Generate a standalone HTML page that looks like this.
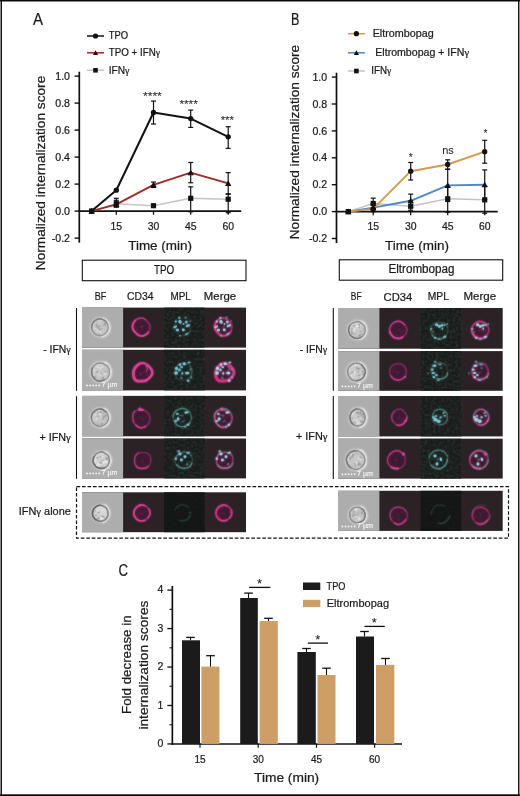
<!DOCTYPE html>
<html><head><meta charset="utf-8"><title>Figure</title>
<style>
html,body{margin:0;padding:0;background:#fff;}
body{width:520px;height:796px;overflow:hidden;font-family:"Liberation Sans",sans-serif;}
svg{display:block;will-change:transform;}
text{font-family:"Liberation Sans",sans-serif;stroke:#1a1a1a;stroke-width:0.22px;}
</style></head><body>
<svg width="520" height="796" viewBox="0 0 520 796">
<defs>
<filter id="b4" x="-20%" y="-20%" width="140%" height="140%"><feGaussianBlur stdDeviation="0.45"/></filter>
<filter id="b5" x="-20%" y="-20%" width="140%" height="140%"><feGaussianBlur stdDeviation="0.55"/></filter>
<filter id="b6" x="-20%" y="-20%" width="140%" height="140%"><feGaussianBlur stdDeviation="0.6"/></filter>
<filter id="b7" x="-20%" y="-20%" width="140%" height="140%"><feGaussianBlur stdDeviation="0.8"/></filter>
<filter id="b8" x="-20%" y="-20%" width="140%" height="140%"><feGaussianBlur stdDeviation="0.8"/></filter>
<radialGradient id="bfg"><stop offset="0" stop-color="#dcdcdc"/><stop offset="0.7" stop-color="#cdcdcd"/><stop offset="1" stop-color="#b9b9b9"/></radialGradient>
<filter id="nz" x="0" y="0" width="100%" height="100%"><feTurbulence type="fractalNoise" baseFrequency="0.36" numOctaves="2" seed="3" result="t"/><feColorMatrix type="matrix" values="0 0 0 0 0.19  0 0 0 0 0.24  0 0 0 0 0.20  0 2.4 0 0 -0.9"/></filter>
<filter id="nzg" x="0" y="0" width="100%" height="100%"><feTurbulence type="fractalNoise" baseFrequency="0.8" numOctaves="1" seed="5"/><feColorMatrix type="matrix" values="0 0 0 0 0.5  0 0 0 0 0.5  0 0 0 0 0.5  0 1.2 0 0 -0.5"/></filter>
</defs>
<rect x="0" y="0" width="520" height="796" fill="#fff"/>

<text x="33.1" y="24.6" font-size="17" text-anchor="start" fill="#1a1a1a" textLength="10" lengthAdjust="spacingAndGlyphs" >A</text>
<line x1="79.3" y1="71.69999999999999" x2="79.3" y2="242.7" stroke="#111" stroke-width="1.7" />
<line x1="78.5" y1="211.1" x2="241.2" y2="211.1" stroke="#111" stroke-width="1.75" />
<line x1="74.6" y1="76.1" x2="79.3" y2="76.1" stroke="#111" stroke-width="1.4" />
<text x="70.0" y="79.69999999999999" font-size="10.6" text-anchor="end" fill="#1a1a1a" >1.0</text>
<line x1="74.6" y1="103.1" x2="79.3" y2="103.1" stroke="#111" stroke-width="1.4" />
<text x="70.0" y="106.69999999999999" font-size="10.6" text-anchor="end" fill="#1a1a1a" >0.8</text>
<line x1="74.6" y1="130.1" x2="79.3" y2="130.1" stroke="#111" stroke-width="1.4" />
<text x="70.0" y="133.7" font-size="10.6" text-anchor="end" fill="#1a1a1a" >0.6</text>
<line x1="74.6" y1="157.1" x2="79.3" y2="157.1" stroke="#111" stroke-width="1.4" />
<text x="70.0" y="160.7" font-size="10.6" text-anchor="end" fill="#1a1a1a" >0.4</text>
<line x1="74.6" y1="184.1" x2="79.3" y2="184.1" stroke="#111" stroke-width="1.4" />
<text x="70.0" y="187.7" font-size="10.6" text-anchor="end" fill="#1a1a1a" >0.2</text>
<line x1="74.6" y1="211.1" x2="79.3" y2="211.1" stroke="#111" stroke-width="1.4" />
<text x="70.0" y="214.7" font-size="10.6" text-anchor="end" fill="#1a1a1a" >0.0</text>
<line x1="74.6" y1="238.1" x2="79.3" y2="238.1" stroke="#111" stroke-width="1.4" />
<text x="70.0" y="241.7" font-size="10.6" text-anchor="end" fill="#1a1a1a" >-0.2</text>
<line x1="116.3" y1="211.1" x2="116.3" y2="214.7" stroke="#111" stroke-width="1.3" />
<text x="116.3" y="229.9" font-size="10.6" text-anchor="middle" fill="#1a1a1a" textLength="11.6" lengthAdjust="spacingAndGlyphs" >15</text>
<line x1="153.5" y1="211.1" x2="153.5" y2="214.7" stroke="#111" stroke-width="1.3" />
<text x="153.5" y="229.9" font-size="10.6" text-anchor="middle" fill="#1a1a1a" textLength="11.6" lengthAdjust="spacingAndGlyphs" >30</text>
<line x1="190.7" y1="211.1" x2="190.7" y2="214.7" stroke="#111" stroke-width="1.3" />
<text x="190.7" y="229.9" font-size="10.6" text-anchor="middle" fill="#1a1a1a" textLength="11.6" lengthAdjust="spacingAndGlyphs" >45</text>
<line x1="228.2" y1="211.1" x2="228.2" y2="214.7" stroke="#111" stroke-width="1.3" />
<text x="228.2" y="229.9" font-size="10.6" text-anchor="middle" fill="#1a1a1a" textLength="11.6" lengthAdjust="spacingAndGlyphs" >60</text>
<text x="160.1" y="249.5" font-size="12.8" text-anchor="middle" fill="#1a1a1a" textLength="63.8" lengthAdjust="spacingAndGlyphs" >Time (min)</text>
<text x="44.9" y="270.2" font-size="13" text-anchor="start" fill="#1a1a1a" textLength="194.5" lengthAdjust="spacingAndGlyphs" transform="rotate(-90 44.9 270.2)" >Normalized internalization score</text>
<polyline points="91.6,211.1 116.3,203.7 153.5,205.7 190.7,198.3 228.2,199.2" fill="none" stroke="#c9c1c4" stroke-width="1.4" stroke-linejoin="round"/>
<polyline points="91.6,211.1 116.3,204.3 153.5,184.8 190.7,172.6 228.2,183.4" fill="none" stroke="#9c2c25" stroke-width="1.9" stroke-linejoin="round"/>
<polyline points="91.6,211.1 116.3,190.2 153.5,112.5 190.7,118.6 228.2,136.8" fill="none" stroke="#111111" stroke-width="2.0" stroke-linejoin="round"/>
<line x1="116.3" y1="198.275" x2="116.3" y2="207.04999999999998" stroke="#111" stroke-width="1.2" />
<line x1="113.8" y1="198.275" x2="118.8" y2="198.275" stroke="#111" stroke-width="1.2" />
<line x1="113.8" y1="207.04999999999998" x2="118.8" y2="207.04999999999998" stroke="#111" stroke-width="1.2" />
<line x1="190.7" y1="186.79999999999998" x2="190.7" y2="211.775" stroke="#111" stroke-width="1.2" />
<line x1="188.2" y1="186.79999999999998" x2="193.2" y2="186.79999999999998" stroke="#111" stroke-width="1.2" />
<line x1="188.2" y1="211.775" x2="193.2" y2="211.775" stroke="#111" stroke-width="1.2" />
<line x1="228.2" y1="193.82" x2="228.2" y2="212.72" stroke="#111" stroke-width="1.2" />
<line x1="225.7" y1="193.82" x2="230.7" y2="193.82" stroke="#111" stroke-width="1.2" />
<line x1="225.7" y1="212.72" x2="230.7" y2="212.72" stroke="#111" stroke-width="1.2" />
<line x1="116.3" y1="200.29999999999998" x2="116.3" y2="207.04999999999998" stroke="#111" stroke-width="1.2" />
<line x1="113.8" y1="200.29999999999998" x2="118.8" y2="200.29999999999998" stroke="#111" stroke-width="1.2" />
<line x1="113.8" y1="207.04999999999998" x2="118.8" y2="207.04999999999998" stroke="#111" stroke-width="1.2" />
<line x1="153.5" y1="182.075" x2="153.5" y2="187.475" stroke="#111" stroke-width="1.2" />
<line x1="151.0" y1="182.075" x2="156.0" y2="182.075" stroke="#111" stroke-width="1.2" />
<line x1="151.0" y1="187.475" x2="156.0" y2="187.475" stroke="#111" stroke-width="1.2" />
<line x1="190.7" y1="162.5" x2="190.7" y2="182.75" stroke="#111" stroke-width="1.2" />
<line x1="188.2" y1="162.5" x2="193.2" y2="162.5" stroke="#111" stroke-width="1.2" />
<line x1="188.2" y1="182.75" x2="193.2" y2="182.75" stroke="#111" stroke-width="1.2" />
<line x1="228.2" y1="172.625" x2="228.2" y2="194.225" stroke="#111" stroke-width="1.2" />
<line x1="225.7" y1="172.625" x2="230.7" y2="172.625" stroke="#111" stroke-width="1.2" />
<line x1="225.7" y1="194.225" x2="230.7" y2="194.225" stroke="#111" stroke-width="1.2" />
<line x1="153.5" y1="101.075" x2="153.5" y2="124.02499999999999" stroke="#111" stroke-width="1.2" />
<line x1="151.0" y1="101.075" x2="156.0" y2="101.075" stroke="#111" stroke-width="1.2" />
<line x1="151.0" y1="124.02499999999999" x2="156.0" y2="124.02499999999999" stroke="#111" stroke-width="1.2" />
<line x1="190.7" y1="110.11999999999999" x2="190.7" y2="127.39999999999998" stroke="#111" stroke-width="1.2" />
<line x1="188.2" y1="110.11999999999999" x2="193.2" y2="110.11999999999999" stroke="#111" stroke-width="1.2" />
<line x1="188.2" y1="127.39999999999998" x2="193.2" y2="127.39999999999998" stroke="#111" stroke-width="1.2" />
<line x1="228.2" y1="126.725" x2="228.2" y2="148.325" stroke="#111" stroke-width="1.2" />
<line x1="225.7" y1="126.725" x2="230.7" y2="126.725" stroke="#111" stroke-width="1.2" />
<line x1="225.7" y1="148.325" x2="230.7" y2="148.325" stroke="#111" stroke-width="1.2" />
<rect x="89.0" y="208.5" width="5.2" height="5.2" fill="#111"/>
<rect x="113.7" y="201.1" width="5.2" height="5.2" fill="#111"/>
<rect x="150.9" y="203.1" width="5.2" height="5.2" fill="#111"/>
<rect x="188.1" y="195.70000000000002" width="5.2" height="5.2" fill="#111"/>
<rect x="225.6" y="196.6" width="5.2" height="5.2" fill="#111"/>
<path d="M88.39999999999999,213.66 L94.8,213.66 L91.6,208.06 Z" fill="#111"/>
<path d="M113.1,206.86 L119.5,206.86 L116.3,201.26000000000002 Z" fill="#111"/>
<path d="M150.3,187.36 L156.7,187.36 L153.5,181.76000000000002 Z" fill="#111"/>
<path d="M187.5,175.16 L193.89999999999998,175.16 L190.7,169.56 Z" fill="#111"/>
<path d="M225.0,185.96 L231.39999999999998,185.96 L228.2,180.36 Z" fill="#111"/>
<circle cx="91.6" cy="211.1" r="2.65" fill="#111"/>
<circle cx="116.3" cy="190.2" r="2.65" fill="#111"/>
<circle cx="153.5" cy="112.5" r="2.65" fill="#111"/>
<circle cx="190.7" cy="118.6" r="2.65" fill="#111"/>
<circle cx="228.2" cy="136.8" r="2.65" fill="#111"/>
<line x1="87" y1="36" x2="104" y2="36" stroke="#111" stroke-width="1.5" />
<circle cx="95.5" cy="36" r="2.6" fill="#111"/>
<text x="108.7" y="39.4" font-size="10" text-anchor="start" fill="#1a1a1a" textLength="19.3" lengthAdjust="spacingAndGlyphs" >TPO</text>
<line x1="87" y1="52.8" x2="104" y2="52.8" stroke="#9c2c25" stroke-width="1.5" />
<path d="M92.9,54.879999999999995 L98.1,54.879999999999995 L95.5,50.33 Z" fill="#111"/>
<text x="108.7" y="56.199999999999996" font-size="10" text-anchor="start" fill="#1a1a1a" textLength="51.3" lengthAdjust="spacingAndGlyphs" >TPO + IFN<tspan font-family="Liberation Serif, serif" font-size="9.8">γ</tspan></text>
<line x1="87" y1="70.3" x2="104" y2="70.3" stroke="#c9c1c4" stroke-width="1.5" />
<rect x="93.2" y="68.0" width="4.6" height="4.6" fill="#111"/>
<text x="108.7" y="73.7" font-size="10" text-anchor="start" fill="#1a1a1a" textLength="20.7" lengthAdjust="spacingAndGlyphs" >IFN<tspan font-family="Liberation Serif, serif" font-size="9.8">γ</tspan></text>
<text x="152.4" y="99.6" font-size="10" text-anchor="middle" fill="#2a2a2a" textLength="18.9" lengthAdjust="spacingAndGlyphs" style="stroke-width:0.08px">****</text>
<text x="188.6" y="107.9" font-size="10" text-anchor="middle" fill="#2a2a2a" textLength="18.4" lengthAdjust="spacingAndGlyphs" style="stroke-width:0.08px">****</text>
<text x="227.3" y="123.7" font-size="10" text-anchor="middle" fill="#2a2a2a" textLength="13.3" lengthAdjust="spacingAndGlyphs" style="stroke-width:0.08px">***</text>
<text x="291" y="24.6" font-size="16.6" text-anchor="start" fill="#1a1a1a" textLength="8.4" lengthAdjust="spacingAndGlyphs" >B</text>
<line x1="336.5" y1="72.69999999999999" x2="336.5" y2="243.1" stroke="#111" stroke-width="1.7" />
<line x1="335.7" y1="211.6" x2="497.7" y2="211.6" stroke="#111" stroke-width="1.75" />
<line x1="331.8" y1="77.1" x2="336.5" y2="77.1" stroke="#111" stroke-width="1.4" />
<text x="327.2" y="80.69999999999999" font-size="10.6" text-anchor="end" fill="#1a1a1a" >1.0</text>
<line x1="331.8" y1="103.99999999999999" x2="336.5" y2="103.99999999999999" stroke="#111" stroke-width="1.4" />
<text x="327.2" y="107.59999999999998" font-size="10.6" text-anchor="end" fill="#1a1a1a" >0.8</text>
<line x1="331.8" y1="130.89999999999998" x2="336.5" y2="130.89999999999998" stroke="#111" stroke-width="1.4" />
<text x="327.2" y="134.49999999999997" font-size="10.6" text-anchor="end" fill="#1a1a1a" >0.6</text>
<line x1="331.8" y1="157.79999999999998" x2="336.5" y2="157.79999999999998" stroke="#111" stroke-width="1.4" />
<text x="327.2" y="161.39999999999998" font-size="10.6" text-anchor="end" fill="#1a1a1a" >0.4</text>
<line x1="331.8" y1="184.7" x2="336.5" y2="184.7" stroke="#111" stroke-width="1.4" />
<text x="327.2" y="188.29999999999998" font-size="10.6" text-anchor="end" fill="#1a1a1a" >0.2</text>
<line x1="331.8" y1="211.6" x2="336.5" y2="211.6" stroke="#111" stroke-width="1.4" />
<text x="327.2" y="215.2" font-size="10.6" text-anchor="end" fill="#1a1a1a" >0.0</text>
<line x1="331.8" y1="238.5" x2="336.5" y2="238.5" stroke="#111" stroke-width="1.4" />
<text x="327.2" y="242.1" font-size="10.6" text-anchor="end" fill="#1a1a1a" >-0.2</text>
<line x1="373.2" y1="211.6" x2="373.2" y2="215.2" stroke="#111" stroke-width="1.3" />
<text x="373.2" y="230.4" font-size="10.6" text-anchor="middle" fill="#1a1a1a" textLength="11.6" lengthAdjust="spacingAndGlyphs" >15</text>
<line x1="410.7" y1="211.6" x2="410.7" y2="215.2" stroke="#111" stroke-width="1.3" />
<text x="410.7" y="230.4" font-size="10.6" text-anchor="middle" fill="#1a1a1a" textLength="11.6" lengthAdjust="spacingAndGlyphs" >30</text>
<line x1="447.7" y1="211.6" x2="447.7" y2="215.2" stroke="#111" stroke-width="1.3" />
<text x="447.7" y="230.4" font-size="10.6" text-anchor="middle" fill="#1a1a1a" textLength="11.6" lengthAdjust="spacingAndGlyphs" >45</text>
<line x1="484.7" y1="211.6" x2="484.7" y2="215.2" stroke="#111" stroke-width="1.3" />
<text x="484.7" y="230.4" font-size="10.6" text-anchor="middle" fill="#1a1a1a" textLength="11.6" lengthAdjust="spacingAndGlyphs" >60</text>
<text x="417.0" y="250.0" font-size="12.8" text-anchor="middle" fill="#1a1a1a" textLength="63.8" lengthAdjust="spacingAndGlyphs" >Time (min)</text>
<text x="298.9" y="239.3" font-size="13" text-anchor="start" fill="#1a1a1a" textLength="194.5" lengthAdjust="spacingAndGlyphs" transform="rotate(-90 298.9 239.3)" >Normalized internalization score</text>
<polyline points="348.3,211.6 373.2,203.5 410.7,206.2 447.7,198.8 484.7,199.8" fill="none" stroke="#c9c1c4" stroke-width="1.4" stroke-linejoin="round"/>
<polyline points="348.3,211.6 373.2,207.6 410.7,200.8 447.7,185.4 484.7,184.7" fill="none" stroke="#4f86c6" stroke-width="1.9" stroke-linejoin="round"/>
<polyline points="348.3,211.6 373.2,208.9 410.7,171.2 447.7,164.5 484.7,151.7" fill="none" stroke="#d19a4f" stroke-width="1.9" stroke-linejoin="round"/>
<line x1="373.2" y1="198.15" x2="373.2" y2="208.91" stroke="#111" stroke-width="1.2" />
<line x1="370.7" y1="198.15" x2="375.7" y2="198.15" stroke="#111" stroke-width="1.2" />
<line x1="370.7" y1="208.91" x2="375.7" y2="208.91" stroke="#111" stroke-width="1.2" />
<line x1="410.7" y1="200.84" x2="410.7" y2="210.255" stroke="#111" stroke-width="1.2" />
<line x1="408.2" y1="200.84" x2="413.2" y2="200.84" stroke="#111" stroke-width="1.2" />
<line x1="408.2" y1="210.255" x2="413.2" y2="210.255" stroke="#111" stroke-width="1.2" />
<line x1="447.7" y1="186.7175" x2="447.7" y2="212.2725" stroke="#111" stroke-width="1.2" />
<line x1="445.2" y1="186.7175" x2="450.2" y2="186.7175" stroke="#111" stroke-width="1.2" />
<line x1="445.2" y1="212.2725" x2="450.2" y2="212.2725" stroke="#111" stroke-width="1.2" />
<line x1="484.7" y1="186.314" x2="484.7" y2="213.214" stroke="#111" stroke-width="1.2" />
<line x1="482.2" y1="186.314" x2="487.2" y2="186.314" stroke="#111" stroke-width="1.2" />
<line x1="482.2" y1="213.214" x2="487.2" y2="213.214" stroke="#111" stroke-width="1.2" />
<line x1="373.2" y1="203.53" x2="373.2" y2="211.6" stroke="#111" stroke-width="1.2" />
<line x1="370.7" y1="203.53" x2="375.7" y2="203.53" stroke="#111" stroke-width="1.2" />
<line x1="370.7" y1="211.6" x2="375.7" y2="211.6" stroke="#111" stroke-width="1.2" />
<line x1="410.7" y1="194.115" x2="410.7" y2="207.565" stroke="#111" stroke-width="1.2" />
<line x1="408.2" y1="194.115" x2="413.2" y2="194.115" stroke="#111" stroke-width="1.2" />
<line x1="408.2" y1="207.565" x2="413.2" y2="207.565" stroke="#111" stroke-width="1.2" />
<line x1="447.7" y1="169.2325" x2="447.7" y2="201.5125" stroke="#111" stroke-width="1.2" />
<line x1="445.2" y1="169.2325" x2="450.2" y2="169.2325" stroke="#111" stroke-width="1.2" />
<line x1="445.2" y1="201.5125" x2="450.2" y2="201.5125" stroke="#111" stroke-width="1.2" />
<line x1="484.7" y1="169.905" x2="484.7" y2="199.495" stroke="#111" stroke-width="1.2" />
<line x1="482.2" y1="169.905" x2="487.2" y2="169.905" stroke="#111" stroke-width="1.2" />
<line x1="482.2" y1="199.495" x2="487.2" y2="199.495" stroke="#111" stroke-width="1.2" />
<line x1="373.2" y1="204.875" x2="373.2" y2="211.6" stroke="#111" stroke-width="1.2" />
<line x1="370.7" y1="204.875" x2="375.7" y2="204.875" stroke="#111" stroke-width="1.2" />
<line x1="370.7" y1="211.6" x2="375.7" y2="211.6" stroke="#111" stroke-width="1.2" />
<line x1="410.7" y1="162.5075" x2="410.7" y2="179.9925" stroke="#111" stroke-width="1.2" />
<line x1="408.2" y1="162.5075" x2="413.2" y2="162.5075" stroke="#111" stroke-width="1.2" />
<line x1="408.2" y1="179.9925" x2="413.2" y2="179.9925" stroke="#111" stroke-width="1.2" />
<line x1="447.7" y1="159.8175" x2="447.7" y2="169.23250000000002" stroke="#111" stroke-width="1.2" />
<line x1="445.2" y1="159.8175" x2="450.2" y2="159.8175" stroke="#111" stroke-width="1.2" />
<line x1="445.2" y1="169.23250000000002" x2="450.2" y2="169.23250000000002" stroke="#111" stroke-width="1.2" />
<line x1="484.7" y1="140.315" x2="484.7" y2="163.18" stroke="#111" stroke-width="1.2" />
<line x1="482.2" y1="140.315" x2="487.2" y2="140.315" stroke="#111" stroke-width="1.2" />
<line x1="482.2" y1="163.18" x2="487.2" y2="163.18" stroke="#111" stroke-width="1.2" />
<rect x="345.7" y="209.0" width="5.2" height="5.2" fill="#111"/>
<rect x="370.59999999999997" y="200.9" width="5.2" height="5.2" fill="#111"/>
<rect x="408.09999999999997" y="203.6" width="5.2" height="5.2" fill="#111"/>
<rect x="445.09999999999997" y="196.20000000000002" width="5.2" height="5.2" fill="#111"/>
<rect x="482.09999999999997" y="197.20000000000002" width="5.2" height="5.2" fill="#111"/>
<path d="M345.1,214.16 L351.5,214.16 L348.3,208.56 Z" fill="#111"/>
<path d="M370.0,210.16 L376.4,210.16 L373.2,204.56 Z" fill="#111"/>
<path d="M407.5,203.36 L413.9,203.36 L410.7,197.76000000000002 Z" fill="#111"/>
<path d="M444.5,187.96 L450.9,187.96 L447.7,182.36 Z" fill="#111"/>
<path d="M481.5,187.26 L487.9,187.26 L484.7,181.66 Z" fill="#111"/>
<circle cx="348.3" cy="211.6" r="2.65" fill="#111"/>
<circle cx="373.2" cy="208.9" r="2.65" fill="#111"/>
<circle cx="410.7" cy="171.2" r="2.65" fill="#111"/>
<circle cx="447.7" cy="164.5" r="2.65" fill="#111"/>
<circle cx="484.7" cy="151.7" r="2.65" fill="#111"/>
<line x1="347.9" y1="33.7" x2="364.9" y2="33.7" stroke="#d19a4f" stroke-width="1.5" />
<circle cx="356.4" cy="33.7" r="2.6" fill="#111"/>
<text x="372.7" y="37.1" font-size="10" text-anchor="start" fill="#1a1a1a" textLength="61" lengthAdjust="spacingAndGlyphs" >Eltrombopag</text>
<line x1="347.9" y1="52.8" x2="364.9" y2="52.8" stroke="#4f86c6" stroke-width="1.5" />
<path d="M353.79999999999995,54.879999999999995 L359.0,54.879999999999995 L356.4,50.33 Z" fill="#111"/>
<text x="375.3" y="56.199999999999996" font-size="10" text-anchor="start" fill="#1a1a1a" textLength="93.7" lengthAdjust="spacingAndGlyphs" >Eltrombopag + IFN<tspan font-family="Liberation Serif, serif" font-size="9.8">γ</tspan></text>
<line x1="347.9" y1="71" x2="364.9" y2="71" stroke="#c9c1c4" stroke-width="1.5" />
<rect x="354.09999999999997" y="68.7" width="4.6" height="4.6" fill="#111"/>
<text x="371.2" y="74.4" font-size="10" text-anchor="start" fill="#1a1a1a" textLength="20" lengthAdjust="spacingAndGlyphs" >IFN<tspan font-family="Liberation Serif, serif" font-size="9.8">γ</tspan></text>
<text x="410.7" y="161" font-size="10" text-anchor="middle" fill="#2a2a2a" style="stroke-width:0.08px">*</text>
<text x="448" y="154" font-size="11" text-anchor="middle" fill="#2a2a2a" style="stroke-width:0.08px">ns</text>
<text x="485.5" y="137" font-size="10" text-anchor="middle" fill="#2a2a2a" style="stroke-width:0.08px">*</text>
<rect x="82.3" y="260.2" width="163.7" height="20.5" fill="none" stroke="#111" stroke-width="1.1" />
<text x="164.15" y="273.7" font-size="12" text-anchor="middle" fill="#1a1a1a" textLength="20.3" lengthAdjust="spacingAndGlyphs" >TPO</text>
<text x="100.4" y="300.3" font-size="10.5" text-anchor="middle" fill="#1a1a1a" textLength="11.5" lengthAdjust="spacingAndGlyphs" >BF</text>
<text x="140.2" y="300.4" font-size="11" text-anchor="middle" fill="#1a1a1a" textLength="26.5" lengthAdjust="spacingAndGlyphs" >CD34</text>
<text x="180.6" y="300.3" font-size="10.5" text-anchor="middle" fill="#1a1a1a" textLength="20.4" lengthAdjust="spacingAndGlyphs" >MPL</text>
<text x="220" y="300.3" font-size="10.8" text-anchor="middle" fill="#1a1a1a" textLength="32.3" lengthAdjust="spacingAndGlyphs" >Merge</text>
<rect x="82.0" y="307.6" width="164.0" height="40.0" fill="#2a2224" />
<rect x="82.0" y="307.6" width="41.099999999999994" height="40.0" fill="#adadad" />
<rect x="164.0" y="307.6" width="40.599999999999994" height="40.0" fill="#181c1a" />
<rect x="82.0" y="349.8" width="164.0" height="40.599999999999966" fill="#2a2224" />
<rect x="82.0" y="349.8" width="41.099999999999994" height="40.599999999999966" fill="#adadad" />
<rect x="164.0" y="349.8" width="40.599999999999994" height="40.599999999999966" fill="#181c1a" />
<rect x="82.0" y="395.9" width="164.0" height="40.400000000000034" fill="#2a2224" />
<rect x="82.0" y="395.9" width="41.099999999999994" height="40.400000000000034" fill="#adadad" />
<rect x="164.0" y="395.9" width="40.599999999999994" height="40.400000000000034" fill="#181c1a" />
<rect x="82.0" y="438.5" width="164.0" height="39.89999999999998" fill="#2a2224" />
<rect x="82.0" y="438.5" width="41.099999999999994" height="39.89999999999998" fill="#adadad" />
<rect x="164.0" y="438.5" width="40.599999999999994" height="39.89999999999998" fill="#181c1a" />
<rect x="82.0" y="492.3" width="164.0" height="39.900000000000034" fill="#2a2224" />
<rect x="82.0" y="492.3" width="41.099999999999994" height="39.900000000000034" fill="#adadad" />
<rect x="164.0" y="492.3" width="40.599999999999994" height="39.900000000000034" fill="#131615" />
<line x1="76.5" y1="308" x2="76.5" y2="390.8" stroke="#111" stroke-width="1.1" />
<line x1="76.5" y1="396.2" x2="76.5" y2="478.8" stroke="#111" stroke-width="1.1" />
<text x="70.8" y="353.3" font-size="10.5" text-anchor="end" fill="#1a1a1a" textLength="27.5" lengthAdjust="spacingAndGlyphs" >- IFN<tspan font-family="Liberation Serif, serif" font-size="10.3">γ</tspan></text>
<text x="70.8" y="440.5" font-size="10.5" text-anchor="end" fill="#1a1a1a" textLength="31.3" lengthAdjust="spacingAndGlyphs" >+ IFN<tspan font-family="Liberation Serif, serif" font-size="10.3">γ</tspan></text>
<text x="70.8" y="515" font-size="10.5" text-anchor="end" fill="#1a1a1a" textLength="52" lengthAdjust="spacingAndGlyphs" >IFN<tspan font-family="Liberation Serif, serif" font-size="10.3">γ</tspan> alone</text>
<rect x="339.3" y="259.8" width="163.39999999999998" height="20.399999999999977" fill="none" stroke="#111" stroke-width="1.1" />
<text x="421.5" y="273.2" font-size="12" text-anchor="middle" fill="#1a1a1a" textLength="66.2" lengthAdjust="spacingAndGlyphs" >Eltrombopag</text>
<text x="356.2" y="299.8" font-size="10.5" text-anchor="middle" fill="#1a1a1a" textLength="10.8" lengthAdjust="spacingAndGlyphs" >BF</text>
<text x="397.9" y="300.6" font-size="11.5" text-anchor="middle" fill="#1a1a1a" textLength="28.8" lengthAdjust="spacingAndGlyphs" >CD34</text>
<text x="438.3" y="299.8" font-size="10.5" text-anchor="middle" fill="#1a1a1a" textLength="21.2" lengthAdjust="spacingAndGlyphs" >MPL</text>
<text x="479.8" y="299.8" font-size="10.8" text-anchor="middle" fill="#1a1a1a" textLength="32.7" lengthAdjust="spacingAndGlyphs" >Merge</text>
<rect x="338.0" y="308.0" width="164.7" height="40.69999999999999" fill="#2a2224" />
<rect x="338.0" y="308.0" width="41.39999999999998" height="40.69999999999999" fill="#adadad" />
<rect x="420.6" y="308.0" width="40.69999999999999" height="40.69999999999999" fill="#181c1a" />
<rect x="338.0" y="351.1" width="164.7" height="39.69999999999999" fill="#2a2224" />
<rect x="338.0" y="351.1" width="41.39999999999998" height="39.69999999999999" fill="#adadad" />
<rect x="420.6" y="351.1" width="40.69999999999999" height="39.69999999999999" fill="#181c1a" />
<rect x="338.0" y="396.0" width="164.7" height="40.39999999999998" fill="#2a2224" />
<rect x="338.0" y="396.0" width="41.39999999999998" height="40.39999999999998" fill="#adadad" />
<rect x="420.6" y="396.0" width="40.69999999999999" height="40.39999999999998" fill="#181c1a" />
<rect x="338.0" y="438.7" width="164.7" height="39.900000000000034" fill="#2a2224" />
<rect x="338.0" y="438.7" width="41.39999999999998" height="39.900000000000034" fill="#adadad" />
<rect x="420.6" y="438.7" width="40.69999999999999" height="39.900000000000034" fill="#181c1a" />
<rect x="338.0" y="490.8" width="164.7" height="40.099999999999966" fill="#2a2224" />
<rect x="338.0" y="490.8" width="41.39999999999998" height="40.099999999999966" fill="#adadad" />
<rect x="420.6" y="490.8" width="40.69999999999999" height="40.099999999999966" fill="#131615" />
<line x1="333.3" y1="308" x2="333.3" y2="390.8" stroke="#111" stroke-width="1.1" />
<line x1="333.3" y1="396" x2="333.3" y2="479" stroke="#111" stroke-width="1.1" />
<text x="327.3" y="352.9" font-size="10.5" text-anchor="end" fill="#1a1a1a" textLength="27.5" lengthAdjust="spacingAndGlyphs" >- IFN<tspan font-family="Liberation Serif, serif" font-size="10.3">γ</tspan></text>
<text x="327.5" y="440.3" font-size="10.5" text-anchor="end" fill="#1a1a1a" textLength="31.5" lengthAdjust="spacingAndGlyphs" >+ IFN<tspan font-family="Liberation Serif, serif" font-size="10.3">γ</tspan></text>
<rect x="164.0" y="307.6" width="40.6" height="40.0" fill="#000" filter="url(#nz)" opacity="0.17"/>
<rect x="82.0" y="307.6" width="41.1" height="40.0" fill="#000" filter="url(#nzg)" opacity="0.10"/>
<rect x="164.0" y="349.8" width="40.6" height="40.6" fill="#000" filter="url(#nz)" opacity="0.17"/>
<rect x="82.0" y="349.8" width="41.1" height="40.6" fill="#000" filter="url(#nzg)" opacity="0.10"/>
<rect x="164.0" y="395.9" width="40.6" height="40.4" fill="#000" filter="url(#nz)" opacity="0.17"/>
<rect x="82.0" y="395.9" width="41.1" height="40.4" fill="#000" filter="url(#nzg)" opacity="0.10"/>
<rect x="164.0" y="438.5" width="40.6" height="39.9" fill="#000" filter="url(#nz)" opacity="0.17"/>
<rect x="82.0" y="438.5" width="41.1" height="39.9" fill="#000" filter="url(#nzg)" opacity="0.10"/>
<rect x="164.0" y="492.3" width="40.6" height="39.9" fill="#000" filter="url(#nz)" opacity="0.04"/>
<rect x="82.0" y="492.3" width="41.1" height="39.9" fill="#000" filter="url(#nzg)" opacity="0.10"/>
<rect x="420.6" y="308.0" width="40.7" height="40.7" fill="#000" filter="url(#nz)" opacity="0.17"/>
<rect x="338.0" y="308.0" width="41.4" height="40.7" fill="#000" filter="url(#nzg)" opacity="0.10"/>
<rect x="420.6" y="351.1" width="40.7" height="39.7" fill="#000" filter="url(#nz)" opacity="0.17"/>
<rect x="338.0" y="351.1" width="41.4" height="39.7" fill="#000" filter="url(#nzg)" opacity="0.10"/>
<rect x="420.6" y="396.0" width="40.7" height="40.4" fill="#000" filter="url(#nz)" opacity="0.17"/>
<rect x="338.0" y="396.0" width="41.4" height="40.4" fill="#000" filter="url(#nzg)" opacity="0.10"/>
<rect x="420.6" y="438.7" width="40.7" height="39.9" fill="#000" filter="url(#nz)" opacity="0.17"/>
<rect x="338.0" y="438.7" width="41.4" height="39.9" fill="#000" filter="url(#nzg)" opacity="0.10"/>
<rect x="420.6" y="490.8" width="40.7" height="40.1" fill="#000" filter="url(#nz)" opacity="0.04"/>
<rect x="338.0" y="490.8" width="41.4" height="40.1" fill="#000" filter="url(#nzg)" opacity="0.10"/>
<defs><g id="k1">
<circle cx="99.9" cy="327.3" r="9.8" fill="none" stroke="#d4d4d4" stroke-width="1.4" opacity="0.75"/>
<path d="M103.2,318.2 L104.6,318.9 L105.9,319.8 L107.1,320.8 L108.1,322.1 L108.9,323.5 L109.4,325.0 L109.7,326.5 L109.7,328.2 L109.5,329.8 L109.0,331.3 L108.1,332.7 L107.1,333.9 L106.0,335.0 L104.6,335.9 L103.1,336.5 L101.6,337.0" fill="none" stroke="#efefef" stroke-width="1.6" opacity="0.95"/>
<circle cx="99.9" cy="327.3" r="8.0" fill="#c9c9c9" opacity="0.9"/>
<ellipse cx="96.9" cy="330.9" rx="0.9" ry="0.6" fill="#9a9a9a" opacity="0.71" transform="rotate(168 96.9 330.9)"/>
<ellipse cx="99.1" cy="324.1" rx="0.7" ry="0.8" fill="#f8f8f8" opacity="0.71" transform="rotate(85 99.1 324.1)"/>
<ellipse cx="96.6" cy="321.5" rx="0.7" ry="0.8" fill="#858585" opacity="0.71" transform="rotate(154 96.6 321.5)"/>
<ellipse cx="99.8" cy="333.7" rx="1.1" ry="1.0" fill="#888" opacity="0.71" transform="rotate(180 99.8 333.7)"/>
<ellipse cx="99.0" cy="330.4" rx="1.0" ry="0.9" fill="#858585" opacity="0.71" transform="rotate(22 99.0 330.4)"/>
<ellipse cx="97.3" cy="330.9" rx="1.6" ry="0.8" fill="#eee" opacity="0.71" transform="rotate(11 97.3 330.9)"/>
<ellipse cx="99.5" cy="329.2" rx="1.2" ry="0.8" fill="#888" opacity="0.71" transform="rotate(39 99.5 329.2)"/>
<ellipse cx="98.5" cy="330.9" rx="0.8" ry="1.1" fill="#e4e4e4" opacity="0.71" transform="rotate(3 98.5 330.9)"/>
<ellipse cx="93.9" cy="329.4" rx="1.5" ry="0.9" fill="#888" opacity="0.71" transform="rotate(31 93.9 329.4)"/>
<ellipse cx="94.8" cy="328.8" rx="1.3" ry="1.3" fill="#e4e4e4" opacity="0.71" transform="rotate(59 94.8 328.8)"/>
<ellipse cx="105.5" cy="324.2" rx="1.2" ry="1.1" fill="#888" opacity="0.71" transform="rotate(102 105.5 324.2)"/>
<ellipse cx="96.2" cy="324.4" rx="0.9" ry="0.7" fill="#929292" opacity="0.71" transform="rotate(23 96.2 324.4)"/>
<ellipse cx="96.7" cy="326.4" rx="1.3" ry="1.2" fill="#9a9a9a" opacity="0.71" transform="rotate(29 96.7 326.4)"/>
<ellipse cx="99.8" cy="325.8" rx="0.8" ry="1.0" fill="#9a9a9a" opacity="0.71" transform="rotate(65 99.8 325.8)"/>
<ellipse cx="100.2" cy="332.5" rx="1.2" ry="1.2" fill="#f8f8f8" opacity="0.71" transform="rotate(26 100.2 332.5)"/>
<ellipse cx="97.7" cy="324.6" rx="0.7" ry="0.9" fill="#9a9a9a" opacity="0.71" transform="rotate(119 97.7 324.6)"/>
<ellipse cx="98.6" cy="327.6" rx="1.3" ry="0.9" fill="#888" opacity="0.71" transform="rotate(65 98.6 327.6)"/>
<ellipse cx="104.2" cy="325.1" rx="1.4" ry="0.7" fill="#929292" opacity="0.71" transform="rotate(161 104.2 325.1)"/>
<ellipse cx="101.7" cy="328.8" rx="0.8" ry="0.9" fill="#9a9a9a" opacity="0.71" transform="rotate(32 101.7 328.8)"/>
<ellipse cx="104.6" cy="323.0" rx="1.2" ry="0.9" fill="#9a9a9a" opacity="0.71" transform="rotate(92 104.6 323.0)"/>
<path d="M94.2,330.6 L93.7,329.6 L93.4,328.6 L93.3,327.5 L93.3,326.5 L93.6,325.4 L93.9,324.4 L94.4,323.4 L95.1,322.6 L96.0,321.9 L96.9,321.3 L97.9,320.8 L98.9,320.5 L100.1,320.4 L101.1,320.7 L102.2,321.1" fill="none" stroke="#f4f4f4" stroke-width="1.0" opacity="0.57"/>
<path d="M108.1,327.3 L108.1,328.6 L107.8,329.9 L107.3,331.1 L106.6,332.2 L105.7,333.1 L104.8,334.0 L103.7,334.7 L102.5,335.2 L101.2,335.5 L99.9,335.7 L98.6,335.5 L97.4,335.1 L96.1,334.7 L95.0,334.1 L94.1,333.1 L93.4,332.0 L92.7,331.0 L92.1,329.8 L91.8,328.6 L91.7,327.3 L91.8,326.0 L92.2,324.8 L92.5,323.5 L93.1,322.4 L94.0,321.4 L95.1,320.7 L96.1,319.9 L97.3,319.3 L98.6,318.9 L99.9,318.8 L101.2,319.1 L102.4,319.5 L103.7,319.9 L104.9,320.4 L105.9,321.3 L106.7,322.3 L107.4,323.5 L107.9,324.7 L108.1,326.0 L108.1,327.3 Z" fill="none" stroke="#7b7b7b" stroke-width="1.14" opacity="0.95"/>
<path d="M91.8,328.7 L91.7,327.4 L91.8,326.1 L92.2,324.8 L92.6,323.5 L93.2,322.2 L94.2,321.3 L95.3,320.5 L96.4,319.7 L97.6,319.2 L99.0,318.8 L100.4,318.8 L101.7,319.2 L103.0,319.7 L104.3,320.1 L105.4,320.9 L106.4,321.9" fill="none" stroke="#5b5b5b" stroke-width="1.19" opacity="0.85"/>
</g></defs>
<use href="#k1" filter="url(#b8)" opacity="0.9"/><use href="#k1" opacity="0.55"/>
<defs><g id="k2">
<circle cx="141.4" cy="326.8" r="8.7" fill="#48183a" opacity="0.71"/>
<circle cx="141.7" cy="326.8" r="1.0" fill="#a82a74" opacity="0.27"/>
<circle cx="135.9" cy="327.4" r="0.8" fill="#a82a74" opacity="0.27"/>
<circle cx="142.2" cy="326.3" r="1.1" fill="#a82a74" opacity="0.27"/>
<circle cx="140.5" cy="327.4" r="0.8" fill="#a82a74" opacity="0.27"/>
<circle cx="141.3" cy="326.7" r="0.8" fill="#a82a74" opacity="0.27"/>
<circle cx="141.8" cy="326.8" r="0.7" fill="#a82a74" opacity="0.27"/>
<circle cx="141.6" cy="328.4" r="1.0" fill="#a82a74" opacity="0.27"/>
<circle cx="137.0" cy="329.3" r="1.0" fill="#a82a74" opacity="0.27"/>
<path d="M149.9,326.8 L149.9,328.1 L149.6,329.5 L149.2,330.8 L148.6,332.0 L147.7,333.1 L146.7,334.1 L145.5,334.8 L144.2,335.4 L142.8,335.8 L141.4,336.0 L140.0,335.8 L138.7,335.2 L137.5,334.4 L136.5,333.5 L135.6,332.6 L134.7,331.7 L133.9,330.6 L133.2,329.5 L132.7,328.2 L132.5,326.8 L132.6,325.4 L133.0,324.1 L133.5,322.8 L134.3,321.6 L135.2,320.6 L136.2,319.7 L137.4,319.0 L138.7,318.5 L140.0,318.2 L141.4,318.1 L142.8,318.2 L144.0,318.8 L145.1,319.5 L146.1,320.3 L147.0,321.2 L147.9,322.1 L148.7,323.1 L149.3,324.2 L149.8,325.5 L149.9,326.8 Z" fill="none" stroke="#cf3690" stroke-width="2.40" opacity="0.16"/>
<path d="M149.9,326.8 L149.9,328.1 L149.6,329.5 L149.2,330.8 L148.6,332.0 L147.7,333.1 L146.7,334.1 L145.5,334.8 L144.2,335.4 L142.8,335.8 L141.4,336.0 L140.0,335.8 L138.7,335.2 L137.5,334.4 L136.5,333.5 L135.6,332.6 L134.7,331.7 L133.9,330.6 L133.2,329.5 L132.7,328.2 L132.5,326.8 L132.6,325.4 L133.0,324.1 L133.5,322.8 L134.3,321.6 L135.2,320.6 L136.2,319.7 L137.4,319.0 L138.7,318.5 L140.0,318.2 L141.4,318.1 L142.8,318.2 L144.0,318.8 L145.1,319.5 L146.1,320.3 L147.0,321.2 L147.9,322.1 L148.7,323.1 L149.3,324.2 L149.8,325.5 L149.9,326.8 Z" fill="none" stroke="#cf3690" stroke-width="1.35" opacity="0.54"/>
<path d="M148.2,332.5 L147.2,333.6 L146.1,334.5 L144.8,335.2 L143.5,335.7 L142.0,335.9 L140.5,335.9 L139.1,335.4 L137.9,334.7 L136.8,333.8 L135.9,332.8 L134.9,331.9 L134.1,330.9 L133.3,329.7 L132.8,328.4 L132.5,327.0 L132.6,325.6 L132.9,324.2 L133.5,322.9 L134.3,321.7 L135.2,320.6" fill="none" stroke="#f046a6" stroke-width="1.90" opacity="1.00" stroke-linecap="round"/>
<path d="M138.4,335.0 L137.3,334.2 L136.3,333.3 L135.4,332.4 L134.5,331.4 L133.7,330.4 L133.0,329.2 L132.6,327.9 L132.5,326.5 L132.7,325.1 L133.1,323.8" fill="none" stroke="#f046a6" stroke-width="1.30" opacity="0.75" stroke-linecap="round"/>
<path d="M135.2,320.6 L136.3,319.7 L137.5,318.9 L138.9,318.4 L140.3,318.1 L141.7,318.1 L143.1,318.3 L144.4,319.0 L145.5,319.8" fill="none" stroke="#f046a6" stroke-width="1.30" opacity="0.52" stroke-linecap="round"/>
</g></defs>
<use href="#k2" filter="url(#b8)" opacity="0.6"/><use href="#k2" opacity="0.7"/>
<defs><g id="k3">
<path d="M190.8,326.7 L190.7,328.0 L190.6,329.4 L190.2,330.7 L189.5,332.0 L188.6,333.0 L187.6,333.9 L186.4,334.7 L185.1,335.2 L183.7,335.5 L182.3,335.5 L180.9,335.2 L179.7,334.8 L178.5,334.2 L177.4,333.5 L176.3,332.7 L175.2,331.8 L174.4,330.7 L173.8,329.5 L173.5,328.1 L173.5,326.7 L173.7,325.3 L174.0,324.0 L174.6,322.8 L175.4,321.7 L176.4,320.8 L177.5,320.0 L178.6,319.4 L179.7,318.7 L181.0,318.2 L182.3,317.8 L183.7,317.8 L185.1,318.2 L186.3,318.9 L187.3,319.8 L188.2,320.8 L189.1,321.8 L189.8,322.9 L190.3,324.1 L190.7,325.4 L190.8,326.7 Z" fill="none" stroke="#5aa69c" stroke-width="1.3" opacity="0.10"/>
<path d="M190.5,329.7 L190.2,330.8 L189.6,331.8 L188.9,332.8 L188.1,333.6 L187.1,334.2 L186.1,334.8 L185.0,335.2 L183.8,335.5" fill="none" stroke="#6cc4be" stroke-width="1.00" opacity="0.26" stroke-linecap="round"/>
<ellipse cx="179.4" cy="317.8" rx="1.10" ry="1.10" fill="#8adcee" opacity="0.85"/>
<ellipse cx="180.0" cy="321.8" rx="1.65" ry="1.87" fill="#8adcee" opacity="1.0" transform="rotate(-30 180.0 321.8)"/>
<ellipse cx="175.8" cy="321.6" rx="1.10" ry="1.10" fill="#8adcee" opacity="0.9"/>
<ellipse cx="186.3" cy="322.1" rx="1.32" ry="1.32" fill="#8adcee" opacity="0.95"/>
<ellipse cx="183.5" cy="323.9" rx="0.99" ry="0.99" fill="#8adcee" opacity="0.85"/>
<ellipse cx="187.9" cy="325.7" rx="2.31" ry="1.21" fill="#8adcee" opacity="1.0" transform="rotate(-25 187.9 325.7)"/>
<ellipse cx="175.2" cy="326.7" rx="2.09" ry="1.10" fill="#8adcee" opacity="0.9" transform="rotate(-30 175.2 326.7)"/>
<ellipse cx="177.4" cy="330.1" rx="1.54" ry="1.32" fill="#8adcee" opacity="1.0"/>
<ellipse cx="183.3" cy="329.9" rx="1.43" ry="1.43" fill="#8adcee" opacity="1.0"/>
<ellipse cx="186.9" cy="333.9" rx="1.98" ry="0.99" fill="#7fd4e4" opacity="0.7" transform="rotate(-35 186.9 333.9)"/>
<ellipse cx="180.0" cy="335.8" rx="1.32" ry="0.99" fill="#7fd4e4" opacity="0.55"/>
<ellipse cx="185.6" cy="317.5" rx="1.21" ry="0.88" fill="#7fd4e4" opacity="0.5"/>
<ellipse cx="190.2" cy="321.1" rx="0.88" ry="0.88" fill="#7fd4e4" opacity="0.45"/>
</g></defs>
<use href="#k3" filter="url(#b8)" opacity="0.65"/><use href="#k3" opacity="0.7"/>
<defs><g id="k4">
<circle cx="223.4" cy="326.8" r="8.7" fill="#48183a" opacity="0.55"/>
<circle cx="223.7" cy="326.8" r="1.0" fill="#a82a74" opacity="0.35"/>
<circle cx="217.9" cy="327.4" r="0.8" fill="#a82a74" opacity="0.35"/>
<circle cx="224.2" cy="326.3" r="1.1" fill="#a82a74" opacity="0.35"/>
<circle cx="222.5" cy="327.4" r="0.8" fill="#a82a74" opacity="0.35"/>
<circle cx="223.3" cy="326.7" r="0.8" fill="#a82a74" opacity="0.35"/>
<circle cx="223.8" cy="326.8" r="0.7" fill="#a82a74" opacity="0.35"/>
<circle cx="223.6" cy="328.4" r="1.0" fill="#a82a74" opacity="0.35"/>
<circle cx="219.0" cy="329.3" r="1.0" fill="#a82a74" opacity="0.35"/>
<path d="M231.8,326.8 L231.7,328.1 L231.5,329.4 L231.1,330.7 L230.5,332.0 L229.6,333.0 L228.6,333.9 L227.4,334.7 L226.2,335.3 L224.8,335.7 L223.4,335.8 L222.0,335.6 L220.7,335.1 L219.6,334.3 L218.6,333.4 L217.7,332.5 L216.8,331.6 L216.0,330.6 L215.3,329.4 L214.8,328.2 L214.6,326.8 L214.8,325.4 L215.1,324.1 L215.6,322.8 L216.4,321.7 L217.3,320.7 L218.3,319.8 L219.5,319.1 L220.7,318.6 L222.1,318.3 L223.4,318.2 L224.7,318.4 L226.0,318.9 L227.1,319.6 L228.0,320.4 L228.9,321.3 L229.8,322.2 L230.6,323.2 L231.2,324.3 L231.7,325.5 L231.8,326.8 Z" fill="none" stroke="#d6237c" stroke-width="2.69" opacity="0.21"/>
<path d="M231.8,326.8 L231.7,328.1 L231.5,329.4 L231.1,330.7 L230.5,332.0 L229.6,333.0 L228.6,333.9 L227.4,334.7 L226.2,335.3 L224.8,335.7 L223.4,335.8 L222.0,335.6 L220.7,335.1 L219.6,334.3 L218.6,333.4 L217.7,332.5 L216.8,331.6 L216.0,330.6 L215.3,329.4 L214.8,328.2 L214.6,326.8 L214.8,325.4 L215.1,324.1 L215.6,322.8 L216.4,321.7 L217.3,320.7 L218.3,319.8 L219.5,319.1 L220.7,318.6 L222.1,318.3 L223.4,318.2 L224.7,318.4 L226.0,318.9 L227.1,319.6 L228.0,320.4 L228.9,321.3 L229.8,322.2 L230.6,323.2 L231.2,324.3 L231.7,325.5 L231.8,326.8 Z" fill="none" stroke="#d6237c" stroke-width="1.51" opacity="0.70"/>
<path d="M230.1,332.5 L229.2,333.5 L228.0,334.4 L226.8,335.1 L225.4,335.6 L224.0,335.8 L222.5,335.8 L221.2,335.3 L219.9,334.6 L218.9,333.7 L217.9,332.8 L217.0,331.8 L216.2,330.8 L215.4,329.7 L214.9,328.4 L214.6,327.0 L214.7,325.6 L215.1,324.2 L215.6,322.9 L216.4,321.7 L217.3,320.7" fill="none" stroke="#f0308e" stroke-width="1.90" opacity="1.00" stroke-linecap="round"/>
<path d="M220.4,334.9 L219.4,334.1 L218.4,333.2 L217.5,332.3 L216.6,331.4 L215.8,330.3 L215.2,329.2 L214.7,327.9 L214.6,326.5 L214.8,325.1 L215.2,323.8" fill="none" stroke="#f0308e" stroke-width="1.30" opacity="0.75" stroke-linecap="round"/>
<path d="M217.3,320.7 L218.4,319.8 L219.6,319.0 L220.9,318.5 L222.3,318.3 L223.7,318.2 L225.1,318.5 L226.3,319.1 L227.4,319.9" fill="none" stroke="#f0308e" stroke-width="1.30" opacity="0.52" stroke-linecap="round"/>
</g></defs>
<use href="#k4" filter="url(#b8)" opacity="0.6"/><use href="#k4" opacity="0.7"/>
<defs><g id="k5">
<path d="M231.8,326.7 L231.7,328.0 L231.6,329.4 L231.2,330.7 L230.5,332.0 L229.6,333.0 L228.6,333.9 L227.4,334.7 L226.1,335.2 L224.7,335.5 L223.3,335.5 L221.9,335.2 L220.7,334.8 L219.5,334.2 L218.4,333.5 L217.3,332.7 L216.2,331.8 L215.4,330.7 L214.8,329.5 L214.5,328.1 L214.5,326.7 L214.7,325.3 L215.0,324.0 L215.6,322.8 L216.4,321.7 L217.4,320.8 L218.5,320.0 L219.6,319.4 L220.7,318.7 L222.0,318.2 L223.3,317.8 L224.7,317.8 L226.1,318.2 L227.3,318.9 L228.3,319.8 L229.2,320.8 L230.1,321.8 L230.8,322.9 L231.3,324.1 L231.7,325.4 L231.8,326.7 Z" fill="none" stroke="#5aa69c" stroke-width="1.3" opacity="0.06"/>
<path d="M231.5,329.7 L231.2,330.8 L230.6,331.8 L229.9,332.8 L229.1,333.6 L228.1,334.2 L227.1,334.8 L226.0,335.2 L224.8,335.5" fill="none" stroke="#6cc4be" stroke-width="1.00" opacity="0.20" stroke-linecap="round"/>
<ellipse cx="220.4" cy="317.8" rx="1.10" ry="1.10" fill="#b4eaf6" opacity="0.85"/>
<ellipse cx="221.0" cy="321.8" rx="1.65" ry="1.87" fill="#b4eaf6" opacity="1.0" transform="rotate(-30 221.0 321.8)"/>
<ellipse cx="216.8" cy="321.6" rx="1.10" ry="1.10" fill="#b4eaf6" opacity="0.9"/>
<ellipse cx="227.3" cy="322.1" rx="1.32" ry="1.32" fill="#b4eaf6" opacity="0.95"/>
<ellipse cx="224.5" cy="323.9" rx="0.99" ry="0.99" fill="#b4eaf6" opacity="0.85"/>
<ellipse cx="228.9" cy="325.7" rx="2.31" ry="1.21" fill="#b4eaf6" opacity="1.0" transform="rotate(-25 228.9 325.7)"/>
<ellipse cx="216.2" cy="326.7" rx="2.09" ry="1.10" fill="#b4eaf6" opacity="0.9" transform="rotate(-30 216.2 326.7)"/>
<ellipse cx="218.4" cy="330.1" rx="1.54" ry="1.32" fill="#b4eaf6" opacity="1.0"/>
<ellipse cx="224.3" cy="329.9" rx="1.43" ry="1.43" fill="#b4eaf6" opacity="1.0"/>
<ellipse cx="227.9" cy="333.9" rx="1.98" ry="0.99" fill="#7fd4e4" opacity="0.7" transform="rotate(-35 227.9 333.9)"/>
<ellipse cx="221.0" cy="335.8" rx="1.32" ry="0.99" fill="#7fd4e4" opacity="0.55"/>
<ellipse cx="226.6" cy="317.5" rx="1.21" ry="0.88" fill="#7fd4e4" opacity="0.5"/>
<ellipse cx="231.2" cy="321.1" rx="0.88" ry="0.88" fill="#7fd4e4" opacity="0.45"/>
</g></defs>
<use href="#k5" filter="url(#b8)" opacity="0.65"/><use href="#k5" opacity="0.7"/>
<defs><g id="k6">
<circle cx="100.5" cy="372.0" r="10.5" fill="none" stroke="#d4d4d4" stroke-width="1.4" opacity="0.75"/>
<path d="M104.1,362.1 L105.7,362.7 L107.2,363.7 L108.4,364.9 L109.4,366.3 L110.2,367.9 L110.7,369.5 L111.0,371.2 L111.1,372.9 L110.8,374.6 L110.2,376.3 L109.2,377.7 L108.2,379.1 L107.1,380.4 L105.6,381.3 L103.9,381.8 L102.3,382.3" fill="none" stroke="#efefef" stroke-width="1.6" opacity="0.95"/>
<circle cx="100.5" cy="372.0" r="8.7" fill="#c9c9c9" opacity="0.9"/>
<ellipse cx="103.6" cy="377.3" rx="1.1" ry="0.8" fill="#858585" opacity="0.71" transform="rotate(121 103.6 377.3)"/>
<ellipse cx="102.4" cy="367.1" rx="1.4" ry="0.6" fill="#f8f8f8" opacity="0.71" transform="rotate(149 102.4 367.1)"/>
<ellipse cx="98.0" cy="373.2" rx="1.5" ry="1.1" fill="#f8f8f8" opacity="0.71" transform="rotate(111 98.0 373.2)"/>
<ellipse cx="106.8" cy="371.9" rx="1.3" ry="0.6" fill="#9a9a9a" opacity="0.71" transform="rotate(84 106.8 371.9)"/>
<ellipse cx="94.5" cy="370.5" rx="0.7" ry="1.1" fill="#fff" opacity="0.71" transform="rotate(22 94.5 370.5)"/>
<ellipse cx="105.5" cy="377.0" rx="0.8" ry="1.1" fill="#e4e4e4" opacity="0.71" transform="rotate(102 105.5 377.0)"/>
<ellipse cx="97.3" cy="372.3" rx="1.1" ry="1.2" fill="#888" opacity="0.71" transform="rotate(19 97.3 372.3)"/>
<ellipse cx="101.1" cy="368.7" rx="0.8" ry="0.9" fill="#929292" opacity="0.71" transform="rotate(99 101.1 368.7)"/>
<ellipse cx="102.6" cy="378.8" rx="1.0" ry="1.3" fill="#9a9a9a" opacity="0.71" transform="rotate(128 102.6 378.8)"/>
<ellipse cx="95.0" cy="376.8" rx="0.9" ry="1.2" fill="#9a9a9a" opacity="0.71" transform="rotate(40 95.0 376.8)"/>
<ellipse cx="99.0" cy="364.8" rx="0.7" ry="0.6" fill="#e4e4e4" opacity="0.71" transform="rotate(153 99.0 364.8)"/>
<ellipse cx="100.5" cy="368.5" rx="1.2" ry="1.0" fill="#fff" opacity="0.71" transform="rotate(46 100.5 368.5)"/>
<ellipse cx="97.7" cy="366.9" rx="1.0" ry="1.0" fill="#fff" opacity="0.71" transform="rotate(78 97.7 366.9)"/>
<ellipse cx="100.6" cy="375.0" rx="1.4" ry="0.9" fill="#eee" opacity="0.71" transform="rotate(174 100.6 375.0)"/>
<ellipse cx="105.7" cy="373.2" rx="1.1" ry="1.3" fill="#f8f8f8" opacity="0.71" transform="rotate(151 105.7 373.2)"/>
<ellipse cx="104.8" cy="372.4" rx="1.3" ry="1.3" fill="#9a9a9a" opacity="0.71" transform="rotate(62 104.8 372.4)"/>
<ellipse cx="101.5" cy="373.7" rx="1.4" ry="0.9" fill="#9a9a9a" opacity="0.71" transform="rotate(73 101.5 373.7)"/>
<ellipse cx="104.0" cy="373.2" rx="0.7" ry="0.8" fill="#858585" opacity="0.71" transform="rotate(100 104.0 373.2)"/>
<ellipse cx="104.4" cy="373.8" rx="1.6" ry="1.1" fill="#eee" opacity="0.71" transform="rotate(122 104.4 373.8)"/>
<ellipse cx="103.1" cy="372.8" rx="0.7" ry="0.7" fill="#e4e4e4" opacity="0.71" transform="rotate(93 103.1 372.8)"/>
<path d="M94.1,375.7 L93.7,374.6 L93.4,373.4 L93.3,372.3 L93.3,371.1 L93.5,369.9 L93.9,368.8 L94.4,367.7 L95.3,366.8 L96.3,366.2 L97.2,365.4 L98.3,364.8 L99.5,364.7 L100.7,364.7 L101.8,364.8 L103.0,365.2" fill="none" stroke="#f4f4f4" stroke-width="1.0" opacity="0.57"/>
<path d="M109.3,372.0 L109.4,373.4 L109.2,374.8 L108.6,376.1 L107.8,377.3 L106.9,378.4 L105.8,379.3 L104.5,379.9 L103.2,380.4 L101.9,380.9 L100.5,381.2 L99.1,381.0 L97.7,380.7 L96.4,380.1 L95.2,379.3 L94.1,378.4 L93.2,377.3 L92.5,376.1 L92.1,374.7 L91.8,373.4 L91.8,372.0 L91.8,370.6 L92.0,369.2 L92.5,367.9 L93.2,366.7 L94.2,365.7 L95.3,364.9 L96.4,364.0 L97.7,363.3 L99.1,363.1 L100.5,363.1 L101.9,363.3 L103.2,363.6 L104.5,364.2 L105.6,364.9 L106.9,365.6 L108.0,366.6 L108.7,367.8 L109.2,369.2 L109.4,370.6 L109.3,372.0 Z" fill="none" stroke="#787878" stroke-width="1.17" opacity="0.95"/>
<path d="M105.0,379.8 L103.6,380.3 L102.2,380.8 L100.8,381.1 L99.3,381.1 L97.8,380.8 L96.5,380.2 L95.3,379.3 L94.1,378.4 L93.2,377.2 L92.5,375.9 L92.0,374.6 L91.8,373.1 L91.8,371.7 L91.8,370.3 L92.1,368.9 L92.7,367.5" fill="none" stroke="#585858" stroke-width="1.22" opacity="0.85"/>
</g></defs>
<use href="#k6" filter="url(#b8)" opacity="0.9"/><use href="#k6" opacity="0.55"/>
<defs><g id="k7">
<circle cx="142.3" cy="372.6" r="9.9" fill="#48183a" opacity="0.81"/>
<circle cx="146.8" cy="374.9" r="1.1" fill="#a82a74" opacity="0.34"/>
<circle cx="136.9" cy="375.8" r="0.8" fill="#a82a74" opacity="0.34"/>
<circle cx="137.9" cy="368.4" r="0.7" fill="#a82a74" opacity="0.34"/>
<circle cx="143.4" cy="372.9" r="0.6" fill="#a82a74" opacity="0.34"/>
<circle cx="141.5" cy="372.9" r="0.6" fill="#a82a74" opacity="0.34"/>
<circle cx="141.3" cy="375.1" r="1.0" fill="#a82a74" opacity="0.34"/>
<circle cx="146.6" cy="372.9" r="1.1" fill="#a82a74" opacity="0.34"/>
<circle cx="142.2" cy="371.5" r="0.7" fill="#a82a74" opacity="0.34"/>
<path d="M152.3,372.6 L152.0,374.1 L151.4,375.5 L150.4,376.7 L149.4,377.8 L148.4,378.7 L147.4,379.6 L146.2,380.3 L144.9,380.7 L143.6,381.0 L142.3,381.1 L140.9,381.1 L139.5,381.2 L138.0,381.1 L136.5,380.6 L135.2,379.7 L134.3,378.4 L133.8,377.0 L133.6,375.4 L133.5,374.0 L133.5,372.6 L133.7,371.2 L134.0,369.9 L134.6,368.7 L135.3,367.5 L136.2,366.5 L137.2,365.5 L138.2,364.6 L139.5,363.9 L140.8,363.3 L142.3,363.1 L143.8,363.3 L145.2,363.7 L146.5,364.4 L147.6,365.3 L148.7,366.2 L149.7,367.3 L150.6,368.4 L151.5,369.6 L152.1,371.1 L152.3,372.6 Z" fill="none" stroke="#cf3690" stroke-width="3.48" opacity="0.21"/>
<path d="M152.3,372.6 L152.0,374.1 L151.4,375.5 L150.4,376.7 L149.4,377.8 L148.4,378.7 L147.4,379.6 L146.2,380.3 L144.9,380.7 L143.6,381.0 L142.3,381.1 L140.9,381.1 L139.5,381.2 L138.0,381.1 L136.5,380.6 L135.2,379.7 L134.3,378.4 L133.8,377.0 L133.6,375.4 L133.5,374.0 L133.5,372.6 L133.7,371.2 L134.0,369.9 L134.6,368.7 L135.3,367.5 L136.2,366.5 L137.2,365.5 L138.2,364.6 L139.5,363.9 L140.8,363.3 L142.3,363.1 L143.8,363.3 L145.2,363.7 L146.5,364.4 L147.6,365.3 L148.7,366.2 L149.7,367.3 L150.6,368.4 L151.5,369.6 L152.1,371.1 L152.3,372.6 Z" fill="none" stroke="#cf3690" stroke-width="1.96" opacity="0.69"/>
<path d="M146.6,380.1 L145.4,380.6 L144.1,380.9 L142.7,381.1 L141.4,381.1 L140.0,381.2 L138.4,381.1 L136.9,380.8 L135.5,380.0 L134.5,378.8 L133.9,377.4 L133.6,375.9 L133.5,374.4 L133.5,373.0 L133.6,371.6 L133.9,370.2 L134.4,369.0 L135.1,367.8 L136.0,366.7 L136.9,365.8 L138.0,364.8 L139.2,364.0" fill="none" stroke="#f046a6" stroke-width="2.80" opacity="1.00" stroke-linecap="round"/>
<path d="M148.1,365.7 L149.1,366.7 L150.1,367.8 L151.0,368.9 L151.8,370.3 L152.2,371.8 L152.2,373.4 L151.7,374.9 L150.9,376.2 L149.9,377.3 L148.9,378.3 L147.9,379.2" fill="none" stroke="#f046a6" stroke-width="2.40" opacity="0.98" stroke-linecap="round"/>
<path d="M139.2,364.0 L140.3,363.5 L141.5,363.2 L142.7,363.1 L143.9,363.3 L145.1,363.7 L146.2,364.3 L147.2,364.9 L148.1,365.7" fill="none" stroke="#f046a6" stroke-width="2.00" opacity="0.90" stroke-linecap="round"/>
<circle cx="146.6" cy="366.8" r="1.1" fill="#f548ac" opacity="0.8"/>
<circle cx="147.3" cy="369.0" r="1.0" fill="#f548ac" opacity="0.7"/>
<circle cx="146.5" cy="371.1" r="1.0" fill="#f548ac" opacity="0.6"/>
<circle cx="140.3" cy="373.6" r="1.0" fill="#f548ac" opacity="0.3"/>
</g></defs>
<use href="#k7" filter="url(#b8)" opacity="0.6"/><use href="#k7" opacity="0.7"/>
<defs><g id="k8">
<path d="M192.0,372.0 L191.9,373.4 L191.5,374.7 L190.9,375.9 L190.2,377.0 L189.3,378.0 L188.3,378.8 L187.1,379.5 L185.9,379.9 L184.6,380.2 L183.3,380.4 L182.0,380.4 L180.6,380.3 L179.3,379.9 L178.1,379.1 L177.1,378.2 L176.4,377.0 L175.7,375.8 L175.3,374.6 L174.9,373.3 L174.8,372.0 L174.9,370.7 L175.2,369.4 L175.7,368.1 L176.4,367.0 L177.2,365.9 L178.2,365.0 L179.4,364.3 L180.6,363.8 L181.9,363.4 L183.3,363.2 L184.7,363.3 L186.0,363.6 L187.4,364.0 L188.6,364.7 L189.7,365.6 L190.7,366.6 L191.3,367.9 L191.8,369.3 L192.0,370.6 L192.0,372.0 Z" fill="none" stroke="#5aa69c" stroke-width="1.3" opacity="0.18"/>
<path d="M190.3,366.1 L191.1,367.3 L191.6,368.7 L191.9,370.1 L192.0,371.4 L192.0,372.8 L191.7,374.2 L191.2,375.4 L190.5,376.6 L189.6,377.7 L188.6,378.6 L187.5,379.3" fill="none" stroke="#6cc4be" stroke-width="1.00" opacity="0.30" stroke-linecap="round"/>
<path d="M175.3,369.1 L175.9,367.9 L176.6,366.7 L177.4,365.7 L178.5,364.9 L179.7,364.2 L180.9,363.7 L182.2,363.3 L183.6,363.2 L185.0,363.3 L186.3,363.7" fill="none" stroke="#6cc4be" stroke-width="1.00" opacity="0.26" stroke-linecap="round"/>
<ellipse cx="184.3" cy="363.8" rx="1.54" ry="1.54" fill="#8adcee" opacity="1.0"/>
<ellipse cx="188.9" cy="362.5" rx="1.43" ry="1.10" fill="#8adcee" opacity="0.85"/>
<ellipse cx="180.0" cy="364.8" rx="1.21" ry="1.43" fill="#8adcee" opacity="0.9"/>
<ellipse cx="181.7" cy="367.1" rx="1.32" ry="1.21" fill="#8adcee" opacity="0.9"/>
<ellipse cx="176.5" cy="368.4" rx="1.54" ry="1.54" fill="#8adcee" opacity="1.0"/>
<ellipse cx="179.4" cy="370.0" rx="1.32" ry="1.43" fill="#8adcee" opacity="0.9"/>
<ellipse cx="190.5" cy="369.4" rx="0.99" ry="1.10" fill="#7fd4e4" opacity="0.5"/>
<ellipse cx="176.1" cy="373.0" rx="1.87" ry="1.76" fill="#8adcee" opacity="1.0"/>
<ellipse cx="182.3" cy="373.3" rx="0.99" ry="1.54" fill="#8adcee" opacity="0.85"/>
<ellipse cx="187.2" cy="373.1" rx="2.20" ry="1.32" fill="#8adcee" opacity="1.0"/>
<ellipse cx="181.4" cy="377.9" rx="1.10" ry="1.10" fill="#7fd4e4" opacity="0.5"/>
<ellipse cx="191.2" cy="377.5" rx="0.99" ry="1.32" fill="#7fd4e4" opacity="0.5"/>
<ellipse cx="188.2" cy="380.7" rx="1.32" ry="1.32" fill="#8adcee" opacity="0.85"/>
</g></defs>
<use href="#k8" filter="url(#b8)" opacity="0.65"/><use href="#k8" opacity="0.7"/>
<defs><g id="k9">
<circle cx="224.3" cy="372.6" r="9.9" fill="#48183a" opacity="0.58"/>
<circle cx="228.8" cy="374.9" r="1.1" fill="#a82a74" opacity="0.39"/>
<circle cx="218.9" cy="375.8" r="0.8" fill="#a82a74" opacity="0.39"/>
<circle cx="219.9" cy="368.4" r="0.7" fill="#a82a74" opacity="0.39"/>
<circle cx="225.4" cy="372.9" r="0.6" fill="#a82a74" opacity="0.39"/>
<circle cx="223.5" cy="372.9" r="0.6" fill="#a82a74" opacity="0.39"/>
<circle cx="223.3" cy="375.1" r="1.0" fill="#a82a74" opacity="0.39"/>
<circle cx="228.6" cy="372.9" r="1.1" fill="#a82a74" opacity="0.39"/>
<circle cx="224.2" cy="371.5" r="0.7" fill="#a82a74" opacity="0.39"/>
<path d="M234.1,372.6 L233.8,374.1 L233.2,375.5 L232.3,376.7 L231.3,377.7 L230.3,378.6 L229.3,379.5 L228.1,380.1 L226.9,380.6 L225.6,380.9 L224.3,380.9 L223.0,381.0 L221.6,381.0 L220.1,380.9 L218.6,380.4 L217.3,379.6 L216.4,378.3 L215.9,376.9 L215.7,375.4 L215.7,374.0 L215.7,372.6 L215.8,371.3 L216.2,370.0 L216.7,368.7 L217.4,367.6 L218.3,366.6 L219.3,365.7 L220.3,364.8 L221.5,364.0 L222.9,363.5 L224.3,363.3 L225.7,363.4 L227.1,363.9 L228.4,364.6 L229.5,365.4 L230.5,366.4 L231.5,367.4 L232.5,368.4 L233.3,369.7 L233.9,371.1 L234.1,372.6 Z" fill="none" stroke="#d6237c" stroke-width="3.90" opacity="0.23"/>
<path d="M234.1,372.6 L233.8,374.1 L233.2,375.5 L232.3,376.7 L231.3,377.7 L230.3,378.6 L229.3,379.5 L228.1,380.1 L226.9,380.6 L225.6,380.9 L224.3,380.9 L223.0,381.0 L221.6,381.0 L220.1,380.9 L218.6,380.4 L217.3,379.6 L216.4,378.3 L215.9,376.9 L215.7,375.4 L215.7,374.0 L215.7,372.6 L215.8,371.3 L216.2,370.0 L216.7,368.7 L217.4,367.6 L218.3,366.6 L219.3,365.7 L220.3,364.8 L221.5,364.0 L222.9,363.5 L224.3,363.3 L225.7,363.4 L227.1,363.9 L228.4,364.6 L229.5,365.4 L230.5,366.4 L231.5,367.4 L232.5,368.4 L233.3,369.7 L233.9,371.1 L234.1,372.6 Z" fill="none" stroke="#d6237c" stroke-width="2.19" opacity="0.78"/>
<path d="M228.5,379.9 L227.3,380.5 L226.0,380.8 L224.7,380.9 L223.4,381.0 L222.0,381.0 L220.5,381.0 L219.0,380.6 L217.7,379.9 L216.7,378.7 L216.0,377.3 L215.7,375.8 L215.7,374.3 L215.7,373.0 L215.8,371.6 L216.1,370.3 L216.6,369.0 L217.2,367.9 L218.1,366.8 L219.0,365.9 L220.1,365.0 L221.2,364.2" fill="none" stroke="#f0308e" stroke-width="2.80" opacity="1.00" stroke-linecap="round"/>
<path d="M230.0,365.8 L231.0,366.8 L232.0,367.8 L232.9,369.0 L233.6,370.3 L234.0,371.8 L234.0,373.4 L233.5,374.8 L232.7,376.1 L231.8,377.2 L230.8,378.2 L229.8,379.1" fill="none" stroke="#f0308e" stroke-width="2.40" opacity="0.98" stroke-linecap="round"/>
<path d="M221.2,364.2 L222.3,363.7 L223.5,363.4 L224.7,363.3 L225.9,363.5 L227.1,363.9 L228.1,364.4 L229.1,365.1 L230.0,365.8" fill="none" stroke="#f0308e" stroke-width="2.00" opacity="0.90" stroke-linecap="round"/>
<circle cx="228.6" cy="366.8" r="1.1" fill="#f548ac" opacity="0.8"/>
<circle cx="229.3" cy="369.0" r="1.0" fill="#f548ac" opacity="0.7"/>
<circle cx="228.5" cy="371.1" r="1.0" fill="#f548ac" opacity="0.6"/>
<circle cx="222.3" cy="373.6" r="1.0" fill="#f548ac" opacity="0.3"/>
</g></defs>
<use href="#k9" filter="url(#b8)" opacity="0.6"/><use href="#k9" opacity="0.7"/>
<defs><g id="k10">
<path d="M233.0,372.0 L232.9,373.4 L232.5,374.7 L231.9,375.9 L231.2,377.0 L230.3,378.0 L229.3,378.8 L228.1,379.5 L226.9,379.9 L225.6,380.2 L224.3,380.4 L223.0,380.4 L221.6,380.3 L220.3,379.9 L219.1,379.1 L218.1,378.2 L217.4,377.0 L216.7,375.8 L216.3,374.6 L215.9,373.3 L215.8,372.0 L215.9,370.7 L216.2,369.4 L216.7,368.1 L217.4,367.0 L218.2,365.9 L219.2,365.0 L220.4,364.3 L221.6,363.8 L222.9,363.4 L224.3,363.2 L225.7,363.3 L227.0,363.6 L228.4,364.0 L229.6,364.7 L230.7,365.6 L231.7,366.6 L232.3,367.9 L232.8,369.3 L233.0,370.6 L233.0,372.0 Z" fill="none" stroke="#5aa69c" stroke-width="1.3" opacity="0.11"/>
<path d="M231.3,366.1 L232.1,367.3 L232.6,368.7 L232.9,370.1 L233.0,371.4 L233.0,372.8 L232.7,374.2 L232.2,375.4 L231.5,376.6 L230.6,377.7 L229.6,378.6 L228.5,379.3" fill="none" stroke="#6cc4be" stroke-width="1.00" opacity="0.24" stroke-linecap="round"/>
<path d="M216.3,369.1 L216.9,367.9 L217.6,366.7 L218.4,365.7 L219.5,364.9 L220.7,364.2 L221.9,363.7 L223.2,363.3 L224.6,363.2 L226.0,363.3 L227.3,363.7" fill="none" stroke="#6cc4be" stroke-width="1.00" opacity="0.20" stroke-linecap="round"/>
<ellipse cx="225.3" cy="363.8" rx="1.54" ry="1.54" fill="#b4eaf6" opacity="1.0"/>
<ellipse cx="229.9" cy="362.5" rx="1.43" ry="1.10" fill="#b4eaf6" opacity="0.85"/>
<ellipse cx="221.0" cy="364.8" rx="1.21" ry="1.43" fill="#b4eaf6" opacity="0.9"/>
<ellipse cx="222.7" cy="367.1" rx="1.32" ry="1.21" fill="#b4eaf6" opacity="0.9"/>
<ellipse cx="217.5" cy="368.4" rx="1.54" ry="1.54" fill="#b4eaf6" opacity="1.0"/>
<ellipse cx="220.4" cy="370.0" rx="1.32" ry="1.43" fill="#b4eaf6" opacity="0.9"/>
<ellipse cx="231.5" cy="369.4" rx="0.99" ry="1.10" fill="#7fd4e4" opacity="0.5"/>
<ellipse cx="217.1" cy="373.0" rx="1.87" ry="1.76" fill="#b4eaf6" opacity="1.0"/>
<ellipse cx="223.3" cy="373.3" rx="0.99" ry="1.54" fill="#b4eaf6" opacity="0.85"/>
<ellipse cx="228.2" cy="373.1" rx="2.20" ry="1.32" fill="#b4eaf6" opacity="1.0"/>
<ellipse cx="222.4" cy="377.9" rx="1.10" ry="1.10" fill="#7fd4e4" opacity="0.5"/>
<ellipse cx="232.2" cy="377.5" rx="0.99" ry="1.32" fill="#7fd4e4" opacity="0.5"/>
<ellipse cx="229.2" cy="380.7" rx="1.32" ry="1.32" fill="#b4eaf6" opacity="0.85"/>
</g></defs>
<use href="#k10" filter="url(#b8)" opacity="0.65"/><use href="#k10" opacity="0.7"/>
<defs><g id="k11">
<circle cx="100.0" cy="417.7" r="10.0" fill="none" stroke="#d4d4d4" stroke-width="1.4" opacity="0.75"/>
<path d="M103.5,408.2 L104.9,409.0 L106.2,409.9 L107.4,411.1 L108.3,412.4 L109.2,413.8 L109.7,415.3 L110.0,416.9 L110.0,418.6 L109.6,420.2 L109.1,421.7 L108.5,423.2 L107.4,424.5 L106.1,425.5 L104.8,426.4 L103.3,427.1 L101.7,427.5" fill="none" stroke="#efefef" stroke-width="1.6" opacity="0.95"/>
<circle cx="100.0" cy="417.7" r="8.2" fill="#c7c7c7" opacity="0.9"/>
<ellipse cx="99.9" cy="414.6" rx="1.1" ry="1.0" fill="#f8f8f8" opacity="0.70" transform="rotate(32 99.9 414.6)"/>
<ellipse cx="101.0" cy="411.7" rx="1.4" ry="1.0" fill="#888" opacity="0.70" transform="rotate(43 101.0 411.7)"/>
<ellipse cx="95.5" cy="412.6" rx="1.3" ry="0.7" fill="#9a9a9a" opacity="0.70" transform="rotate(177 95.5 412.6)"/>
<ellipse cx="101.2" cy="417.5" rx="0.8" ry="0.8" fill="#f8f8f8" opacity="0.70" transform="rotate(123 101.2 417.5)"/>
<ellipse cx="103.6" cy="411.9" rx="0.9" ry="1.0" fill="#fff" opacity="0.70" transform="rotate(7 103.6 411.9)"/>
<ellipse cx="103.7" cy="417.0" rx="1.2" ry="1.1" fill="#929292" opacity="0.70" transform="rotate(118 103.7 417.0)"/>
<ellipse cx="95.8" cy="414.6" rx="1.5" ry="0.9" fill="#fff" opacity="0.70" transform="rotate(177 95.8 414.6)"/>
<ellipse cx="102.0" cy="423.9" rx="0.9" ry="1.0" fill="#858585" opacity="0.70" transform="rotate(109 102.0 423.9)"/>
<ellipse cx="97.8" cy="416.0" rx="0.8" ry="1.0" fill="#929292" opacity="0.70" transform="rotate(11 97.8 416.0)"/>
<ellipse cx="103.1" cy="418.6" rx="1.5" ry="0.8" fill="#929292" opacity="0.70" transform="rotate(104 103.1 418.6)"/>
<ellipse cx="101.4" cy="411.1" rx="1.2" ry="0.6" fill="#e4e4e4" opacity="0.70" transform="rotate(24 101.4 411.1)"/>
<ellipse cx="97.2" cy="412.2" rx="1.3" ry="0.8" fill="#eee" opacity="0.70" transform="rotate(154 97.2 412.2)"/>
<ellipse cx="101.1" cy="411.1" rx="1.0" ry="0.9" fill="#9a9a9a" opacity="0.70" transform="rotate(99 101.1 411.1)"/>
<ellipse cx="98.3" cy="411.1" rx="1.2" ry="1.0" fill="#eee" opacity="0.70" transform="rotate(158 98.3 411.1)"/>
<ellipse cx="105.4" cy="415.7" rx="1.2" ry="1.2" fill="#888" opacity="0.70" transform="rotate(8 105.4 415.7)"/>
<ellipse cx="97.9" cy="411.8" rx="1.0" ry="0.9" fill="#888" opacity="0.70" transform="rotate(16 97.9 411.8)"/>
<ellipse cx="98.3" cy="424.1" rx="1.2" ry="0.6" fill="#929292" opacity="0.70" transform="rotate(5 98.3 424.1)"/>
<ellipse cx="103.7" cy="412.2" rx="1.4" ry="0.8" fill="#888" opacity="0.70" transform="rotate(82 103.7 412.2)"/>
<ellipse cx="96.9" cy="413.6" rx="0.7" ry="0.7" fill="#9a9a9a" opacity="0.70" transform="rotate(52 96.9 413.6)"/>
<ellipse cx="96.4" cy="419.1" rx="1.5" ry="1.0" fill="#eee" opacity="0.70" transform="rotate(98 96.4 419.1)"/>
<path d="M94.0,421.2 L93.5,420.1 L93.2,419.1 L93.0,417.9 L93.1,416.8 L93.2,415.7 L93.6,414.6 L94.2,413.6 L95.0,412.8 L96.0,412.1 L96.9,411.5 L97.9,411.0 L99.0,410.7 L100.2,410.7 L101.3,410.8 L102.4,411.0" fill="none" stroke="#f4f4f4" stroke-width="1.0" opacity="0.55"/>
<path d="M108.6,417.7 L108.4,419.0 L107.9,420.3 L107.4,421.5 L106.8,422.6 L106.0,423.7 L105.0,424.6 L103.8,425.2 L102.6,425.6 L101.3,426.1 L100.0,426.3 L98.6,426.2 L97.3,425.9 L96.2,425.2 L95.1,424.4 L94.0,423.7 L93.0,422.8 L92.4,421.6 L91.9,420.3 L91.6,419.0 L91.4,417.7 L91.5,416.3 L91.7,415.0 L92.2,413.7 L92.9,412.6 L93.9,411.6 L95.0,410.9 L96.1,410.1 L97.3,409.4 L98.6,409.1 L100.0,409.1 L101.4,409.1 L102.7,409.4 L103.9,410.1 L104.9,411.0 L106.0,411.7 L107.1,412.6 L107.6,413.8 L107.9,415.1 L108.4,416.4 L108.6,417.7 Z" fill="none" stroke="#757575" stroke-width="1.20" opacity="0.95"/>
<path d="M91.6,419.2 L91.4,417.8 L91.5,416.4 L91.7,415.0 L92.2,413.7 L93.0,412.5 L94.1,411.5 L95.2,410.7 L96.4,409.9 L97.7,409.3 L99.1,409.1 L100.5,409.1 L101.9,409.2 L103.2,409.6 L104.3,410.6 L105.4,411.4 L106.6,412.1" fill="none" stroke="#555555" stroke-width="1.25" opacity="0.85"/>
</g></defs>
<use href="#k11" filter="url(#b8)" opacity="0.9"/><use href="#k11" opacity="0.55"/>
<defs><g id="k12">
<circle cx="141.0" cy="418.3" r="9.0" fill="#48183a" opacity="0.63"/>
<circle cx="142.8" cy="420.6" r="0.9" fill="#a82a74" opacity="0.22"/>
<circle cx="145.8" cy="417.3" r="1.0" fill="#a82a74" opacity="0.22"/>
<circle cx="140.6" cy="417.4" r="1.1" fill="#a82a74" opacity="0.22"/>
<circle cx="137.8" cy="419.7" r="0.6" fill="#a82a74" opacity="0.22"/>
<circle cx="139.2" cy="423.1" r="0.7" fill="#a82a74" opacity="0.22"/>
<circle cx="142.7" cy="419.3" r="0.8" fill="#a82a74" opacity="0.22"/>
<circle cx="138.1" cy="418.5" r="0.7" fill="#a82a74" opacity="0.22"/>
<circle cx="143.2" cy="418.3" r="0.8" fill="#a82a74" opacity="0.22"/>
<path d="M150.0,418.3 L149.9,419.7 L149.6,421.1 L149.1,422.4 L148.4,423.6 L147.4,424.7 L146.4,425.7 L145.2,426.5 L143.9,427.2 L142.5,427.6 L141.0,427.8 L139.5,427.6 L138.2,426.9 L137.0,426.1 L136.0,425.1 L135.1,424.2 L134.3,423.2 L133.6,422.1 L133.2,420.8 L132.9,419.6 L132.9,418.3 L132.8,417.0 L132.9,415.7 L133.1,414.3 L133.6,412.9 L134.4,411.7 L135.6,410.8 L136.9,410.3 L138.3,409.9 L139.7,409.8 L141.0,409.7 L142.3,409.8 L143.6,410.1 L144.9,410.6 L146.1,411.3 L147.1,412.2 L148.0,413.2 L148.8,414.3 L149.4,415.6 L149.9,416.9 L150.0,418.3 Z" fill="none" stroke="#cf3690" stroke-width="2.40" opacity="0.13"/>
<path d="M150.0,418.3 L149.9,419.7 L149.6,421.1 L149.1,422.4 L148.4,423.6 L147.4,424.7 L146.4,425.7 L145.2,426.5 L143.9,427.2 L142.5,427.6 L141.0,427.8 L139.5,427.6 L138.2,426.9 L137.0,426.1 L136.0,425.1 L135.1,424.2 L134.3,423.2 L133.6,422.1 L133.2,420.8 L132.9,419.6 L132.9,418.3 L132.8,417.0 L132.9,415.7 L133.1,414.3 L133.6,412.9 L134.4,411.7 L135.6,410.8 L136.9,410.3 L138.3,409.9 L139.7,409.8 L141.0,409.7 L142.3,409.8 L143.6,410.1 L144.9,410.6 L146.1,411.3 L147.1,412.2 L148.0,413.2 L148.8,414.3 L149.4,415.6 L149.9,416.9 L150.0,418.3 Z" fill="none" stroke="#cf3690" stroke-width="1.35" opacity="0.43"/>
<path d="M145.6,426.3 L144.4,427.0 L143.0,427.5 L141.6,427.8 L140.2,427.7 L138.8,427.3 L137.6,426.5 L136.5,425.6 L135.6,424.7" fill="none" stroke="#f046a6" stroke-width="1.60" opacity="0.75" stroke-linecap="round"/>
<path d="M133.8,422.4 L133.3,421.1 L133.0,419.7 L132.9,418.3 L132.8,416.9 L132.9,415.4 L133.2,413.8 L133.9,412.4 L135.0,411.2" fill="none" stroke="#f046a6" stroke-width="1.40" opacity="0.52" stroke-linecap="round"/>
<path d="M139.2,409.8 L139.7,409.8 L140.1,409.8 L140.6,409.8 L141.0,409.7 L141.4,409.8 L141.9,409.8 L142.3,409.8 L142.8,409.9" fill="none" stroke="#f046a6" stroke-width="2.20" opacity="1.00" stroke-linecap="round"/>
<circle cx="139.7" cy="408.9" r="1.2" fill="#f548ac" opacity="0.9"/>
<circle cx="140.0" cy="407.3" r="0.6" fill="#f548ac" opacity="0.6"/>
</g></defs>
<use href="#k12" filter="url(#b8)" opacity="0.6"/><use href="#k12" opacity="0.7"/>
<defs><g id="k13">
<path d="M191.2,417.5 L191.2,418.9 L190.9,420.3 L190.4,421.6 L189.7,422.9 L188.8,424.0 L187.7,424.9 L186.4,425.6 L185.1,426.2 L183.7,426.5 L182.3,426.6 L180.9,426.6 L179.5,426.3 L178.1,425.7 L176.9,424.9 L175.9,423.9 L175.1,422.7 L174.5,421.5 L174.0,420.2 L173.6,418.9 L173.3,417.5 L173.2,416.1 L173.4,414.6 L174.0,413.3 L174.9,412.1 L175.9,411.1 L177.0,410.2 L178.2,409.5 L179.5,408.9 L180.9,408.6 L182.3,408.4 L183.7,408.5 L185.1,408.8 L186.4,409.4 L187.7,410.1 L188.8,411.0 L189.7,412.1 L190.4,413.4 L190.9,414.7 L191.2,416.1 L191.2,417.5 Z" fill="none" stroke="#5aa69c" stroke-width="1.3" opacity="0.34"/>
<path d="M173.3,417.5 L173.2,416.0 L173.5,414.6 L174.1,413.2 L175.0,412.0 L176.0,411.0 L177.2,410.1 L178.5,409.4 L179.8,408.9 L181.2,408.5 L182.7,408.4 L184.1,408.6 L185.5,409.0 L186.9,409.6" fill="none" stroke="#6cc4be" stroke-width="1.30" opacity="0.42" stroke-linecap="round"/>
<path d="M190.2,422.0 L189.4,423.3 L188.3,424.3 L187.2,425.2 L185.8,425.9 L184.4,426.4 L183.0,426.6 L181.5,426.6 L180.0,426.4 L178.6,425.9 L177.3,425.2 L176.2,424.3 L175.3,423.1 L174.6,421.8 L174.1,420.5" fill="none" stroke="#6cc4be" stroke-width="1.30" opacity="0.47" stroke-linecap="round"/>
<path d="M189.3,411.6 L190.0,412.6 L190.5,413.7 L190.9,414.8 L191.1,415.9 L191.2,417.1 L191.2,418.3 L191.1,419.4 L190.8,420.6" fill="none" stroke="#6cc4be" stroke-width="1.00" opacity="0.26" stroke-linecap="round"/>
<ellipse cx="186.6" cy="412.4" rx="2.20" ry="1.21" fill="#8adcee" opacity="1.0" transform="rotate(-8 186.6 412.4)"/>
<ellipse cx="177.4" cy="413.9" rx="1.32" ry="1.21" fill="#8adcee" opacity="0.85"/>
<ellipse cx="178.1" cy="419.0" rx="1.43" ry="1.76" fill="#8adcee" opacity="1.0"/>
<ellipse cx="175.8" cy="421.2" rx="1.43" ry="1.10" fill="#8adcee" opacity="0.8"/>
<ellipse cx="187.9" cy="424.8" rx="1.32" ry="1.21" fill="#8adcee" opacity="0.85"/>
<ellipse cx="185.0" cy="426.8" rx="1.32" ry="0.99" fill="#7fd4e4" opacity="0.6"/>
<ellipse cx="181.5" cy="415.5" rx="2.42" ry="0.77" fill="#7fd4e4" opacity="0.35" transform="rotate(10 181.5 415.5)"/>
<ellipse cx="183.0" cy="421.5" rx="2.20" ry="0.77" fill="#7fd4e4" opacity="0.3" transform="rotate(-20 183.0 421.5)"/>
</g></defs>
<use href="#k13" filter="url(#b8)" opacity="0.65"/><use href="#k13" opacity="0.7"/>
<defs><g id="k14">
<circle cx="223.0" cy="418.3" r="9.0" fill="#48183a" opacity="0.48"/>
<circle cx="224.8" cy="420.6" r="0.9" fill="#a82a74" opacity="0.28"/>
<circle cx="227.8" cy="417.3" r="1.0" fill="#a82a74" opacity="0.28"/>
<circle cx="222.6" cy="417.4" r="1.1" fill="#a82a74" opacity="0.28"/>
<circle cx="219.8" cy="419.7" r="0.6" fill="#a82a74" opacity="0.28"/>
<circle cx="221.2" cy="423.1" r="0.7" fill="#a82a74" opacity="0.28"/>
<circle cx="224.7" cy="419.3" r="0.8" fill="#a82a74" opacity="0.28"/>
<circle cx="220.1" cy="418.5" r="0.7" fill="#a82a74" opacity="0.28"/>
<circle cx="225.2" cy="418.3" r="0.8" fill="#a82a74" opacity="0.28"/>
<path d="M231.9,418.3 L231.8,419.7 L231.5,421.1 L231.0,422.4 L230.3,423.6 L229.3,424.6 L228.3,425.6 L227.1,426.4 L225.9,427.1 L224.5,427.5 L223.0,427.7 L221.6,427.4 L220.2,426.8 L219.1,426.0 L218.1,425.0 L217.2,424.1 L216.4,423.1 L215.7,422.0 L215.3,420.8 L215.0,419.6 L215.0,418.3 L215.0,417.0 L215.0,415.7 L215.2,414.3 L215.7,413.0 L216.5,411.8 L217.7,410.9 L219.0,410.4 L220.3,410.0 L221.7,409.9 L223.0,409.9 L224.3,410.0 L225.6,410.3 L226.8,410.8 L228.0,411.4 L229.0,412.3 L229.9,413.3 L230.7,414.4 L231.3,415.6 L231.8,416.9 L231.9,418.3 Z" fill="none" stroke="#d6237c" stroke-width="2.69" opacity="0.17"/>
<path d="M231.9,418.3 L231.8,419.7 L231.5,421.1 L231.0,422.4 L230.3,423.6 L229.3,424.6 L228.3,425.6 L227.1,426.4 L225.9,427.1 L224.5,427.5 L223.0,427.7 L221.6,427.4 L220.2,426.8 L219.1,426.0 L218.1,425.0 L217.2,424.1 L216.4,423.1 L215.7,422.0 L215.3,420.8 L215.0,419.6 L215.0,418.3 L215.0,417.0 L215.0,415.7 L215.2,414.3 L215.7,413.0 L216.5,411.8 L217.7,410.9 L219.0,410.4 L220.3,410.0 L221.7,409.9 L223.0,409.9 L224.3,410.0 L225.6,410.3 L226.8,410.8 L228.0,411.4 L229.0,412.3 L229.9,413.3 L230.7,414.4 L231.3,415.6 L231.8,416.9 L231.9,418.3 Z" fill="none" stroke="#d6237c" stroke-width="1.51" opacity="0.56"/>
<path d="M227.5,426.2 L226.3,426.9 L225.0,427.4 L223.6,427.6 L222.2,427.6 L220.8,427.2 L219.6,426.4 L218.6,425.5 L217.7,424.6" fill="none" stroke="#f0308e" stroke-width="1.60" opacity="0.75" stroke-linecap="round"/>
<path d="M215.9,422.4 L215.4,421.1 L215.1,419.7 L215.0,418.3 L215.0,416.9 L215.0,415.4 L215.3,413.9 L216.0,412.4 L217.1,411.3" fill="none" stroke="#f0308e" stroke-width="1.40" opacity="0.52" stroke-linecap="round"/>
<path d="M221.2,409.9 L221.7,409.9 L222.1,409.9 L222.6,409.9 L223.0,409.9 L223.4,409.9 L223.9,409.9 L224.3,410.0 L224.8,410.0" fill="none" stroke="#f0308e" stroke-width="2.20" opacity="1.00" stroke-linecap="round"/>
<circle cx="221.7" cy="408.9" r="1.2" fill="#f548ac" opacity="0.9"/>
<circle cx="222.0" cy="407.3" r="0.6" fill="#f548ac" opacity="0.6"/>
</g></defs>
<use href="#k14" filter="url(#b8)" opacity="0.6"/><use href="#k14" opacity="0.7"/>
<defs><g id="k15">
<path d="M232.2,417.5 L232.2,418.9 L231.9,420.3 L231.4,421.6 L230.7,422.9 L229.8,424.0 L228.7,424.9 L227.4,425.6 L226.1,426.2 L224.7,426.5 L223.3,426.6 L221.9,426.6 L220.5,426.3 L219.1,425.7 L217.9,424.9 L216.9,423.9 L216.1,422.7 L215.5,421.5 L215.0,420.2 L214.6,418.9 L214.3,417.5 L214.2,416.1 L214.4,414.6 L215.0,413.3 L215.9,412.1 L216.9,411.1 L218.0,410.2 L219.2,409.5 L220.5,408.9 L221.9,408.6 L223.3,408.4 L224.7,408.5 L226.1,408.8 L227.4,409.4 L228.7,410.1 L229.8,411.0 L230.7,412.1 L231.4,413.4 L231.9,414.7 L232.2,416.1 L232.2,417.5 Z" fill="none" stroke="#5aa69c" stroke-width="1.3" opacity="0.20"/>
<path d="M214.3,417.5 L214.2,416.0 L214.5,414.6 L215.1,413.2 L216.0,412.0 L217.0,411.0 L218.2,410.1 L219.5,409.4 L220.8,408.9 L222.2,408.5 L223.7,408.4 L225.1,408.6 L226.5,409.0 L227.9,409.6" fill="none" stroke="#6cc4be" stroke-width="1.30" opacity="0.34" stroke-linecap="round"/>
<path d="M231.2,422.0 L230.4,423.3 L229.3,424.3 L228.2,425.2 L226.8,425.9 L225.4,426.4 L224.0,426.6 L222.5,426.6 L221.0,426.4 L219.6,425.9 L218.3,425.2 L217.2,424.3 L216.3,423.1 L215.6,421.8 L215.1,420.5" fill="none" stroke="#6cc4be" stroke-width="1.30" opacity="0.37" stroke-linecap="round"/>
<path d="M230.3,411.6 L231.0,412.6 L231.5,413.7 L231.9,414.8 L232.1,415.9 L232.2,417.1 L232.2,418.3 L232.1,419.4 L231.8,420.6" fill="none" stroke="#6cc4be" stroke-width="1.00" opacity="0.20" stroke-linecap="round"/>
<ellipse cx="227.6" cy="412.4" rx="2.20" ry="1.21" fill="#b4eaf6" opacity="1.0" transform="rotate(-8 227.6 412.4)"/>
<ellipse cx="218.4" cy="413.9" rx="1.32" ry="1.21" fill="#b4eaf6" opacity="0.85"/>
<ellipse cx="219.1" cy="419.0" rx="1.43" ry="1.76" fill="#b4eaf6" opacity="1.0"/>
<ellipse cx="216.8" cy="421.2" rx="1.43" ry="1.10" fill="#b4eaf6" opacity="0.8"/>
<ellipse cx="228.9" cy="424.8" rx="1.32" ry="1.21" fill="#b4eaf6" opacity="0.85"/>
<ellipse cx="226.0" cy="426.8" rx="1.32" ry="0.99" fill="#7fd4e4" opacity="0.6"/>
<ellipse cx="222.5" cy="415.5" rx="2.42" ry="0.77" fill="#7fd4e4" opacity="0.35" transform="rotate(10 222.5 415.5)"/>
<ellipse cx="224.0" cy="421.5" rx="2.20" ry="0.77" fill="#7fd4e4" opacity="0.3" transform="rotate(-20 224.0 421.5)"/>
</g></defs>
<use href="#k15" filter="url(#b8)" opacity="0.65"/><use href="#k15" opacity="0.7"/>
<defs><g id="k16">
<circle cx="101.3" cy="460.3" r="9.7" fill="none" stroke="#d4d4d4" stroke-width="1.4" opacity="0.75"/>
<path d="M104.6,451.3 L106.0,452.0 L107.3,452.9 L108.4,453.9 L109.4,455.1 L110.2,456.5 L110.7,458.0 L111.0,459.6 L111.0,461.1 L110.7,462.7 L110.2,464.2 L109.5,465.7 L108.6,466.9 L107.4,468.1 L106.0,468.9 L104.6,469.6 L103.0,469.9" fill="none" stroke="#efefef" stroke-width="1.6" opacity="0.95"/>
<circle cx="101.3" cy="460.3" r="7.9" fill="#d3d3d3" opacity="0.9"/>
<ellipse cx="103.5" cy="460.5" rx="0.8" ry="0.6" fill="#9a9a9a" opacity="0.79" transform="rotate(28 103.5 460.5)"/>
<ellipse cx="95.8" cy="459.1" rx="0.8" ry="1.1" fill="#eee" opacity="0.79" transform="rotate(169 95.8 459.1)"/>
<ellipse cx="104.3" cy="461.5" rx="1.2" ry="0.7" fill="#e4e4e4" opacity="0.79" transform="rotate(151 104.3 461.5)"/>
<ellipse cx="102.1" cy="460.8" rx="1.0" ry="0.7" fill="#9a9a9a" opacity="0.79" transform="rotate(100 102.1 460.8)"/>
<ellipse cx="97.0" cy="465.2" rx="1.4" ry="0.9" fill="#f8f8f8" opacity="0.79" transform="rotate(169 97.0 465.2)"/>
<ellipse cx="95.0" cy="458.4" rx="1.0" ry="0.7" fill="#eee" opacity="0.79" transform="rotate(96 95.0 458.4)"/>
<ellipse cx="107.0" cy="461.4" rx="1.3" ry="0.8" fill="#e4e4e4" opacity="0.79" transform="rotate(110 107.0 461.4)"/>
<ellipse cx="100.9" cy="457.4" rx="1.1" ry="0.8" fill="#f8f8f8" opacity="0.79" transform="rotate(75 100.9 457.4)"/>
<ellipse cx="99.2" cy="464.0" rx="1.6" ry="1.3" fill="#fff" opacity="0.79" transform="rotate(24 99.2 464.0)"/>
<ellipse cx="102.2" cy="456.7" rx="1.2" ry="1.3" fill="#eee" opacity="0.79" transform="rotate(172 102.2 456.7)"/>
<ellipse cx="100.5" cy="463.0" rx="1.5" ry="1.0" fill="#888" opacity="0.79" transform="rotate(178 100.5 463.0)"/>
<ellipse cx="106.6" cy="458.8" rx="1.5" ry="1.1" fill="#858585" opacity="0.79" transform="rotate(50 106.6 458.8)"/>
<ellipse cx="103.6" cy="462.3" rx="1.1" ry="1.2" fill="#fff" opacity="0.79" transform="rotate(143 103.6 462.3)"/>
<ellipse cx="100.5" cy="456.9" rx="1.6" ry="0.7" fill="#929292" opacity="0.79" transform="rotate(41 100.5 456.9)"/>
<ellipse cx="99.9" cy="454.2" rx="0.8" ry="1.0" fill="#e4e4e4" opacity="0.79" transform="rotate(131 99.9 454.2)"/>
<ellipse cx="100.6" cy="464.3" rx="1.3" ry="0.6" fill="#e4e4e4" opacity="0.79" transform="rotate(28 100.6 464.3)"/>
<ellipse cx="95.3" cy="460.8" rx="1.6" ry="1.1" fill="#e4e4e4" opacity="0.79" transform="rotate(65 95.3 460.8)"/>
<ellipse cx="95.4" cy="460.7" rx="1.0" ry="0.6" fill="#e4e4e4" opacity="0.79" transform="rotate(96 95.4 460.7)"/>
<ellipse cx="97.4" cy="458.1" rx="0.8" ry="1.0" fill="#888" opacity="0.79" transform="rotate(157 97.4 458.1)"/>
<ellipse cx="106.3" cy="461.9" rx="1.4" ry="1.3" fill="#f8f8f8" opacity="0.79" transform="rotate(76 106.3 461.9)"/>
<path d="M95.7,463.6 L95.0,462.7 L94.7,461.6 L94.6,460.5 L94.8,459.5 L95.1,458.4 L95.4,457.4 L95.9,456.5 L96.6,455.7 L97.4,455.0 L98.4,454.4 L99.3,454.0 L100.4,453.7 L101.5,453.5 L102.5,453.8 L103.5,454.3" fill="none" stroke="#f4f4f4" stroke-width="1.0" opacity="0.72"/>
<path d="M109.3,460.3 L109.2,461.5 L108.9,462.8 L108.5,464.0 L107.9,465.1 L107.1,466.1 L106.2,467.0 L105.0,467.6 L103.8,467.9 L102.6,468.2 L101.3,468.3 L100.0,468.2 L98.8,468.0 L97.6,467.6 L96.4,467.0 L95.5,466.1 L94.8,465.0 L94.0,464.0 L93.4,462.9 L93.1,461.6 L93.0,460.3 L93.2,459.0 L93.7,457.8 L94.1,456.6 L94.7,455.5 L95.5,454.5 L96.5,453.7 L97.6,453.0 L98.8,452.5 L100.0,452.1 L101.3,451.9 L102.6,452.2 L103.8,452.7 L104.9,453.2 L106.0,453.9 L107.1,454.5 L108.1,455.4 L108.7,456.5 L109.1,457.8 L109.3,459.0 L109.3,460.3 Z" fill="none" stroke="#676767" stroke-width="1.33" opacity="0.95"/>
<path d="M105.4,467.4 L104.1,467.8 L102.9,468.2 L101.6,468.3 L100.3,468.3 L99.0,468.0 L97.7,467.6 L96.5,467.1 L95.5,466.1 L94.8,465.0 L94.0,463.9 L93.3,462.7 L93.1,461.4 L93.0,460.0 L93.4,458.7 L93.8,457.5 L94.2,456.2" fill="none" stroke="#474747" stroke-width="1.39" opacity="0.85"/>
</g></defs>
<use href="#k16" filter="url(#b8)" opacity="0.9"/><use href="#k16" opacity="0.55"/>
<defs><g id="k17">
<circle cx="143.0" cy="460.3" r="8.5" fill="#48183a" opacity="0.61"/>
<circle cx="144.6" cy="464.7" r="0.8" fill="#a82a74" opacity="0.20"/>
<circle cx="145.5" cy="456.5" r="0.9" fill="#a82a74" opacity="0.20"/>
<circle cx="142.8" cy="460.2" r="1.0" fill="#a82a74" opacity="0.20"/>
<circle cx="143.8" cy="458.4" r="0.6" fill="#a82a74" opacity="0.20"/>
<circle cx="139.4" cy="461.8" r="1.0" fill="#a82a74" opacity="0.20"/>
<circle cx="143.1" cy="462.1" r="0.7" fill="#a82a74" opacity="0.20"/>
<circle cx="142.1" cy="460.9" r="1.0" fill="#a82a74" opacity="0.20"/>
<circle cx="143.3" cy="463.4" r="0.6" fill="#a82a74" opacity="0.20"/>
<path d="M150.8,460.3 L150.7,461.5 L150.5,462.7 L150.1,463.9 L149.4,465.0 L148.7,466.0 L147.7,466.8 L146.6,467.5 L145.5,468.0 L144.3,468.3 L143.0,468.4 L141.7,468.4 L140.4,468.3 L139.1,468.0 L137.8,467.5 L136.7,466.6 L135.8,465.5 L135.2,464.3 L134.8,463.0 L134.7,461.6 L134.6,460.3 L134.7,459.0 L134.9,457.7 L135.3,456.4 L136.0,455.2 L136.8,454.1 L137.9,453.3 L139.2,452.8 L140.5,452.6 L141.8,452.5 L143.0,452.5 L144.2,452.5 L145.5,452.7 L146.7,453.0 L147.9,453.5 L148.9,454.4 L149.8,455.4 L150.3,456.6 L150.6,457.8 L150.8,459.1 L150.8,460.3 Z" fill="none" stroke="#cf3690" stroke-width="2.16" opacity="0.12"/>
<path d="M150.8,460.3 L150.7,461.5 L150.5,462.7 L150.1,463.9 L149.4,465.0 L148.7,466.0 L147.7,466.8 L146.6,467.5 L145.5,468.0 L144.3,468.3 L143.0,468.4 L141.7,468.4 L140.4,468.3 L139.1,468.0 L137.8,467.5 L136.7,466.6 L135.8,465.5 L135.2,464.3 L134.8,463.0 L134.7,461.6 L134.6,460.3 L134.7,459.0 L134.9,457.7 L135.3,456.4 L136.0,455.2 L136.8,454.1 L137.9,453.3 L139.2,452.8 L140.5,452.6 L141.8,452.5 L143.0,452.5 L144.2,452.5 L145.5,452.7 L146.7,453.0 L147.9,453.5 L148.9,454.4 L149.8,455.4 L150.3,456.6 L150.6,457.8 L150.8,459.1 L150.8,460.3 Z" fill="none" stroke="#cf3690" stroke-width="1.22" opacity="0.40"/>
<path d="M148.1,466.4 L147.1,467.2 L146.0,467.8 L144.8,468.2 L143.6,468.4 L142.3,468.4 L141.0,468.4 L139.7,468.2 L138.3,467.8 L137.1,467.1 L136.1,466.1" fill="none" stroke="#f046a6" stroke-width="1.50" opacity="0.75" stroke-linecap="round"/>
<path d="M135.4,464.7 L134.9,463.4 L134.7,462.1 L134.6,460.7 L134.6,459.4 L134.8,458.1 L135.2,456.8 L135.7,455.6 L136.5,454.5 L137.5,453.6 L138.8,452.9" fill="none" stroke="#f046a6" stroke-width="1.30" opacity="0.45" stroke-linecap="round"/>
</g></defs>
<use href="#k17" filter="url(#b8)" opacity="0.6"/><use href="#k17" opacity="0.7"/>
<defs><g id="k18">
<path d="M192.3,460.2 L192.2,461.5 L192.0,462.8 L191.6,464.1 L190.9,465.3 L190.0,466.3 L188.9,467.1 L187.7,467.6 L186.4,467.9 L185.2,468.1 L183.9,468.2 L182.6,468.2 L181.4,468.0 L180.2,467.5 L179.1,466.9 L178.0,466.1 L176.9,465.2 L176.1,464.2 L175.5,462.9 L175.3,461.6 L175.2,460.2 L175.4,458.9 L175.8,457.6 L176.3,456.3 L177.1,455.3 L178.1,454.4 L179.1,453.6 L180.2,453.0 L181.4,452.5 L182.6,452.1 L183.9,452.0 L185.2,452.0 L186.5,452.3 L187.7,452.7 L189.0,453.2 L190.1,454.0 L190.9,455.1 L191.6,456.3 L192.0,457.6 L192.2,458.9 L192.3,460.2 Z" fill="none" stroke="#5aa69c" stroke-width="1.3" opacity="0.28"/>
<path d="M191.9,463.1 L191.5,464.4 L190.7,465.6 L189.7,466.6 L188.5,467.3 L187.2,467.7 L185.9,468.0 L184.6,468.2 L183.3,468.2 L182.0,468.1 L180.7,467.8 L179.5,467.2 L178.4,466.4 L177.3,465.6 L176.4,464.6" fill="none" stroke="#6cc4be" stroke-width="1.50" opacity="0.47" stroke-linecap="round"/>
<path d="M175.5,458.7 L175.8,457.4 L176.5,456.1 L177.3,455.1 L178.3,454.2 L179.5,453.4 L180.6,452.8 L181.8,452.3 L183.1,452.0 L184.5,452.0 L185.8,452.1 L187.1,452.5 L188.4,453.0 L189.6,453.7 L190.6,454.7 L191.4,455.9" fill="none" stroke="#6cc4be" stroke-width="1.10" opacity="0.30" stroke-linecap="round"/>
<ellipse cx="178.7" cy="451.4" rx="1.32" ry="1.10" fill="#8adcee" opacity="0.8"/>
<ellipse cx="180.0" cy="454.1" rx="1.65" ry="1.43" fill="#8adcee" opacity="1.0"/>
<ellipse cx="188.2" cy="452.8" rx="1.87" ry="1.10" fill="#8adcee" opacity="0.8" transform="rotate(-15 188.2 452.8)"/>
<ellipse cx="185.0" cy="456.7" rx="1.43" ry="1.43" fill="#8adcee" opacity="1.0"/>
<ellipse cx="175.8" cy="458.7" rx="1.32" ry="1.32" fill="#8adcee" opacity="0.85"/>
<ellipse cx="181.4" cy="460.0" rx="1.43" ry="1.43" fill="#8adcee" opacity="1.0"/>
<ellipse cx="187.2" cy="464.2" rx="1.10" ry="1.10" fill="#7fd4e4" opacity="0.5"/>
</g></defs>
<use href="#k18" filter="url(#b8)" opacity="0.65"/><use href="#k18" opacity="0.7"/>
<defs><g id="k19">
<circle cx="225.0" cy="460.3" r="8.5" fill="#48183a" opacity="0.46"/>
<circle cx="226.6" cy="464.7" r="0.8" fill="#a82a74" opacity="0.26"/>
<circle cx="227.5" cy="456.5" r="0.9" fill="#a82a74" opacity="0.26"/>
<circle cx="224.8" cy="460.2" r="1.0" fill="#a82a74" opacity="0.26"/>
<circle cx="225.8" cy="458.4" r="0.6" fill="#a82a74" opacity="0.26"/>
<circle cx="221.4" cy="461.8" r="1.0" fill="#a82a74" opacity="0.26"/>
<circle cx="225.1" cy="462.1" r="0.7" fill="#a82a74" opacity="0.26"/>
<circle cx="224.1" cy="460.9" r="1.0" fill="#a82a74" opacity="0.26"/>
<circle cx="225.3" cy="463.4" r="0.6" fill="#a82a74" opacity="0.26"/>
<path d="M232.7,460.3 L232.6,461.5 L232.4,462.7 L232.0,463.9 L231.4,464.9 L230.6,465.9 L229.6,466.7 L228.6,467.4 L227.5,467.9 L226.3,468.2 L225.0,468.3 L223.7,468.3 L222.4,468.2 L221.1,467.9 L219.8,467.4 L218.7,466.6 L217.9,465.5 L217.3,464.2 L216.9,462.9 L216.8,461.6 L216.7,460.3 L216.8,459.0 L217.0,457.7 L217.4,456.4 L218.1,455.3 L218.9,454.2 L220.0,453.4 L221.2,452.9 L222.5,452.7 L223.8,452.6 L225.0,452.6 L226.2,452.6 L227.4,452.8 L228.7,453.1 L229.8,453.6 L230.9,454.4 L231.7,455.5 L232.2,456.6 L232.5,457.9 L232.7,459.1 L232.7,460.3 Z" fill="none" stroke="#d6237c" stroke-width="2.42" opacity="0.15"/>
<path d="M232.7,460.3 L232.6,461.5 L232.4,462.7 L232.0,463.9 L231.4,464.9 L230.6,465.9 L229.6,466.7 L228.6,467.4 L227.5,467.9 L226.3,468.2 L225.0,468.3 L223.7,468.3 L222.4,468.2 L221.1,467.9 L219.8,467.4 L218.7,466.6 L217.9,465.5 L217.3,464.2 L216.9,462.9 L216.8,461.6 L216.7,460.3 L216.8,459.0 L217.0,457.7 L217.4,456.4 L218.1,455.3 L218.9,454.2 L220.0,453.4 L221.2,452.9 L222.5,452.7 L223.8,452.6 L225.0,452.6 L226.2,452.6 L227.4,452.8 L228.7,453.1 L229.8,453.6 L230.9,454.4 L231.7,455.5 L232.2,456.6 L232.5,457.9 L232.7,459.1 L232.7,460.3 Z" fill="none" stroke="#d6237c" stroke-width="1.36" opacity="0.51"/>
<path d="M230.1,466.3 L229.1,467.1 L228.0,467.7 L226.8,468.1 L225.6,468.3 L224.3,468.3 L223.0,468.3 L221.7,468.1 L220.4,467.7 L219.2,467.0 L218.2,466.0" fill="none" stroke="#f0308e" stroke-width="1.50" opacity="0.75" stroke-linecap="round"/>
<path d="M217.5,464.7 L217.0,463.4 L216.8,462.0 L216.7,460.7 L216.7,459.4 L216.9,458.1 L217.3,456.9 L217.8,455.6 L218.6,454.5 L219.6,453.6 L220.8,453.0" fill="none" stroke="#f0308e" stroke-width="1.30" opacity="0.45" stroke-linecap="round"/>
</g></defs>
<use href="#k19" filter="url(#b8)" opacity="0.6"/><use href="#k19" opacity="0.7"/>
<defs><g id="k20">
<path d="M233.3,460.2 L233.2,461.5 L233.0,462.8 L232.6,464.1 L231.9,465.3 L231.0,466.3 L229.9,467.1 L228.7,467.6 L227.4,467.9 L226.2,468.1 L224.9,468.2 L223.6,468.2 L222.4,468.0 L221.2,467.5 L220.1,466.9 L219.0,466.1 L217.9,465.2 L217.1,464.2 L216.5,462.9 L216.3,461.6 L216.2,460.2 L216.4,458.9 L216.8,457.6 L217.3,456.3 L218.1,455.3 L219.1,454.4 L220.1,453.6 L221.2,453.0 L222.4,452.5 L223.6,452.1 L224.9,452.0 L226.2,452.0 L227.5,452.3 L228.7,452.7 L230.0,453.2 L231.1,454.0 L231.9,455.1 L232.6,456.3 L233.0,457.6 L233.2,458.9 L233.3,460.2 Z" fill="none" stroke="#5aa69c" stroke-width="1.3" opacity="0.17"/>
<path d="M232.9,463.1 L232.5,464.4 L231.7,465.6 L230.7,466.6 L229.5,467.3 L228.2,467.7 L226.9,468.0 L225.6,468.2 L224.3,468.2 L223.0,468.1 L221.7,467.8 L220.5,467.2 L219.4,466.4 L218.3,465.6 L217.4,464.6" fill="none" stroke="#6cc4be" stroke-width="1.50" opacity="0.37" stroke-linecap="round"/>
<path d="M216.5,458.7 L216.8,457.4 L217.5,456.1 L218.3,455.1 L219.3,454.2 L220.5,453.4 L221.6,452.8 L222.8,452.3 L224.1,452.0 L225.5,452.0 L226.8,452.1 L228.1,452.5 L229.4,453.0 L230.6,453.7 L231.6,454.7 L232.4,455.9" fill="none" stroke="#6cc4be" stroke-width="1.10" opacity="0.24" stroke-linecap="round"/>
<ellipse cx="219.7" cy="451.4" rx="1.32" ry="1.10" fill="#b4eaf6" opacity="0.8"/>
<ellipse cx="221.0" cy="454.1" rx="1.65" ry="1.43" fill="#b4eaf6" opacity="1.0"/>
<ellipse cx="229.2" cy="452.8" rx="1.87" ry="1.10" fill="#b4eaf6" opacity="0.8" transform="rotate(-15 229.2 452.8)"/>
<ellipse cx="226.0" cy="456.7" rx="1.43" ry="1.43" fill="#b4eaf6" opacity="1.0"/>
<ellipse cx="216.8" cy="458.7" rx="1.32" ry="1.32" fill="#b4eaf6" opacity="0.85"/>
<ellipse cx="222.4" cy="460.0" rx="1.43" ry="1.43" fill="#b4eaf6" opacity="1.0"/>
<ellipse cx="228.2" cy="464.2" rx="1.10" ry="1.10" fill="#7fd4e4" opacity="0.5"/>
</g></defs>
<use href="#k20" filter="url(#b8)" opacity="0.65"/><use href="#k20" opacity="0.7"/>
<defs><g id="k21">
<circle cx="100.3" cy="513.3" r="9.3" fill="none" stroke="#d4d4d4" stroke-width="1.4" opacity="0.75"/>
<path d="M103.5,504.5 L104.9,505.1 L106.2,505.9 L107.3,507.1 L108.1,508.3 L108.8,509.7 L109.3,511.1 L109.5,512.6 L109.5,514.1 L109.3,515.6 L108.8,517.0 L108.0,518.3 L107.1,519.5 L106.0,520.6 L104.8,521.4 L103.4,522.1 L101.9,522.5" fill="none" stroke="#efefef" stroke-width="1.6" opacity="0.95"/>
<circle cx="100.3" cy="513.3" r="7.5" fill="#dcdcdc" opacity="0.9"/>
<ellipse cx="97.3" cy="518.9" rx="1.5" ry="0.6" fill="#858585" opacity="0.85" transform="rotate(160 97.3 518.9)"/>
<ellipse cx="101.8" cy="516.3" rx="1.0" ry="0.8" fill="#9a9a9a" opacity="0.85" transform="rotate(19 101.8 516.3)"/>
<ellipse cx="95.1" cy="510.6" rx="1.0" ry="1.2" fill="#9a9a9a" opacity="0.85" transform="rotate(62 95.1 510.6)"/>
<ellipse cx="98.5" cy="514.7" rx="1.3" ry="0.7" fill="#e4e4e4" opacity="0.85" transform="rotate(75 98.5 514.7)"/>
<ellipse cx="102.5" cy="518.2" rx="1.3" ry="1.0" fill="#fff" opacity="0.85" transform="rotate(0 102.5 518.2)"/>
<ellipse cx="97.0" cy="511.1" rx="0.8" ry="1.2" fill="#e4e4e4" opacity="0.85" transform="rotate(106 97.0 511.1)"/>
<ellipse cx="104.9" cy="509.8" rx="1.5" ry="1.1" fill="#e4e4e4" opacity="0.85" transform="rotate(65 104.9 509.8)"/>
<ellipse cx="97.9" cy="511.3" rx="1.3" ry="0.8" fill="#e4e4e4" opacity="0.85" transform="rotate(21 97.9 511.3)"/>
<ellipse cx="102.3" cy="510.4" rx="0.9" ry="1.1" fill="#eee" opacity="0.85" transform="rotate(95 102.3 510.4)"/>
<ellipse cx="95.4" cy="515.5" rx="1.3" ry="0.8" fill="#888" opacity="0.85" transform="rotate(43 95.4 515.5)"/>
<ellipse cx="94.3" cy="511.9" rx="0.8" ry="1.1" fill="#858585" opacity="0.85" transform="rotate(53 94.3 511.9)"/>
<ellipse cx="101.2" cy="518.7" rx="1.4" ry="1.2" fill="#eee" opacity="0.85" transform="rotate(46 101.2 518.7)"/>
<ellipse cx="98.5" cy="512.8" rx="1.5" ry="0.8" fill="#858585" opacity="0.85" transform="rotate(138 98.5 512.8)"/>
<ellipse cx="98.8" cy="517.9" rx="1.0" ry="0.9" fill="#888" opacity="0.85" transform="rotate(20 98.8 517.9)"/>
<ellipse cx="98.7" cy="514.8" rx="1.0" ry="0.8" fill="#9a9a9a" opacity="0.85" transform="rotate(51 98.7 514.8)"/>
<ellipse cx="103.1" cy="516.6" rx="1.3" ry="0.7" fill="#929292" opacity="0.85" transform="rotate(28 103.1 516.6)"/>
<ellipse cx="104.0" cy="517.1" rx="1.2" ry="0.6" fill="#858585" opacity="0.85" transform="rotate(43 104.0 517.1)"/>
<ellipse cx="96.4" cy="516.7" rx="0.9" ry="0.8" fill="#fff" opacity="0.85" transform="rotate(24 96.4 516.7)"/>
<ellipse cx="98.2" cy="514.4" rx="1.0" ry="0.9" fill="#fff" opacity="0.85" transform="rotate(107 98.2 514.4)"/>
<ellipse cx="96.7" cy="515.4" rx="0.8" ry="1.0" fill="#929292" opacity="0.85" transform="rotate(156 96.7 515.4)"/>
<path d="M95.0,516.4 L94.4,515.5 L94.2,514.5 L94.1,513.5 L94.2,512.5 L94.3,511.5 L94.7,510.6 L95.2,509.7 L95.9,508.9 L96.6,508.3 L97.5,507.7 L98.4,507.3 L99.4,507.0 L100.4,506.9 L101.5,507.2 L102.4,507.5" fill="none" stroke="#f4f4f4" stroke-width="1.0" opacity="0.85"/>
<path d="M108.0,513.3 L108.1,514.5 L107.9,515.8 L107.4,516.9 L106.8,518.0 L106.0,519.0 L105.0,519.8 L103.9,520.4 L102.8,520.8 L101.5,521.2 L100.3,521.3 L99.1,521.0 L98.0,520.5 L96.8,520.2 L95.7,519.7 L94.8,518.8 L94.1,517.8 L93.4,516.8 L92.8,515.7 L92.6,514.5 L92.5,513.3 L92.6,512.1 L92.9,510.9 L93.3,509.7 L94.0,508.7 L94.8,507.8 L95.7,507.0 L96.7,506.3 L97.8,505.7 L99.1,505.4 L100.3,505.3 L101.5,505.5 L102.7,506.0 L103.9,506.3 L105.0,506.9 L105.9,507.7 L106.8,508.6 L107.3,509.7 L107.7,510.9 L107.9,512.1 L108.0,513.3 Z" fill="none" stroke="#5e5e5e" stroke-width="1.42" opacity="0.95"/>
<path d="M96.4,520.0 L95.3,519.4 L94.5,518.4 L93.8,517.4 L93.0,516.3 L92.6,515.1 L92.5,513.8 L92.6,512.5 L92.7,511.3 L93.2,510.1 L93.8,509.0 L94.6,508.0 L95.5,507.1 L96.6,506.3 L97.7,505.8 L99.0,505.4 L100.3,505.3" fill="none" stroke="#3e3e3e" stroke-width="1.47" opacity="0.85"/>
</g></defs>
<use href="#k21" filter="url(#b8)" opacity="0.9"/><use href="#k21" opacity="0.55"/>
<defs><g id="k22">
<circle cx="142.0" cy="513.0" r="8.1" fill="#48183a" opacity="0.75"/>
<circle cx="138.4" cy="513.4" r="0.9" fill="#a82a74" opacity="0.30"/>
<circle cx="140.4" cy="508.3" r="1.0" fill="#a82a74" opacity="0.30"/>
<circle cx="142.6" cy="514.0" r="0.8" fill="#a82a74" opacity="0.30"/>
<circle cx="137.9" cy="516.4" r="1.0" fill="#a82a74" opacity="0.30"/>
<circle cx="140.1" cy="513.4" r="0.7" fill="#a82a74" opacity="0.30"/>
<circle cx="137.9" cy="509.9" r="0.7" fill="#a82a74" opacity="0.30"/>
<circle cx="140.2" cy="513.6" r="0.9" fill="#a82a74" opacity="0.30"/>
<circle cx="142.0" cy="513.4" r="0.9" fill="#a82a74" opacity="0.30"/>
<path d="M150.0,513.0 L149.8,514.2 L149.5,515.4 L148.9,516.5 L148.1,517.5 L147.3,518.3 L146.5,519.1 L145.5,519.9 L144.4,520.4 L143.2,520.8 L142.0,520.9 L140.8,520.9 L139.5,520.6 L138.4,520.2 L137.3,519.5 L136.3,518.7 L135.5,517.8 L134.8,516.7 L134.3,515.5 L134.0,514.3 L133.9,513.0 L134.0,511.7 L134.4,510.5 L134.9,509.4 L135.6,508.4 L136.4,507.4 L137.4,506.6 L138.4,506.0 L139.6,505.5 L140.8,505.2 L142.0,505.1 L143.2,505.2 L144.4,505.5 L145.6,506.0 L146.6,506.7 L147.5,507.5 L148.3,508.4 L149.0,509.4 L149.5,510.6 L149.9,511.8 L150.0,513.0 Z" fill="none" stroke="#cf3690" stroke-width="2.52" opacity="0.18"/>
<path d="M150.0,513.0 L149.8,514.2 L149.5,515.4 L148.9,516.5 L148.1,517.5 L147.3,518.3 L146.5,519.1 L145.5,519.9 L144.4,520.4 L143.2,520.8 L142.0,520.9 L140.8,520.9 L139.5,520.6 L138.4,520.2 L137.3,519.5 L136.3,518.7 L135.5,517.8 L134.8,516.7 L134.3,515.5 L134.0,514.3 L133.9,513.0 L134.0,511.7 L134.4,510.5 L134.9,509.4 L135.6,508.4 L136.4,507.4 L137.4,506.6 L138.4,506.0 L139.6,505.5 L140.8,505.2 L142.0,505.1 L143.2,505.2 L144.4,505.5 L145.6,506.0 L146.6,506.7 L147.5,507.5 L148.3,508.4 L149.0,509.4 L149.5,510.6 L149.9,511.8 L150.0,513.0 Z" fill="none" stroke="#cf3690" stroke-width="1.42" opacity="0.60"/>
<path d="M144.7,520.3 L143.5,520.7 L142.3,520.9 L141.0,520.9 L139.8,520.7 L138.6,520.3 L137.5,519.7 L136.4,518.9 L135.6,517.9 L134.9,516.9 L134.4,515.7 L134.0,514.5 L133.9,513.2 L134.0,511.9 L134.3,510.7 L134.8,509.6 L135.5,508.5 L136.3,507.6 L137.3,506.7 L138.3,506.0 L139.4,505.5 L140.6,505.2" fill="none" stroke="#f046a6" stroke-width="1.90" opacity="0.90" stroke-linecap="round"/>
<path d="M148.8,509.1 L149.3,510.1 L149.8,511.3 L150.0,512.5 L149.9,513.7 L149.7,514.9 L149.2,516.0 L148.5,517.0 L147.8,517.9" fill="none" stroke="#f046a6" stroke-width="1.60" opacity="0.75" stroke-linecap="round"/>
<path d="M139.3,505.6 L139.9,505.3 L140.6,505.2 L141.3,505.1 L142.0,505.1 L142.7,505.1 L143.4,505.2 L144.0,505.4 L144.7,505.6" fill="none" stroke="#f046a6" stroke-width="1.80" opacity="0.90" stroke-linecap="round"/>
</g></defs>
<use href="#k22" filter="url(#b8)" opacity="0.6"/><use href="#k22" opacity="0.7"/>
<defs><g id="k23">
<path d="M175.1,510.1 L175.6,509.0 L176.2,507.9 L177.0,506.9 L178.0,506.1 L179.2,505.5 L180.4,505.1 L181.7,504.9 L182.9,504.9 L184.2,505.1 L185.4,505.5 L186.6,506.0 L187.6,506.7 L188.6,507.6" fill="none" stroke="#6cc4be" stroke-width="1.50" opacity="0.14" stroke-linecap="round"/>
<path d="M190.2,514.9 L189.8,516.2 L189.2,517.4 L188.3,518.4 L187.3,519.3 L186.1,519.9 L184.8,520.3 L183.6,520.6 L182.3,520.7 L180.9,520.6 L179.7,520.4" fill="none" stroke="#6cc4be" stroke-width="1.50" opacity="0.17" stroke-linecap="round"/>
<ellipse cx="189.9" cy="512.6" rx="1.32" ry="1.10" fill="#7fd4e4" opacity="0.2"/>
</g></defs>
<use href="#k23" filter="url(#b8)" opacity="0.65"/><use href="#k23" opacity="0.7"/>
<defs><g id="k24">
<circle cx="224.0" cy="513.0" r="8.1" fill="#48183a" opacity="0.50"/>
<circle cx="220.4" cy="513.4" r="0.9" fill="#a82a74" opacity="0.30"/>
<circle cx="222.4" cy="508.3" r="1.0" fill="#a82a74" opacity="0.30"/>
<circle cx="224.6" cy="514.0" r="0.8" fill="#a82a74" opacity="0.30"/>
<circle cx="219.9" cy="516.4" r="1.0" fill="#a82a74" opacity="0.30"/>
<circle cx="222.1" cy="513.4" r="0.7" fill="#a82a74" opacity="0.30"/>
<circle cx="219.9" cy="509.9" r="0.7" fill="#a82a74" opacity="0.30"/>
<circle cx="222.2" cy="513.6" r="0.9" fill="#a82a74" opacity="0.30"/>
<circle cx="224.0" cy="513.4" r="0.9" fill="#a82a74" opacity="0.30"/>
<path d="M231.9,513.0 L231.7,514.2 L231.3,515.4 L230.8,516.4 L230.1,517.4 L229.3,518.3 L228.4,519.0 L227.4,519.7 L226.4,520.3 L225.2,520.7 L224.0,520.8 L222.8,520.7 L221.6,520.5 L220.4,520.0 L219.3,519.4 L218.4,518.6 L217.6,517.7 L216.9,516.6 L216.4,515.5 L216.1,514.2 L216.0,513.0 L216.2,511.8 L216.5,510.6 L217.0,509.5 L217.7,508.4 L218.5,507.5 L219.4,506.7 L220.5,506.1 L221.6,505.6 L222.8,505.3 L224.0,505.2 L225.2,505.3 L226.4,505.6 L227.5,506.1 L228.5,506.8 L229.4,507.6 L230.2,508.5 L230.9,509.5 L231.4,510.6 L231.7,511.8 L231.9,513.0 Z" fill="none" stroke="#d6237c" stroke-width="2.82" opacity="0.18"/>
<path d="M231.9,513.0 L231.7,514.2 L231.3,515.4 L230.8,516.4 L230.1,517.4 L229.3,518.3 L228.4,519.0 L227.4,519.7 L226.4,520.3 L225.2,520.7 L224.0,520.8 L222.8,520.7 L221.6,520.5 L220.4,520.0 L219.3,519.4 L218.4,518.6 L217.6,517.7 L216.9,516.6 L216.4,515.5 L216.1,514.2 L216.0,513.0 L216.2,511.8 L216.5,510.6 L217.0,509.5 L217.7,508.4 L218.5,507.5 L219.4,506.7 L220.5,506.1 L221.6,505.6 L222.8,505.3 L224.0,505.2 L225.2,505.3 L226.4,505.6 L227.5,506.1 L228.5,506.8 L229.4,507.6 L230.2,508.5 L230.9,509.5 L231.4,510.6 L231.7,511.8 L231.9,513.0 Z" fill="none" stroke="#d6237c" stroke-width="1.59" opacity="0.60"/>
<path d="M226.6,520.2 L225.5,520.6 L224.3,520.8 L223.0,520.8 L221.8,520.5 L220.6,520.1 L219.5,519.6 L218.5,518.8 L217.7,517.9 L217.0,516.8 L216.5,515.7 L216.2,514.4 L216.0,513.2 L216.1,511.9 L216.4,510.7 L217.0,509.6 L217.6,508.6 L218.4,507.6 L219.3,506.8 L220.3,506.2 L221.5,505.6 L222.6,505.3" fill="none" stroke="#f0308e" stroke-width="1.90" opacity="0.90" stroke-linecap="round"/>
<path d="M230.7,509.2 L231.2,510.2 L231.6,511.3 L231.8,512.5 L231.8,513.7 L231.5,514.8 L231.1,515.9 L230.4,516.9 L229.7,517.8" fill="none" stroke="#f0308e" stroke-width="1.60" opacity="0.75" stroke-linecap="round"/>
<path d="M221.3,505.7 L222.0,505.5 L222.6,505.3 L223.3,505.2 L224.0,505.2 L224.7,505.2 L225.4,505.3 L226.0,505.5 L226.6,505.7" fill="none" stroke="#f0308e" stroke-width="1.80" opacity="0.90" stroke-linecap="round"/>
</g></defs>
<use href="#k24" filter="url(#b8)" opacity="0.6"/><use href="#k24" opacity="0.7"/>
<defs><g id="k25">
<path d="M216.1,510.1 L216.6,509.0 L217.2,507.9 L218.0,506.9 L219.0,506.1 L220.2,505.5 L221.4,505.1 L222.7,504.9 L223.9,504.9 L225.2,505.1 L226.4,505.5 L227.6,506.0 L228.6,506.7 L229.6,507.6" fill="none" stroke="#6cc4be" stroke-width="1.50" opacity="0.12" stroke-linecap="round"/>
<path d="M231.2,514.9 L230.8,516.2 L230.2,517.4 L229.3,518.4 L228.3,519.3 L227.1,519.9 L225.8,520.3 L224.6,520.6 L223.3,520.7 L221.9,520.6 L220.7,520.4" fill="none" stroke="#6cc4be" stroke-width="1.50" opacity="0.14" stroke-linecap="round"/>
<ellipse cx="230.9" cy="512.6" rx="1.32" ry="1.10" fill="#7fd4e4" opacity="0.2"/>
</g></defs>
<use href="#k25" filter="url(#b8)" opacity="0.65"/><use href="#k25" opacity="0.7"/>
<defs><g id="k26">
<circle cx="357.0" cy="330.0" r="9.8" fill="none" stroke="#d4d4d4" stroke-width="1.4" opacity="0.75"/>
<path d="M360.3,320.9 L361.8,321.4 L363.2,322.3 L364.3,323.4 L365.3,324.7 L365.9,326.2 L366.4,327.7 L366.7,329.3 L366.7,330.9 L366.5,332.4 L366.0,334.0 L365.3,335.4 L364.3,336.7 L363.0,337.6 L361.7,338.5 L360.2,339.1 L358.7,339.5" fill="none" stroke="#efefef" stroke-width="1.6" opacity="0.95"/>
<circle cx="357.0" cy="330.0" r="8.0" fill="#cccccc" opacity="0.9"/>
<ellipse cx="354.6" cy="332.2" rx="1.5" ry="0.9" fill="#eee" opacity="0.74" transform="rotate(176 354.6 332.2)"/>
<ellipse cx="356.3" cy="333.5" rx="1.4" ry="1.1" fill="#888" opacity="0.74" transform="rotate(4 356.3 333.5)"/>
<ellipse cx="354.5" cy="331.0" rx="1.6" ry="0.8" fill="#eee" opacity="0.74" transform="rotate(65 354.5 331.0)"/>
<ellipse cx="354.0" cy="325.6" rx="0.8" ry="1.0" fill="#888" opacity="0.74" transform="rotate(110 354.0 325.6)"/>
<ellipse cx="361.2" cy="325.4" rx="0.8" ry="0.9" fill="#f8f8f8" opacity="0.74" transform="rotate(121 361.2 325.4)"/>
<ellipse cx="360.9" cy="333.9" rx="0.8" ry="0.7" fill="#929292" opacity="0.74" transform="rotate(45 360.9 333.9)"/>
<ellipse cx="360.6" cy="331.3" rx="1.2" ry="0.7" fill="#888" opacity="0.74" transform="rotate(14 360.6 331.3)"/>
<ellipse cx="356.2" cy="332.5" rx="1.1" ry="1.1" fill="#929292" opacity="0.74" transform="rotate(126 356.2 332.5)"/>
<ellipse cx="359.1" cy="327.5" rx="0.8" ry="0.9" fill="#929292" opacity="0.74" transform="rotate(102 359.1 327.5)"/>
<ellipse cx="351.8" cy="332.6" rx="1.5" ry="1.1" fill="#888" opacity="0.74" transform="rotate(82 351.8 332.6)"/>
<ellipse cx="359.7" cy="335.5" rx="1.3" ry="1.1" fill="#888" opacity="0.74" transform="rotate(27 359.7 335.5)"/>
<ellipse cx="362.7" cy="329.5" rx="1.3" ry="1.1" fill="#9a9a9a" opacity="0.74" transform="rotate(155 362.7 329.5)"/>
<ellipse cx="351.8" cy="329.0" rx="1.6" ry="0.8" fill="#929292" opacity="0.74" transform="rotate(111 351.8 329.0)"/>
<ellipse cx="354.0" cy="333.5" rx="1.4" ry="0.7" fill="#9a9a9a" opacity="0.74" transform="rotate(171 354.0 333.5)"/>
<ellipse cx="356.5" cy="333.1" rx="0.9" ry="1.2" fill="#f8f8f8" opacity="0.74" transform="rotate(83 356.5 333.1)"/>
<ellipse cx="358.9" cy="325.0" rx="1.4" ry="1.1" fill="#858585" opacity="0.74" transform="rotate(54 358.9 325.0)"/>
<ellipse cx="354.0" cy="329.0" rx="0.9" ry="1.1" fill="#f8f8f8" opacity="0.74" transform="rotate(16 354.0 329.0)"/>
<ellipse cx="362.0" cy="329.6" rx="1.1" ry="0.7" fill="#eee" opacity="0.74" transform="rotate(98 362.0 329.6)"/>
<ellipse cx="356.0" cy="327.9" rx="1.2" ry="1.1" fill="#e4e4e4" opacity="0.74" transform="rotate(141 356.0 327.9)"/>
<ellipse cx="357.6" cy="325.8" rx="1.5" ry="1.2" fill="#fff" opacity="0.74" transform="rotate(7 357.6 325.8)"/>
<path d="M351.1,333.4 L350.7,332.4 L350.4,331.3 L350.2,330.2 L350.3,329.1 L350.5,328.1 L350.9,327.0 L351.4,326.0 L352.2,325.2 L353.1,324.6 L354.0,324.1 L355.0,323.7 L356.1,323.5 L357.2,323.4 L358.2,323.4 L359.3,323.6" fill="none" stroke="#f4f4f4" stroke-width="1.0" opacity="0.62"/>
<path d="M365.2,330.0 L365.1,331.3 L364.8,332.5 L364.3,333.7 L363.6,334.8 L362.9,335.9 L362.0,336.9 L360.8,337.5 L359.6,337.9 L358.3,338.3 L357.0,338.4 L355.7,338.3 L354.4,337.9 L353.2,337.4 L352.2,336.7 L351.1,335.9 L350.2,334.9 L349.5,333.8 L349.1,332.6 L348.7,331.3 L348.6,330.0 L348.7,328.7 L349.0,327.4 L349.5,326.2 L350.1,325.0 L351.1,324.1 L352.1,323.3 L353.3,322.7 L354.5,322.3 L355.7,322.0 L357.0,321.9 L358.3,321.8 L359.6,322.0 L360.8,322.6 L361.8,323.4 L362.8,324.2 L363.8,325.1 L364.5,326.2 L365.0,327.4 L365.2,328.7 L365.2,330.0 Z" fill="none" stroke="#737373" stroke-width="1.23" opacity="0.95"/>
<path d="M361.2,337.3 L359.9,337.8 L358.6,338.2 L357.3,338.4 L355.9,338.3 L354.6,338.0 L353.3,337.4 L352.2,336.7 L351.1,335.9 L350.2,334.9 L349.5,333.7 L349.0,332.4 L348.7,331.1 L348.6,329.7 L348.8,328.4 L349.2,327.0 L349.7,325.8" fill="none" stroke="#535353" stroke-width="1.27" opacity="0.85"/>
</g></defs>
<use href="#k26" filter="url(#b8)" opacity="0.9"/><use href="#k26" opacity="0.55"/>
<defs><g id="k27">
<circle cx="398.3" cy="330.1" r="8.7" fill="#48183a" opacity="0.67"/>
<circle cx="401.8" cy="331.1" r="0.9" fill="#a82a74" opacity="0.24"/>
<circle cx="398.4" cy="330.2" r="1.1" fill="#a82a74" opacity="0.24"/>
<circle cx="396.8" cy="331.1" r="0.9" fill="#a82a74" opacity="0.24"/>
<circle cx="400.0" cy="329.4" r="1.1" fill="#a82a74" opacity="0.24"/>
<circle cx="396.1" cy="335.3" r="1.0" fill="#a82a74" opacity="0.24"/>
<circle cx="402.2" cy="333.9" r="0.7" fill="#a82a74" opacity="0.24"/>
<circle cx="401.2" cy="332.0" r="1.1" fill="#a82a74" opacity="0.24"/>
<circle cx="403.8" cy="330.9" r="1.0" fill="#a82a74" opacity="0.24"/>
<path d="M406.9,330.1 L406.8,331.4 L406.3,332.7 L405.7,333.9 L404.9,334.9 L404.1,335.9 L403.1,336.7 L402.0,337.4 L400.9,338.0 L399.6,338.3 L398.3,338.4 L397.0,338.3 L395.7,338.0 L394.5,337.5 L393.4,336.8 L392.4,336.0 L391.6,335.0 L390.8,333.9 L390.2,332.7 L389.8,331.5 L389.6,330.1 L389.7,328.7 L390.1,327.4 L390.6,326.2 L391.3,325.0 L392.2,324.0 L393.2,323.1 L394.4,322.4 L395.6,321.8 L396.9,321.4 L398.3,321.3 L399.7,321.5 L401.0,321.9 L402.1,322.6 L403.1,323.4 L404.1,324.3 L405.0,325.3 L405.7,326.3 L406.3,327.5 L406.8,328.8 L406.9,330.1 Z" fill="none" stroke="#cf3690" stroke-width="2.40" opacity="0.14"/>
<path d="M406.9,330.1 L406.8,331.4 L406.3,332.7 L405.7,333.9 L404.9,334.9 L404.1,335.9 L403.1,336.7 L402.0,337.4 L400.9,338.0 L399.6,338.3 L398.3,338.4 L397.0,338.3 L395.7,338.0 L394.5,337.5 L393.4,336.8 L392.4,336.0 L391.6,335.0 L390.8,333.9 L390.2,332.7 L389.8,331.5 L389.6,330.1 L389.7,328.7 L390.1,327.4 L390.6,326.2 L391.3,325.0 L392.2,324.0 L393.2,323.1 L394.4,322.4 L395.6,321.8 L396.9,321.4 L398.3,321.3 L399.7,321.5 L401.0,321.9 L402.1,322.6 L403.1,323.4 L404.1,324.3 L405.0,325.3 L405.7,326.3 L406.3,327.5 L406.8,328.8 L406.9,330.1 Z" fill="none" stroke="#cf3690" stroke-width="1.35" opacity="0.48"/>
<path d="M402.4,337.2 L401.2,337.8 L400.0,338.2 L398.7,338.4 L397.3,338.4 L396.0,338.1 L394.8,337.6 L393.6,337.0 L392.6,336.1 L391.7,335.2 L390.9,334.1 L390.2,332.9 L389.8,331.6" fill="none" stroke="#f046a6" stroke-width="1.90" opacity="0.98" stroke-linecap="round"/>
<path d="M389.8,331.6 L389.6,330.1 L389.8,328.6 L390.2,327.1 L390.8,325.8 L391.7,324.5 L392.7,323.5 L394.0,322.6 L395.3,321.9" fill="none" stroke="#f046a6" stroke-width="1.40" opacity="0.52" stroke-linecap="round"/>
<path d="M395.3,321.9 L396.6,321.5 L397.9,321.3 L399.3,321.4 L400.5,321.7 L401.7,322.4 L402.8,323.1 L403.7,323.9 L404.6,324.8" fill="none" stroke="#f046a6" stroke-width="1.50" opacity="0.68" stroke-linecap="round"/>
</g></defs>
<use href="#k27" filter="url(#b8)" opacity="0.6"/><use href="#k27" opacity="0.7"/>
<defs><g id="k28">
<path d="M447.9,330.4 L447.8,331.7 L447.4,333.0 L446.8,334.2 L446.1,335.3 L445.2,336.3 L444.3,337.3 L443.2,338.1 L442.0,338.7 L440.7,339.0 L439.3,339.1 L438.0,338.9 L436.7,338.4 L435.5,337.9 L434.4,337.2 L433.3,336.4 L432.4,335.4 L431.7,334.3 L431.1,333.1 L430.8,331.8 L430.5,330.4 L430.5,329.0 L430.7,327.6 L431.3,326.3 L432.2,325.3 L433.3,324.4 L434.4,323.7 L435.6,323.1 L436.7,322.5 L438.0,322.2 L439.3,322.0 L440.6,322.1 L441.9,322.3 L443.2,322.8 L444.4,323.4 L445.5,324.2 L446.4,325.3 L447.1,326.4 L447.5,327.7 L447.8,329.1 L447.9,330.4 Z" fill="none" stroke="#5aa69c" stroke-width="1.3" opacity="0.26"/>
<path d="M445.7,335.8 L444.8,336.8 L443.8,337.7 L442.6,338.4 L441.3,338.9 L439.9,339.1 L438.5,339.0 L437.2,338.6 L436.0,338.1 L434.8,337.5 L433.7,336.7 L432.7,335.8 L431.9,334.7" fill="none" stroke="#6cc4be" stroke-width="1.30" opacity="0.42" stroke-linecap="round"/>
<ellipse cx="436.7" cy="324.8" rx="1.65" ry="1.54" fill="#8adcee" opacity="1.0"/>
<ellipse cx="439.3" cy="326.4" rx="1.43" ry="1.32" fill="#8adcee" opacity="1.0"/>
<ellipse cx="441.9" cy="325.4" rx="1.54" ry="1.21" fill="#8adcee" opacity="1.0"/>
<ellipse cx="444.6" cy="325.1" rx="1.21" ry="0.88" fill="#8adcee" opacity="0.8"/>
<ellipse cx="447.2" cy="324.1" rx="1.10" ry="0.88" fill="#7fd4e4" opacity="0.65"/>
<ellipse cx="442.3" cy="328.7" rx="0.88" ry="1.32" fill="#8adcee" opacity="0.8"/>
<ellipse cx="431.2" cy="329.0" rx="1.21" ry="1.21" fill="#7fd4e4" opacity="0.7"/>
<ellipse cx="435.1" cy="337.8" rx="1.43" ry="1.10" fill="#8adcee" opacity="0.8"/>
<ellipse cx="439.3" cy="339.1" rx="1.43" ry="0.99" fill="#7fd4e4" opacity="0.6"/>
<ellipse cx="444.6" cy="336.9" rx="1.76" ry="1.10" fill="#8adcee" opacity="0.8" transform="rotate(-20 444.6 336.9)"/>
<ellipse cx="433.1" cy="332.0" rx="0.99" ry="0.99" fill="#7fd4e4" opacity="0.4"/>
</g></defs>
<use href="#k28" filter="url(#b8)" opacity="0.65"/><use href="#k28" opacity="0.7"/>
<defs><g id="k29">
<circle cx="480.3" cy="330.1" r="8.7" fill="#48183a" opacity="0.51"/>
<circle cx="483.8" cy="331.1" r="0.9" fill="#a82a74" opacity="0.31"/>
<circle cx="480.4" cy="330.2" r="1.1" fill="#a82a74" opacity="0.31"/>
<circle cx="478.8" cy="331.1" r="0.9" fill="#a82a74" opacity="0.31"/>
<circle cx="482.0" cy="329.4" r="1.1" fill="#a82a74" opacity="0.31"/>
<circle cx="478.1" cy="335.3" r="1.0" fill="#a82a74" opacity="0.31"/>
<circle cx="484.2" cy="333.9" r="0.7" fill="#a82a74" opacity="0.31"/>
<circle cx="483.2" cy="332.0" r="1.1" fill="#a82a74" opacity="0.31"/>
<circle cx="485.8" cy="330.9" r="1.0" fill="#a82a74" opacity="0.31"/>
<path d="M488.8,330.1 L488.6,331.4 L488.2,332.7 L487.6,333.8 L486.8,334.8 L486.0,335.8 L485.0,336.6 L484.0,337.3 L482.8,337.8 L481.6,338.2 L480.3,338.3 L479.0,338.2 L477.8,337.9 L476.6,337.4 L475.5,336.7 L474.5,335.9 L473.7,334.9 L472.9,333.9 L472.3,332.7 L471.9,331.4 L471.7,330.1 L471.9,328.8 L472.2,327.5 L472.7,326.2 L473.4,325.1 L474.3,324.1 L475.3,323.2 L476.4,322.5 L477.6,321.9 L478.9,321.5 L480.3,321.4 L481.6,321.6 L482.9,322.0 L484.1,322.7 L485.1,323.5 L486.0,324.4 L486.9,325.3 L487.6,326.4 L488.2,327.5 L488.6,328.8 L488.8,330.1 Z" fill="none" stroke="#d6237c" stroke-width="2.69" opacity="0.19"/>
<path d="M488.8,330.1 L488.6,331.4 L488.2,332.7 L487.6,333.8 L486.8,334.8 L486.0,335.8 L485.0,336.6 L484.0,337.3 L482.8,337.8 L481.6,338.2 L480.3,338.3 L479.0,338.2 L477.8,337.9 L476.6,337.4 L475.5,336.7 L474.5,335.9 L473.7,334.9 L472.9,333.9 L472.3,332.7 L471.9,331.4 L471.7,330.1 L471.9,328.8 L472.2,327.5 L472.7,326.2 L473.4,325.1 L474.3,324.1 L475.3,323.2 L476.4,322.5 L477.6,321.9 L478.9,321.5 L480.3,321.4 L481.6,321.6 L482.9,322.0 L484.1,322.7 L485.1,323.5 L486.0,324.4 L486.9,325.3 L487.6,326.4 L488.2,327.5 L488.6,328.8 L488.8,330.1 Z" fill="none" stroke="#d6237c" stroke-width="1.51" opacity="0.62"/>
<path d="M484.3,337.1 L483.2,337.7 L482.0,338.1 L480.7,338.3 L479.3,338.3 L478.1,338.0 L476.8,337.5 L475.7,336.9 L474.7,336.0 L473.8,335.1 L473.0,334.0 L472.4,332.9 L471.9,331.6" fill="none" stroke="#f0308e" stroke-width="1.90" opacity="0.98" stroke-linecap="round"/>
<path d="M471.9,331.6 L471.7,330.1 L471.9,328.6 L472.3,327.2 L472.9,325.8 L473.8,324.6 L474.8,323.6 L476.0,322.7 L477.4,322.0" fill="none" stroke="#f0308e" stroke-width="1.40" opacity="0.52" stroke-linecap="round"/>
<path d="M477.4,322.0 L478.6,321.6 L479.9,321.4 L481.2,321.5 L482.5,321.9 L483.7,322.5 L484.7,323.2 L485.6,324.0 L486.5,324.9" fill="none" stroke="#f0308e" stroke-width="1.50" opacity="0.68" stroke-linecap="round"/>
</g></defs>
<use href="#k29" filter="url(#b8)" opacity="0.6"/><use href="#k29" opacity="0.7"/>
<defs><g id="k30">
<path d="M488.9,330.4 L488.8,331.7 L488.4,333.0 L487.8,334.2 L487.1,335.3 L486.2,336.3 L485.3,337.3 L484.2,338.1 L483.0,338.7 L481.7,339.0 L480.3,339.1 L479.0,338.9 L477.7,338.4 L476.5,337.9 L475.4,337.2 L474.3,336.4 L473.4,335.4 L472.7,334.3 L472.1,333.1 L471.8,331.8 L471.5,330.4 L471.5,329.0 L471.7,327.6 L472.3,326.3 L473.2,325.3 L474.3,324.4 L475.4,323.7 L476.6,323.1 L477.7,322.5 L479.0,322.2 L480.3,322.0 L481.6,322.1 L482.9,322.3 L484.2,322.8 L485.4,323.4 L486.5,324.2 L487.4,325.3 L488.1,326.4 L488.5,327.7 L488.8,329.1 L488.9,330.4 Z" fill="none" stroke="#5aa69c" stroke-width="1.3" opacity="0.15"/>
<path d="M486.7,335.8 L485.8,336.8 L484.8,337.7 L483.6,338.4 L482.3,338.9 L480.9,339.1 L479.5,339.0 L478.2,338.6 L477.0,338.1 L475.8,337.5 L474.7,336.7 L473.7,335.8 L472.9,334.7" fill="none" stroke="#6cc4be" stroke-width="1.30" opacity="0.34" stroke-linecap="round"/>
<ellipse cx="477.7" cy="324.8" rx="1.65" ry="1.54" fill="#b4eaf6" opacity="1.0"/>
<ellipse cx="480.3" cy="326.4" rx="1.43" ry="1.32" fill="#b4eaf6" opacity="1.0"/>
<ellipse cx="482.9" cy="325.4" rx="1.54" ry="1.21" fill="#b4eaf6" opacity="1.0"/>
<ellipse cx="485.6" cy="325.1" rx="1.21" ry="0.88" fill="#b4eaf6" opacity="0.8"/>
<ellipse cx="488.2" cy="324.1" rx="1.10" ry="0.88" fill="#7fd4e4" opacity="0.65"/>
<ellipse cx="483.3" cy="328.7" rx="0.88" ry="1.32" fill="#b4eaf6" opacity="0.8"/>
<ellipse cx="472.2" cy="329.0" rx="1.21" ry="1.21" fill="#7fd4e4" opacity="0.7"/>
<ellipse cx="476.1" cy="337.8" rx="1.43" ry="1.10" fill="#b4eaf6" opacity="0.8"/>
<ellipse cx="480.3" cy="339.1" rx="1.43" ry="0.99" fill="#7fd4e4" opacity="0.6"/>
<ellipse cx="485.6" cy="336.9" rx="1.76" ry="1.10" fill="#b4eaf6" opacity="0.8" transform="rotate(-20 485.6 336.9)"/>
<ellipse cx="474.1" cy="332.0" rx="0.99" ry="0.99" fill="#7fd4e4" opacity="0.4"/>
</g></defs>
<use href="#k30" filter="url(#b8)" opacity="0.65"/><use href="#k30" opacity="0.7"/>
<defs><g id="k31">
<circle cx="356.4" cy="372.0" r="10.2" fill="none" stroke="#d4d4d4" stroke-width="1.4" opacity="0.75"/>
<path d="M359.9,362.5 L361.3,363.2 L362.7,364.2 L364.0,365.2 L365.0,366.5 L365.7,368.0 L366.2,369.6 L366.4,371.2 L366.4,372.9 L366.2,374.5 L365.7,376.1 L364.8,377.5 L363.9,378.8 L362.8,380.1 L361.3,381.0 L359.8,381.6 L358.2,382.0" fill="none" stroke="#efefef" stroke-width="1.6" opacity="0.95"/>
<circle cx="356.4" cy="372.0" r="8.4" fill="#cecece" opacity="0.9"/>
<ellipse cx="359.8" cy="369.1" rx="1.3" ry="0.7" fill="#f8f8f8" opacity="0.75" transform="rotate(137 359.8 369.1)"/>
<ellipse cx="357.6" cy="371.6" rx="1.4" ry="1.0" fill="#929292" opacity="0.75" transform="rotate(13 357.6 371.6)"/>
<ellipse cx="357.9" cy="369.8" rx="1.2" ry="1.3" fill="#858585" opacity="0.75" transform="rotate(23 357.9 369.8)"/>
<ellipse cx="351.6" cy="375.6" rx="0.8" ry="0.9" fill="#fff" opacity="0.75" transform="rotate(19 351.6 375.6)"/>
<ellipse cx="350.6" cy="373.5" rx="1.1" ry="0.8" fill="#929292" opacity="0.75" transform="rotate(113 350.6 373.5)"/>
<ellipse cx="357.1" cy="368.3" rx="1.2" ry="1.2" fill="#929292" opacity="0.75" transform="rotate(155 357.1 368.3)"/>
<ellipse cx="353.0" cy="377.7" rx="1.0" ry="0.8" fill="#eee" opacity="0.75" transform="rotate(52 353.0 377.7)"/>
<ellipse cx="359.0" cy="367.2" rx="0.8" ry="0.8" fill="#fff" opacity="0.75" transform="rotate(29 359.0 367.2)"/>
<ellipse cx="354.3" cy="374.2" rx="1.3" ry="0.7" fill="#eee" opacity="0.75" transform="rotate(100 354.3 374.2)"/>
<ellipse cx="361.7" cy="375.9" rx="1.2" ry="1.1" fill="#eee" opacity="0.75" transform="rotate(47 361.7 375.9)"/>
<ellipse cx="359.4" cy="368.6" rx="1.2" ry="1.1" fill="#888" opacity="0.75" transform="rotate(50 359.4 368.6)"/>
<ellipse cx="357.1" cy="367.7" rx="0.8" ry="0.9" fill="#929292" opacity="0.75" transform="rotate(45 357.1 367.7)"/>
<ellipse cx="359.3" cy="375.3" rx="1.4" ry="0.9" fill="#858585" opacity="0.75" transform="rotate(180 359.3 375.3)"/>
<ellipse cx="362.7" cy="371.6" rx="1.0" ry="0.9" fill="#858585" opacity="0.75" transform="rotate(27 362.7 371.6)"/>
<ellipse cx="363.1" cy="374.3" rx="1.4" ry="0.8" fill="#9a9a9a" opacity="0.75" transform="rotate(157 363.1 374.3)"/>
<ellipse cx="355.3" cy="365.3" rx="0.8" ry="0.8" fill="#fff" opacity="0.75" transform="rotate(99 355.3 365.3)"/>
<ellipse cx="352.5" cy="372.1" rx="0.9" ry="1.2" fill="#888" opacity="0.75" transform="rotate(84 352.5 372.1)"/>
<ellipse cx="362.5" cy="368.3" rx="0.9" ry="0.6" fill="#9a9a9a" opacity="0.75" transform="rotate(134 362.5 368.3)"/>
<ellipse cx="354.6" cy="372.1" rx="1.0" ry="0.9" fill="#fff" opacity="0.75" transform="rotate(3 354.6 372.1)"/>
<ellipse cx="357.5" cy="370.4" rx="0.7" ry="1.2" fill="#f8f8f8" opacity="0.75" transform="rotate(43 357.5 370.4)"/>
<path d="M350.4,375.5 L349.9,374.4 L349.6,373.4 L349.4,372.2 L349.4,371.1 L349.5,369.9 L349.9,368.8 L350.5,367.8 L351.3,367.0 L352.3,366.4 L353.2,365.6 L354.2,365.1 L355.4,364.9 L356.6,364.9 L357.7,364.9 L358.9,365.1" fill="none" stroke="#f4f4f4" stroke-width="1.0" opacity="0.65"/>
<path d="M365.3,372.0 L365.1,373.4 L364.6,374.7 L364.1,375.9 L363.5,377.1 L362.6,378.2 L361.6,379.2 L360.4,379.8 L359.0,380.1 L357.8,380.5 L356.4,380.7 L355.0,380.6 L353.7,380.3 L352.4,379.9 L351.1,379.2 L350.3,378.1 L349.6,377.0 L348.9,375.8 L348.3,374.6 L348.0,373.3 L347.8,372.0 L347.8,370.6 L348.0,369.3 L348.5,368.0 L349.2,366.8 L350.3,365.9 L351.4,365.1 L352.4,364.2 L353.6,363.5 L355.0,363.3 L356.4,363.3 L357.8,363.3 L359.2,363.5 L360.5,364.0 L361.6,364.8 L362.6,365.8 L363.3,367.0 L364.2,368.0 L364.9,369.2 L365.2,370.6 L365.3,372.0 Z" fill="none" stroke="#707070" stroke-width="1.25" opacity="0.95"/>
<path d="M360.9,364.3 L362.0,365.1 L362.8,366.3 L363.7,367.5 L364.6,368.6 L365.1,370.0 L365.3,371.4 L365.2,372.9 L364.8,374.2 L364.3,375.6 L363.7,376.9 L362.8,378.0 L361.8,379.0 L360.5,379.7 L359.2,380.1 L357.8,380.5 L356.4,380.7" fill="none" stroke="#505050" stroke-width="1.30" opacity="0.85"/>
</g></defs>
<use href="#k31" filter="url(#b8)" opacity="0.9"/><use href="#k31" opacity="0.55"/>
<defs><g id="k32">
<circle cx="398.0" cy="371.7" r="8.5" fill="#48183a" opacity="0.63"/>
<circle cx="394.6" cy="369.8" r="0.8" fill="#a82a74" opacity="0.21"/>
<circle cx="396.0" cy="371.9" r="1.0" fill="#a82a74" opacity="0.21"/>
<circle cx="398.0" cy="372.3" r="0.7" fill="#a82a74" opacity="0.21"/>
<circle cx="393.3" cy="369.9" r="0.9" fill="#a82a74" opacity="0.21"/>
<circle cx="399.4" cy="372.0" r="0.6" fill="#a82a74" opacity="0.21"/>
<circle cx="397.2" cy="373.4" r="1.1" fill="#a82a74" opacity="0.21"/>
<circle cx="393.3" cy="372.2" r="1.0" fill="#a82a74" opacity="0.21"/>
<circle cx="398.6" cy="372.2" r="1.1" fill="#a82a74" opacity="0.21"/>
<path d="M406.2,371.7 L406.1,373.0 L405.9,374.3 L405.4,375.5 L404.7,376.6 L403.9,377.6 L402.9,378.4 L401.8,379.1 L400.6,379.6 L399.3,379.9 L398.0,380.0 L396.7,379.9 L395.4,379.6 L394.2,379.1 L393.2,378.4 L392.2,377.5 L391.3,376.5 L390.6,375.5 L390.1,374.3 L389.8,373.0 L389.6,371.7 L389.8,370.4 L390.1,369.1 L390.6,367.9 L391.3,366.8 L392.2,365.9 L393.2,365.0 L394.3,364.4 L395.5,364.0 L396.7,363.8 L398.0,363.7 L399.3,363.8 L400.5,364.0 L401.7,364.4 L402.9,365.0 L403.9,365.8 L404.7,366.8 L405.4,367.9 L405.9,369.1 L406.1,370.4 L406.2,371.7 Z" fill="none" stroke="#cf3690" stroke-width="2.28" opacity="0.13"/>
<path d="M406.2,371.7 L406.1,373.0 L405.9,374.3 L405.4,375.5 L404.7,376.6 L403.9,377.6 L402.9,378.4 L401.8,379.1 L400.6,379.6 L399.3,379.9 L398.0,380.0 L396.7,379.9 L395.4,379.6 L394.2,379.1 L393.2,378.4 L392.2,377.5 L391.3,376.5 L390.6,375.5 L390.1,374.3 L389.8,373.0 L389.6,371.7 L389.8,370.4 L390.1,369.1 L390.6,367.9 L391.3,366.8 L392.2,365.9 L393.2,365.0 L394.3,364.4 L395.5,364.0 L396.7,363.8 L398.0,363.7 L399.3,363.8 L400.5,364.0 L401.7,364.4 L402.9,365.0 L403.9,365.8 L404.7,366.8 L405.4,367.9 L405.9,369.1 L406.1,370.4 L406.2,371.7 Z" fill="none" stroke="#cf3690" stroke-width="1.28" opacity="0.42"/>
<path d="M403.3,378.1 L402.3,378.8 L401.1,379.4 L399.8,379.8 L398.5,380.0 L397.2,380.0 L395.9,379.7 L394.7,379.3 L393.5,378.6 L392.5,377.8 L391.6,376.9 L390.8,375.8" fill="none" stroke="#f046a6" stroke-width="1.50" opacity="0.68" stroke-linecap="round"/>
<circle cx="404.9" cy="376.9" r="1.2" fill="#f548ac" opacity="0.85"/>
</g></defs>
<use href="#k32" filter="url(#b8)" opacity="0.6"/><use href="#k32" opacity="0.7"/>
<defs><g id="k33">
<path d="M447.5,370.9 L447.4,372.2 L447.4,373.5 L447.1,374.8 L446.5,376.0 L445.6,377.0 L444.5,377.8 L443.3,378.3 L442.0,378.6 L440.8,378.8 L439.5,379.0 L438.2,379.0 L436.9,378.9 L435.6,378.5 L434.5,377.8 L433.5,376.9 L432.6,375.9 L431.9,374.8 L431.3,373.6 L431.0,372.2 L431.0,370.9 L431.1,369.6 L431.4,368.3 L431.9,367.1 L432.7,366.0 L433.7,365.1 L434.7,364.3 L435.8,363.7 L437.0,363.2 L438.2,362.8 L439.5,362.7 L440.8,362.8 L442.0,363.1 L443.3,363.5 L444.4,364.1 L445.5,364.9 L446.4,365.9 L446.9,367.1 L447.3,368.4 L447.4,369.6 L447.5,370.9 Z" fill="none" stroke="#5aa69c" stroke-width="1.3" opacity="0.20"/>
<path d="M447.4,373.0 L447.2,374.4 L446.7,375.7 L445.8,376.9 L444.6,377.7 L443.3,378.2 L442.0,378.6 L440.7,378.8 L439.4,379.0 L438.0,379.0 L436.6,378.8" fill="none" stroke="#6cc4be" stroke-width="1.60" opacity="0.51" stroke-linecap="round"/>
<path d="M434.2,364.6 L435.3,363.9 L436.5,363.4 L437.7,363.0 L438.9,362.8 L440.2,362.8 L441.5,363.0 L442.7,363.3 L443.9,363.8 L445.0,364.5 L446.0,365.4" fill="none" stroke="#6cc4be" stroke-width="1.00" opacity="0.26" stroke-linecap="round"/>
<ellipse cx="435.1" cy="361.8" rx="1.32" ry="0.99" fill="#7fd4e4" opacity="0.7"/>
<ellipse cx="434.4" cy="365.8" rx="2.20" ry="1.10" fill="#8adcee" opacity="1.0"/>
<ellipse cx="440.0" cy="364.5" rx="1.87" ry="0.88" fill="#7fd4e4" opacity="0.65"/>
<ellipse cx="432.2" cy="369.6" rx="1.32" ry="1.21" fill="#8adcee" opacity="1.0"/>
<ellipse cx="440.6" cy="368.1" rx="1.32" ry="0.88" fill="#7fd4e4" opacity="0.4"/>
<ellipse cx="433.5" cy="373.0" rx="1.87" ry="1.10" fill="#8adcee" opacity="1.0"/>
<ellipse cx="436.4" cy="375.2" rx="1.32" ry="1.10" fill="#8adcee" opacity="0.9"/>
<ellipse cx="433.8" cy="377.2" rx="1.32" ry="1.10" fill="#8adcee" opacity="0.95"/>
<ellipse cx="427.9" cy="373.3" rx="0.99" ry="1.10" fill="#7fd4e4" opacity="0.4"/>
<ellipse cx="438.7" cy="380.1" rx="1.87" ry="0.88" fill="#7fd4e4" opacity="0.65" transform="rotate(-10 438.7 380.1)"/>
</g></defs>
<use href="#k33" filter="url(#b8)" opacity="0.65"/><use href="#k33" opacity="0.7"/>
<defs><g id="k34">
<circle cx="480.0" cy="371.7" r="8.5" fill="#48183a" opacity="0.48"/>
<circle cx="476.6" cy="369.8" r="0.8" fill="#a82a74" opacity="0.27"/>
<circle cx="478.0" cy="371.9" r="1.0" fill="#a82a74" opacity="0.27"/>
<circle cx="480.0" cy="372.3" r="0.7" fill="#a82a74" opacity="0.27"/>
<circle cx="475.3" cy="369.9" r="0.9" fill="#a82a74" opacity="0.27"/>
<circle cx="481.4" cy="372.0" r="0.6" fill="#a82a74" opacity="0.27"/>
<circle cx="479.2" cy="373.4" r="1.1" fill="#a82a74" opacity="0.27"/>
<circle cx="475.3" cy="372.2" r="1.0" fill="#a82a74" opacity="0.27"/>
<circle cx="480.6" cy="372.2" r="1.1" fill="#a82a74" opacity="0.27"/>
<path d="M488.1,371.7 L488.0,373.0 L487.7,374.2 L487.3,375.4 L486.6,376.5 L485.8,377.5 L484.8,378.3 L483.7,379.0 L482.5,379.5 L481.3,379.8 L480.0,379.9 L478.7,379.8 L477.5,379.5 L476.3,379.0 L475.2,378.3 L474.3,377.4 L473.4,376.5 L472.7,375.4 L472.2,374.2 L471.9,373.0 L471.8,371.7 L471.9,370.4 L472.2,369.2 L472.7,368.0 L473.4,366.9 L474.2,365.9 L475.2,365.1 L476.3,364.5 L477.5,364.1 L478.8,363.9 L480.0,363.8 L481.2,363.9 L482.5,364.1 L483.7,364.5 L484.8,365.1 L485.8,365.9 L486.6,366.9 L487.3,368.0 L487.7,369.2 L488.0,370.4 L488.1,371.7 Z" fill="none" stroke="#d6237c" stroke-width="2.55" opacity="0.16"/>
<path d="M488.1,371.7 L488.0,373.0 L487.7,374.2 L487.3,375.4 L486.6,376.5 L485.8,377.5 L484.8,378.3 L483.7,379.0 L482.5,379.5 L481.3,379.8 L480.0,379.9 L478.7,379.8 L477.5,379.5 L476.3,379.0 L475.2,378.3 L474.3,377.4 L473.4,376.5 L472.7,375.4 L472.2,374.2 L471.9,373.0 L471.8,371.7 L471.9,370.4 L472.2,369.2 L472.7,368.0 L473.4,366.9 L474.2,365.9 L475.2,365.1 L476.3,364.5 L477.5,364.1 L478.8,363.9 L480.0,363.8 L481.2,363.9 L482.5,364.1 L483.7,364.5 L484.8,365.1 L485.8,365.9 L486.6,366.9 L487.3,368.0 L487.7,369.2 L488.0,370.4 L488.1,371.7 Z" fill="none" stroke="#d6237c" stroke-width="1.44" opacity="0.55"/>
<path d="M485.3,378.0 L484.2,378.7 L483.0,379.3 L481.8,379.7 L480.5,379.9 L479.2,379.9 L477.9,379.6 L476.7,379.2 L475.6,378.5 L474.6,377.8 L473.7,376.8 L472.9,375.8" fill="none" stroke="#f0308e" stroke-width="1.50" opacity="0.68" stroke-linecap="round"/>
<circle cx="486.9" cy="376.9" r="1.2" fill="#f548ac" opacity="0.85"/>
</g></defs>
<use href="#k34" filter="url(#b8)" opacity="0.6"/><use href="#k34" opacity="0.7"/>
<defs><g id="k35">
<path d="M488.5,370.9 L488.4,372.2 L488.4,373.5 L488.1,374.8 L487.5,376.0 L486.6,377.0 L485.5,377.8 L484.3,378.3 L483.0,378.6 L481.8,378.8 L480.5,379.0 L479.2,379.0 L477.9,378.9 L476.6,378.5 L475.5,377.8 L474.5,376.9 L473.6,375.9 L472.9,374.8 L472.3,373.6 L472.0,372.2 L472.0,370.9 L472.1,369.6 L472.4,368.3 L472.9,367.1 L473.7,366.0 L474.7,365.1 L475.7,364.3 L476.8,363.7 L478.0,363.2 L479.2,362.8 L480.5,362.7 L481.8,362.8 L483.0,363.1 L484.3,363.5 L485.4,364.1 L486.5,364.9 L487.4,365.9 L487.9,367.1 L488.3,368.4 L488.4,369.6 L488.5,370.9 Z" fill="none" stroke="#5aa69c" stroke-width="1.3" opacity="0.12"/>
<path d="M488.4,373.0 L488.2,374.4 L487.7,375.7 L486.8,376.9 L485.6,377.7 L484.3,378.2 L483.0,378.6 L481.7,378.8 L480.4,379.0 L479.0,379.0 L477.6,378.8" fill="none" stroke="#6cc4be" stroke-width="1.60" opacity="0.41" stroke-linecap="round"/>
<path d="M475.2,364.6 L476.3,363.9 L477.5,363.4 L478.7,363.0 L479.9,362.8 L481.2,362.8 L482.5,363.0 L483.7,363.3 L484.9,363.8 L486.0,364.5 L487.0,365.4" fill="none" stroke="#6cc4be" stroke-width="1.00" opacity="0.20" stroke-linecap="round"/>
<ellipse cx="476.1" cy="361.8" rx="1.32" ry="0.99" fill="#7fd4e4" opacity="0.7"/>
<ellipse cx="475.4" cy="365.8" rx="2.20" ry="1.10" fill="#b4eaf6" opacity="1.0"/>
<ellipse cx="481.0" cy="364.5" rx="1.87" ry="0.88" fill="#7fd4e4" opacity="0.65"/>
<ellipse cx="473.2" cy="369.6" rx="1.32" ry="1.21" fill="#b4eaf6" opacity="1.0"/>
<ellipse cx="481.6" cy="368.1" rx="1.32" ry="0.88" fill="#7fd4e4" opacity="0.4"/>
<ellipse cx="474.5" cy="373.0" rx="1.87" ry="1.10" fill="#b4eaf6" opacity="1.0"/>
<ellipse cx="477.4" cy="375.2" rx="1.32" ry="1.10" fill="#b4eaf6" opacity="0.9"/>
<ellipse cx="474.8" cy="377.2" rx="1.32" ry="1.10" fill="#b4eaf6" opacity="0.95"/>
<ellipse cx="468.9" cy="373.3" rx="0.99" ry="1.10" fill="#7fd4e4" opacity="0.4"/>
<ellipse cx="479.7" cy="380.1" rx="1.87" ry="0.88" fill="#7fd4e4" opacity="0.65" transform="rotate(-10 479.7 380.1)"/>
</g></defs>
<use href="#k35" filter="url(#b8)" opacity="0.65"/><use href="#k35" opacity="0.7"/>
<defs><g id="k36" transform="translate(357.7,417.5) scale(1,1.105) translate(-357.7,-417.5)">
<circle cx="357.7" cy="417.5" r="9.1" fill="none" stroke="#d4d4d4" stroke-width="1.4" opacity="0.75"/>
<path d="M360.8,408.9 L362.2,409.6 L363.4,410.4 L364.6,411.3 L365.5,412.5 L366.0,413.9 L366.5,415.3 L366.9,416.8 L366.9,418.3 L366.4,419.7 L365.9,421.1 L365.3,422.5 L364.4,423.7 L363.3,424.7 L362.1,425.5 L360.8,426.2 L359.3,426.5" fill="none" stroke="#efefef" stroke-width="1.6" opacity="0.95"/>
<circle cx="357.7" cy="417.5" r="7.3" fill="#cecece" opacity="0.9"/>
<ellipse cx="357.9" cy="421.9" rx="0.9" ry="1.3" fill="#eee" opacity="0.75" transform="rotate(141 357.9 421.9)"/>
<ellipse cx="357.5" cy="423.3" rx="1.4" ry="1.0" fill="#e4e4e4" opacity="0.75" transform="rotate(161 357.5 423.3)"/>
<ellipse cx="354.9" cy="421.7" rx="1.6" ry="0.9" fill="#9a9a9a" opacity="0.75" transform="rotate(1 354.9 421.7)"/>
<ellipse cx="358.3" cy="416.7" rx="0.7" ry="1.1" fill="#858585" opacity="0.75" transform="rotate(45 358.3 416.7)"/>
<ellipse cx="355.7" cy="420.3" rx="1.4" ry="1.2" fill="#e4e4e4" opacity="0.75" transform="rotate(166 355.7 420.3)"/>
<ellipse cx="359.6" cy="422.6" rx="1.6" ry="0.7" fill="#e4e4e4" opacity="0.75" transform="rotate(3 359.6 422.6)"/>
<ellipse cx="362.9" cy="414.1" rx="0.9" ry="1.3" fill="#929292" opacity="0.75" transform="rotate(118 362.9 414.1)"/>
<ellipse cx="362.4" cy="415.4" rx="1.5" ry="1.3" fill="#9a9a9a" opacity="0.75" transform="rotate(94 362.4 415.4)"/>
<ellipse cx="362.2" cy="421.3" rx="1.2" ry="1.3" fill="#eee" opacity="0.75" transform="rotate(126 362.2 421.3)"/>
<ellipse cx="361.7" cy="421.2" rx="1.6" ry="1.2" fill="#888" opacity="0.75" transform="rotate(10 361.7 421.2)"/>
<ellipse cx="363.7" cy="417.4" rx="1.2" ry="1.2" fill="#929292" opacity="0.75" transform="rotate(136 363.7 417.4)"/>
<ellipse cx="360.5" cy="412.5" rx="1.0" ry="1.0" fill="#888" opacity="0.75" transform="rotate(149 360.5 412.5)"/>
<ellipse cx="360.3" cy="414.5" rx="0.9" ry="1.1" fill="#858585" opacity="0.75" transform="rotate(150 360.3 414.5)"/>
<ellipse cx="352.1" cy="418.1" rx="1.0" ry="0.8" fill="#888" opacity="0.75" transform="rotate(170 352.1 418.1)"/>
<ellipse cx="352.6" cy="414.0" rx="1.5" ry="0.8" fill="#fff" opacity="0.75" transform="rotate(123 352.6 414.0)"/>
<ellipse cx="358.5" cy="413.0" rx="1.5" ry="0.7" fill="#9a9a9a" opacity="0.75" transform="rotate(76 358.5 413.0)"/>
<ellipse cx="351.8" cy="418.9" rx="1.3" ry="0.7" fill="#888" opacity="0.75" transform="rotate(107 351.8 418.9)"/>
<ellipse cx="357.0" cy="412.9" rx="1.2" ry="1.0" fill="#858585" opacity="0.75" transform="rotate(112 357.0 412.9)"/>
<ellipse cx="357.1" cy="413.2" rx="1.3" ry="1.1" fill="#888" opacity="0.75" transform="rotate(35 357.1 413.2)"/>
<ellipse cx="358.9" cy="411.4" rx="1.1" ry="1.2" fill="#9a9a9a" opacity="0.75" transform="rotate(98 358.9 411.4)"/>
<path d="M352.4,420.6 L352.0,419.6 L351.8,418.7 L351.7,417.7 L351.7,416.7 L351.9,415.8 L352.3,414.9 L352.8,414.0 L353.4,413.3 L354.2,412.7 L355.0,412.1 L355.9,411.6 L356.9,411.5 L357.8,411.5 L358.8,411.5 L359.8,411.7" fill="none" stroke="#f4f4f4" stroke-width="1.0" opacity="0.65"/>
<path d="M365.2,417.5 L365.1,418.7 L364.9,419.8 L364.4,420.9 L363.7,421.9 L363.1,422.9 L362.3,423.8 L361.2,424.3 L360.0,424.6 L358.9,425.0 L357.7,425.1 L356.5,425.1 L355.3,424.9 L354.2,424.3 L353.3,423.6 L352.3,422.9 L351.4,422.1 L350.8,421.0 L350.4,419.9 L350.1,418.7 L350.1,417.5 L350.2,416.3 L350.4,415.1 L350.9,414.0 L351.5,413.0 L352.3,412.1 L353.3,411.4 L354.2,410.7 L355.3,410.1 L356.5,409.9 L357.7,409.9 L358.9,409.9 L360.1,410.1 L361.2,410.6 L362.3,411.2 L363.1,412.1 L363.7,413.2 L364.3,414.1 L364.8,415.2 L365.1,416.3 L365.2,417.5 Z" fill="none" stroke="#737373" stroke-width="1.23" opacity="0.95"/>
<path d="M353.9,424.1 L352.9,423.4 L351.9,422.6 L351.1,421.6 L350.6,420.5 L350.2,419.2 L350.1,418.0 L350.1,416.8 L350.3,415.5 L350.7,414.3 L351.3,413.3 L352.1,412.3 L353.1,411.5 L354.1,410.8 L355.2,410.1 L356.4,409.9 L357.7,409.9" fill="none" stroke="#535353" stroke-width="1.27" opacity="0.85"/>
</g></defs>
<use href="#k36" filter="url(#b8)" opacity="0.9"/><use href="#k36" opacity="0.55"/>
<defs><g id="k37" transform="translate(399.3,417.3) scale(1,1.072) translate(-399.3,-417.3)">
<circle cx="399.3" cy="417.3" r="7.5" fill="#48183a" opacity="0.63"/>
<circle cx="398.4" cy="416.6" r="0.6" fill="#a82a74" opacity="0.21"/>
<circle cx="398.6" cy="418.3" r="1.0" fill="#a82a74" opacity="0.21"/>
<circle cx="400.3" cy="417.9" r="0.7" fill="#a82a74" opacity="0.21"/>
<circle cx="402.0" cy="419.6" r="1.0" fill="#a82a74" opacity="0.21"/>
<circle cx="397.8" cy="418.5" r="0.7" fill="#a82a74" opacity="0.21"/>
<circle cx="399.1" cy="416.8" r="0.8" fill="#a82a74" opacity="0.21"/>
<circle cx="401.4" cy="421.2" r="0.9" fill="#a82a74" opacity="0.21"/>
<circle cx="399.1" cy="415.6" r="0.8" fill="#a82a74" opacity="0.21"/>
<path d="M407.0,417.3 L406.8,418.5 L406.4,419.6 L405.8,420.6 L405.1,421.5 L404.3,422.3 L403.5,423.0 L402.6,423.7 L401.6,424.3 L400.5,424.7 L399.3,424.8 L398.1,424.7 L397.0,424.4 L395.9,423.9 L395.0,423.2 L394.1,422.5 L393.3,421.6 L392.7,420.7 L392.1,419.6 L391.8,418.5 L391.7,417.3 L391.8,416.1 L392.1,415.0 L392.7,413.9 L393.4,413.0 L394.1,412.1 L395.0,411.4 L395.9,410.7 L397.0,410.2 L398.1,409.8 L399.3,409.7 L400.5,409.8 L401.6,410.2 L402.6,410.8 L403.5,411.5 L404.3,412.3 L405.1,413.1 L405.8,414.0 L406.4,415.0 L406.8,416.1 L407.0,417.3 Z" fill="none" stroke="#cf3690" stroke-width="2.28" opacity="0.13"/>
<path d="M407.0,417.3 L406.8,418.5 L406.4,419.6 L405.8,420.6 L405.1,421.5 L404.3,422.3 L403.5,423.0 L402.6,423.7 L401.6,424.3 L400.5,424.7 L399.3,424.8 L398.1,424.7 L397.0,424.4 L395.9,423.9 L395.0,423.2 L394.1,422.5 L393.3,421.6 L392.7,420.7 L392.1,419.6 L391.8,418.5 L391.7,417.3 L391.8,416.1 L392.1,415.0 L392.7,413.9 L393.4,413.0 L394.1,412.1 L395.0,411.4 L395.9,410.7 L397.0,410.2 L398.1,409.8 L399.3,409.7 L400.5,409.8 L401.6,410.2 L402.6,410.8 L403.5,411.5 L404.3,412.3 L405.1,413.1 L405.8,414.0 L406.4,415.0 L406.8,416.1 L407.0,417.3 Z" fill="none" stroke="#cf3690" stroke-width="1.28" opacity="0.42"/>
<path d="M407.0,417.3 L406.8,418.5 L406.4,419.6 L405.7,420.7 L405.0,421.5 L404.2,422.4 L403.4,423.1 L402.4,423.8 L401.4,424.4 L400.3,424.7 L399.1,424.8 L397.9,424.6 L396.8,424.3" fill="none" stroke="#f046a6" stroke-width="1.60" opacity="0.75" stroke-linecap="round"/>
<path d="M392.9,421.0 L392.2,419.9 L391.8,418.6 L391.7,417.3 L391.8,416.0 L392.3,414.7 L392.9,413.6 L393.7,412.6 L394.6,411.7" fill="none" stroke="#f046a6" stroke-width="1.20" opacity="0.38" stroke-linecap="round"/>
<circle cx="405.5" cy="420.6" r="1.2" fill="#f548ac" opacity="0.8"/>
</g></defs>
<use href="#k37" filter="url(#b8)" opacity="0.6"/><use href="#k37" opacity="0.7"/>
<defs><g id="k38">
<path d="M447.5,417.3 L447.4,418.5 L447.2,419.7 L446.8,420.8 L446.2,421.9 L445.4,422.8 L444.4,423.5 L443.4,424.1 L442.2,424.5 L441.1,424.7 L439.9,424.9 L438.7,424.9 L437.5,424.8 L436.3,424.4 L435.2,423.7 L434.3,422.9 L433.6,421.9 L433.0,420.8 L432.6,419.7 L432.3,418.5 L432.3,417.3 L432.4,416.1 L432.7,415.0 L433.1,413.8 L433.7,412.8 L434.3,411.7 L435.2,410.8 L436.3,410.2 L437.4,409.7 L438.7,409.4 L439.9,409.4 L441.1,409.5 L442.4,409.8 L443.5,410.2 L444.6,410.9 L445.5,411.7 L446.3,412.6 L446.9,413.7 L447.3,414.9 L447.4,416.1 L447.5,417.3 Z" fill="none" stroke="#5aa69c" stroke-width="1.3" opacity="0.24"/>
<path d="M432.8,414.7 L433.2,413.6 L433.8,412.5 L434.6,411.4 L435.6,410.6 L436.7,410.0 L437.9,409.6 L439.2,409.4 L440.5,409.4 L441.8,409.6 L443.0,410.0 L444.1,410.6 L445.2,411.3 L446.1,412.2 L446.8,413.3" fill="none" stroke="#6cc4be" stroke-width="1.20" opacity="0.38" stroke-linecap="round"/>
<path d="M446.8,413.3 L447.2,414.5 L447.4,415.8 L447.4,417.0 L447.4,418.2 L447.2,419.4 L446.9,420.6 L446.3,421.7 L445.5,422.7 L444.5,423.5 L443.4,424.0 L442.3,424.5 L441.1,424.7 L439.9,424.9" fill="none" stroke="#6cc4be" stroke-width="1.20" opacity="0.34" stroke-linecap="round"/>
<ellipse cx="435.4" cy="419.6" rx="1.98" ry="1.87" fill="#8adcee" opacity="1.0"/>
<ellipse cx="438.7" cy="421.2" rx="1.98" ry="1.76" fill="#8adcee" opacity="1.0"/>
<ellipse cx="433.5" cy="417.3" rx="1.32" ry="1.43" fill="#8adcee" opacity="0.85"/>
<ellipse cx="440.6" cy="417.3" rx="1.32" ry="1.10" fill="#8adcee" opacity="0.8"/>
<ellipse cx="444.6" cy="415.7" rx="1.43" ry="0.99" fill="#7fd4e4" opacity="0.75"/>
<ellipse cx="443.9" cy="412.7" rx="1.76" ry="0.88" fill="#7fd4e4" opacity="0.7" transform="rotate(-30 443.9 412.7)"/>
<ellipse cx="436.1" cy="416.0" rx="1.21" ry="1.10" fill="#8adcee" opacity="0.8"/>
</g></defs>
<use href="#k38" filter="url(#b8)" opacity="0.65"/><use href="#k38" opacity="0.7"/>
<defs><g id="k39" transform="translate(481.3,417.3) scale(1,1.072) translate(-481.3,-417.3)">
<circle cx="481.3" cy="417.3" r="7.5" fill="#48183a" opacity="0.48"/>
<circle cx="480.4" cy="416.6" r="0.6" fill="#a82a74" opacity="0.27"/>
<circle cx="480.6" cy="418.3" r="1.0" fill="#a82a74" opacity="0.27"/>
<circle cx="482.3" cy="417.9" r="0.7" fill="#a82a74" opacity="0.27"/>
<circle cx="484.0" cy="419.6" r="1.0" fill="#a82a74" opacity="0.27"/>
<circle cx="479.8" cy="418.5" r="0.7" fill="#a82a74" opacity="0.27"/>
<circle cx="481.1" cy="416.8" r="0.8" fill="#a82a74" opacity="0.27"/>
<circle cx="483.4" cy="421.2" r="0.9" fill="#a82a74" opacity="0.27"/>
<circle cx="481.1" cy="415.6" r="0.8" fill="#a82a74" opacity="0.27"/>
<path d="M488.8,417.3 L488.7,418.5 L488.3,419.6 L487.7,420.5 L487.0,421.4 L486.2,422.2 L485.4,423.0 L484.5,423.6 L483.5,424.2 L482.4,424.6 L481.3,424.7 L480.1,424.6 L479.0,424.3 L478.0,423.8 L477.0,423.2 L476.2,422.4 L475.4,421.6 L474.8,420.6 L474.2,419.6 L473.9,418.5 L473.8,417.3 L473.9,416.1 L474.3,415.0 L474.8,414.0 L475.5,413.1 L476.2,412.2 L477.1,411.5 L478.0,410.8 L479.0,410.3 L480.1,409.9 L481.3,409.8 L482.5,409.9 L483.6,410.3 L484.6,410.9 L485.5,411.6 L486.3,412.3 L487.0,413.1 L487.7,414.0 L488.3,415.0 L488.7,416.1 L488.8,417.3 Z" fill="none" stroke="#d6237c" stroke-width="2.55" opacity="0.16"/>
<path d="M488.8,417.3 L488.7,418.5 L488.3,419.6 L487.7,420.5 L487.0,421.4 L486.2,422.2 L485.4,423.0 L484.5,423.6 L483.5,424.2 L482.4,424.6 L481.3,424.7 L480.1,424.6 L479.0,424.3 L478.0,423.8 L477.0,423.2 L476.2,422.4 L475.4,421.6 L474.8,420.6 L474.2,419.6 L473.9,418.5 L473.8,417.3 L473.9,416.1 L474.3,415.0 L474.8,414.0 L475.5,413.1 L476.2,412.2 L477.1,411.5 L478.0,410.8 L479.0,410.3 L480.1,409.9 L481.3,409.8 L482.5,409.9 L483.6,410.3 L484.6,410.9 L485.5,411.6 L486.3,412.3 L487.0,413.1 L487.7,414.0 L488.3,415.0 L488.7,416.1 L488.8,417.3 Z" fill="none" stroke="#d6237c" stroke-width="1.44" opacity="0.55"/>
<path d="M488.8,417.3 L488.7,418.5 L488.3,419.6 L487.6,420.6 L486.9,421.5 L486.1,422.3 L485.3,423.0 L484.4,423.7 L483.4,424.2 L482.3,424.6 L481.1,424.7 L479.9,424.5 L478.8,424.2" fill="none" stroke="#f0308e" stroke-width="1.60" opacity="0.75" stroke-linecap="round"/>
<path d="M475.0,421.0 L474.3,419.8 L473.9,418.6 L473.8,417.3 L473.9,416.0 L474.4,414.8 L475.0,413.7 L475.8,412.7 L476.7,411.8" fill="none" stroke="#f0308e" stroke-width="1.20" opacity="0.38" stroke-linecap="round"/>
<circle cx="487.5" cy="420.6" r="1.2" fill="#f548ac" opacity="0.8"/>
</g></defs>
<use href="#k39" filter="url(#b8)" opacity="0.6"/><use href="#k39" opacity="0.7"/>
<defs><g id="k40">
<path d="M488.5,417.3 L488.4,418.5 L488.2,419.7 L487.8,420.8 L487.2,421.9 L486.4,422.8 L485.4,423.5 L484.4,424.1 L483.2,424.5 L482.1,424.7 L480.9,424.9 L479.7,424.9 L478.5,424.8 L477.3,424.4 L476.2,423.7 L475.3,422.9 L474.6,421.9 L474.0,420.8 L473.6,419.7 L473.3,418.5 L473.3,417.3 L473.4,416.1 L473.7,415.0 L474.1,413.8 L474.7,412.8 L475.3,411.7 L476.2,410.8 L477.3,410.2 L478.4,409.7 L479.7,409.4 L480.9,409.4 L482.1,409.5 L483.4,409.8 L484.5,410.2 L485.6,410.9 L486.5,411.7 L487.3,412.6 L487.9,413.7 L488.3,414.9 L488.4,416.1 L488.5,417.3 Z" fill="none" stroke="#5aa69c" stroke-width="1.3" opacity="0.14"/>
<path d="M473.8,414.7 L474.2,413.6 L474.8,412.5 L475.6,411.4 L476.6,410.6 L477.7,410.0 L478.9,409.6 L480.2,409.4 L481.5,409.4 L482.8,409.6 L484.0,410.0 L485.1,410.6 L486.2,411.3 L487.1,412.2 L487.8,413.3" fill="none" stroke="#6cc4be" stroke-width="1.20" opacity="0.31" stroke-linecap="round"/>
<path d="M487.8,413.3 L488.2,414.5 L488.4,415.8 L488.4,417.0 L488.4,418.2 L488.2,419.4 L487.9,420.6 L487.3,421.7 L486.5,422.7 L485.5,423.5 L484.4,424.0 L483.3,424.5 L482.1,424.7 L480.9,424.9" fill="none" stroke="#6cc4be" stroke-width="1.20" opacity="0.27" stroke-linecap="round"/>
<ellipse cx="476.4" cy="419.6" rx="1.98" ry="1.87" fill="#b4eaf6" opacity="1.0"/>
<ellipse cx="479.7" cy="421.2" rx="1.98" ry="1.76" fill="#b4eaf6" opacity="1.0"/>
<ellipse cx="474.5" cy="417.3" rx="1.32" ry="1.43" fill="#b4eaf6" opacity="0.85"/>
<ellipse cx="481.6" cy="417.3" rx="1.32" ry="1.10" fill="#b4eaf6" opacity="0.8"/>
<ellipse cx="485.6" cy="415.7" rx="1.43" ry="0.99" fill="#7fd4e4" opacity="0.75"/>
<ellipse cx="484.9" cy="412.7" rx="1.76" ry="0.88" fill="#7fd4e4" opacity="0.7" transform="rotate(-30 484.9 412.7)"/>
<ellipse cx="477.1" cy="416.0" rx="1.21" ry="1.10" fill="#b4eaf6" opacity="0.8"/>
</g></defs>
<use href="#k40" filter="url(#b8)" opacity="0.65"/><use href="#k40" opacity="0.7"/>
<defs><g id="k41">
<circle cx="355.7" cy="460.0" r="10.7" fill="none" stroke="#d4d4d4" stroke-width="1.4" opacity="0.75"/>
<path d="M359.4,449.8 L361.0,450.5 L362.5,451.5 L363.8,452.7 L364.8,454.2 L365.4,455.8 L365.9,457.5 L366.2,459.2 L366.3,460.9 L366.2,462.7 L365.7,464.4 L364.8,466.0 L363.6,467.3 L362.2,468.3 L360.8,469.3 L359.3,470.2 L357.6,470.7" fill="none" stroke="#efefef" stroke-width="1.6" opacity="0.95"/>
<circle cx="355.7" cy="460.0" r="8.9" fill="#c9c9c9" opacity="0.9"/>
<ellipse cx="361.2" cy="458.8" rx="1.3" ry="0.8" fill="#e4e4e4" opacity="0.71" transform="rotate(138 361.2 458.8)"/>
<ellipse cx="360.6" cy="459.7" rx="0.8" ry="1.0" fill="#f8f8f8" opacity="0.71" transform="rotate(86 360.6 459.7)"/>
<ellipse cx="351.0" cy="454.1" rx="0.7" ry="1.0" fill="#f8f8f8" opacity="0.71" transform="rotate(13 351.0 454.1)"/>
<ellipse cx="360.8" cy="457.6" rx="1.3" ry="1.2" fill="#9a9a9a" opacity="0.71" transform="rotate(98 360.8 457.6)"/>
<ellipse cx="358.4" cy="458.1" rx="1.2" ry="0.9" fill="#f8f8f8" opacity="0.71" transform="rotate(98 358.4 458.1)"/>
<ellipse cx="360.1" cy="464.4" rx="1.4" ry="1.0" fill="#929292" opacity="0.71" transform="rotate(46 360.1 464.4)"/>
<ellipse cx="356.7" cy="462.6" rx="1.4" ry="0.9" fill="#e4e4e4" opacity="0.71" transform="rotate(168 356.7 462.6)"/>
<ellipse cx="353.1" cy="454.9" rx="1.5" ry="1.1" fill="#888" opacity="0.71" transform="rotate(134 353.1 454.9)"/>
<ellipse cx="350.1" cy="458.0" rx="1.3" ry="0.9" fill="#9a9a9a" opacity="0.71" transform="rotate(95 350.1 458.0)"/>
<ellipse cx="357.5" cy="464.8" rx="1.3" ry="1.1" fill="#e4e4e4" opacity="0.71" transform="rotate(54 357.5 464.8)"/>
<ellipse cx="358.5" cy="466.1" rx="0.8" ry="0.7" fill="#e4e4e4" opacity="0.71" transform="rotate(36 358.5 466.1)"/>
<ellipse cx="351.3" cy="457.5" rx="0.7" ry="1.2" fill="#eee" opacity="0.71" transform="rotate(130 351.3 457.5)"/>
<ellipse cx="358.5" cy="464.6" rx="1.5" ry="1.2" fill="#888" opacity="0.71" transform="rotate(73 358.5 464.6)"/>
<ellipse cx="351.9" cy="457.1" rx="1.2" ry="1.0" fill="#888" opacity="0.71" transform="rotate(137 351.9 457.1)"/>
<ellipse cx="354.6" cy="463.3" rx="0.8" ry="0.7" fill="#9a9a9a" opacity="0.71" transform="rotate(159 354.6 463.3)"/>
<ellipse cx="350.2" cy="458.4" rx="0.7" ry="1.1" fill="#888" opacity="0.71" transform="rotate(124 350.2 458.4)"/>
<ellipse cx="355.3" cy="465.4" rx="0.9" ry="1.1" fill="#888" opacity="0.71" transform="rotate(38 355.3 465.4)"/>
<ellipse cx="356.6" cy="452.8" rx="1.6" ry="0.9" fill="#929292" opacity="0.71" transform="rotate(59 356.6 452.8)"/>
<ellipse cx="356.4" cy="462.4" rx="0.8" ry="0.7" fill="#fff" opacity="0.71" transform="rotate(143 356.4 462.4)"/>
<ellipse cx="358.5" cy="462.3" rx="1.3" ry="0.7" fill="#9a9a9a" opacity="0.71" transform="rotate(60 358.5 462.3)"/>
<path d="M349.2,463.8 L348.8,462.6 L348.4,461.5 L348.0,460.3 L348.0,459.0 L348.2,457.8 L348.8,456.6 L349.6,455.7 L350.3,454.7 L351.2,453.8 L352.3,453.2 L353.5,452.9 L354.6,452.4 L355.9,452.2 L357.1,452.4 L358.3,452.8" fill="none" stroke="#f4f4f4" stroke-width="1.0" opacity="0.57"/>
<path d="M365.2,460.0 L364.9,461.5 L364.5,462.9 L363.9,464.2 L363.1,465.4 L362.2,466.5 L361.1,467.5 L359.9,468.3 L358.6,468.9 L357.2,469.3 L355.7,469.5 L354.2,469.2 L352.9,468.7 L351.6,468.1 L350.4,467.3 L349.3,466.4 L348.3,465.4 L347.6,464.1 L347.2,462.8 L346.7,461.4 L346.4,460.0 L346.4,458.5 L346.7,457.1 L347.5,455.8 L348.4,454.7 L349.2,453.5 L350.2,452.4 L351.5,451.8 L352.9,451.4 L354.3,450.9 L355.7,450.6 L357.2,450.8 L358.6,451.2 L359.9,451.8 L361.1,452.6 L362.1,453.6 L362.9,454.7 L363.7,455.9 L364.3,457.2 L364.8,458.6 L365.2,460.0 Z" fill="none" stroke="#757575" stroke-width="1.20" opacity="0.95"/>
<path d="M351.2,467.9 L350.0,467.0 L348.8,466.0 L348.0,464.8 L347.4,463.4 L346.9,462.0 L346.5,460.6 L346.4,459.1 L346.6,457.6 L347.2,456.1 L348.2,455.0 L349.0,453.8 L350.0,452.6 L351.4,451.9 L352.8,451.4 L354.2,450.9 L355.7,450.6" fill="none" stroke="#555555" stroke-width="1.25" opacity="0.85"/>
</g></defs>
<use href="#k41" filter="url(#b8)" opacity="0.9"/><use href="#k41" opacity="0.55"/>
<defs><g id="k42">
<circle cx="396.7" cy="460.0" r="9.1" fill="#48183a" opacity="0.59"/>
<circle cx="395.9" cy="461.1" r="1.0" fill="#a82a74" opacity="0.19"/>
<circle cx="396.4" cy="454.3" r="0.8" fill="#a82a74" opacity="0.19"/>
<circle cx="391.2" cy="462.0" r="0.9" fill="#a82a74" opacity="0.19"/>
<circle cx="396.6" cy="459.7" r="1.0" fill="#a82a74" opacity="0.19"/>
<circle cx="396.2" cy="459.7" r="0.8" fill="#a82a74" opacity="0.19"/>
<circle cx="397.5" cy="459.8" r="0.7" fill="#a82a74" opacity="0.19"/>
<circle cx="394.7" cy="460.8" r="0.7" fill="#a82a74" opacity="0.19"/>
<circle cx="397.6" cy="455.8" r="0.9" fill="#a82a74" opacity="0.19"/>
<path d="M405.2,460.0 L405.2,461.3 L405.0,462.7 L404.6,464.0 L403.9,465.2 L403.0,466.3 L401.9,467.2 L400.7,467.9 L399.4,468.2 L398.0,468.5 L396.7,468.5 L395.4,468.4 L394.0,468.2 L392.7,467.8 L391.5,467.2 L390.4,466.3 L389.5,465.3 L388.6,464.1 L388.0,462.8 L387.6,461.4 L387.4,460.0 L387.6,458.6 L388.1,457.2 L388.8,455.9 L389.6,454.8 L390.5,453.8 L391.5,452.9 L392.6,452.1 L393.9,451.4 L395.3,450.9 L396.7,450.7 L398.1,450.9 L399.5,451.3 L400.8,451.9 L402.0,452.7 L403.1,453.6 L404.0,454.7 L404.6,456.0 L405.0,457.3 L405.2,458.7 L405.2,460.0 Z" fill="none" stroke="#cf3690" stroke-width="2.40" opacity="0.11"/>
<path d="M405.2,460.0 L405.2,461.3 L405.0,462.7 L404.6,464.0 L403.9,465.2 L403.0,466.3 L401.9,467.2 L400.7,467.9 L399.4,468.2 L398.0,468.5 L396.7,468.5 L395.4,468.4 L394.0,468.2 L392.7,467.8 L391.5,467.2 L390.4,466.3 L389.5,465.3 L388.6,464.1 L388.0,462.8 L387.6,461.4 L387.4,460.0 L387.6,458.6 L388.1,457.2 L388.8,455.9 L389.6,454.8 L390.5,453.8 L391.5,452.9 L392.6,452.1 L393.9,451.4 L395.3,450.9 L396.7,450.7 L398.1,450.9 L399.5,451.3 L400.8,451.9 L402.0,452.7 L403.1,453.6 L404.0,454.7 L404.6,456.0 L405.0,457.3 L405.2,458.7 L405.2,460.0 Z" fill="none" stroke="#cf3690" stroke-width="1.35" opacity="0.37"/>
<path d="M390.0,454.4 L391.0,453.4 L392.0,452.5 L393.2,451.7 L394.5,451.1 L396.0,450.8 L397.4,450.8 L398.9,451.0 L400.2,451.6 L401.5,452.3 L402.6,453.2 L403.6,454.2" fill="none" stroke="#f046a6" stroke-width="1.50" opacity="0.52" stroke-linecap="round"/>
<path d="M398.2,468.4 L397.4,468.5 L396.5,468.5 L395.7,468.5 L394.8,468.4 L394.0,468.2 L393.2,468.0 L392.4,467.7 L391.6,467.3" fill="none" stroke="#f046a6" stroke-width="2.00" opacity="1.00" stroke-linecap="round"/>
<path d="M391.0,466.8 L390.0,465.9 L389.1,464.8 L388.3,463.6 L387.8,462.2 L387.5,460.8 L387.5,459.4 L387.8,457.9 L388.3,456.6 L389.1,455.4 L390.0,454.4" fill="none" stroke="#f046a6" stroke-width="1.30" opacity="0.45" stroke-linecap="round"/>
<circle cx="403.5" cy="454.1" r="1.6" fill="#f548ac" opacity="1.0"/>
</g></defs>
<use href="#k42" filter="url(#b8)" opacity="0.6"/><use href="#k42" opacity="0.7"/>
<defs><g id="k43">
<path d="M447.3,459.4 L447.2,460.8 L446.8,462.2 L446.2,463.5 L445.5,464.7 L444.6,465.8 L443.6,466.8 L442.4,467.7 L441.1,468.4 L439.7,468.8 L438.2,468.9 L436.7,468.6 L435.3,468.2 L434.0,467.6 L432.8,466.8 L431.7,465.9 L430.8,464.8 L430.0,463.6 L429.4,462.3 L429.1,460.8 L429.0,459.4 L429.1,458.0 L429.4,456.5 L430.0,455.2 L430.8,454.0 L431.8,453.0 L432.9,452.1 L434.1,451.3 L435.4,450.7 L436.8,450.3 L438.2,450.1 L439.7,450.2 L441.1,450.5 L442.5,451.0 L443.8,451.7 L445.0,452.6 L445.9,453.8 L446.6,455.1 L447.1,456.5 L447.3,458.0 L447.3,459.4 Z" fill="none" stroke="#5aa69c" stroke-width="1.3" opacity="0.24"/>
<path d="M447.3,459.4 L447.2,460.9 L446.8,462.3 L446.2,463.6 L445.4,464.9 L444.4,466.0 L443.3,467.0 L442.1,467.9 L440.7,468.6 L439.2,468.9 L437.7,468.8 L436.2,468.5 L434.8,467.9 L433.4,467.2 L432.2,466.3 L431.2,465.3" fill="none" stroke="#6cc4be" stroke-width="1.60" opacity="0.51" stroke-linecap="round"/>
<path d="M429.1,457.8 L429.5,456.3 L430.1,455.0 L431.0,453.7 L432.1,452.7 L433.3,451.8 L434.5,451.1 L435.9,450.5 L437.4,450.2 L438.9,450.1 L440.4,450.3 L441.9,450.8 L443.3,451.4 L444.6,452.3 L445.7,453.4 L446.5,454.7 L447.0,456.2" fill="none" stroke="#6cc4be" stroke-width="1.30" opacity="0.38" stroke-linecap="round"/>
<ellipse cx="435.0" cy="456.0" rx="1.54" ry="1.43" fill="#8adcee" opacity="1.0"/>
<ellipse cx="440.9" cy="459.3" rx="1.21" ry="1.87" fill="#8adcee" opacity="1.0" transform="rotate(-15 440.9 459.3)"/>
<ellipse cx="437.0" cy="463.9" rx="1.43" ry="1.54" fill="#8adcee" opacity="1.0"/>
<ellipse cx="437.7" cy="459.6" rx="0.99" ry="0.99" fill="#7fd4e4" opacity="0.4"/>
</g></defs>
<use href="#k43" filter="url(#b8)" opacity="0.65"/><use href="#k43" opacity="0.7"/>
<defs><g id="k44">
<circle cx="478.7" cy="460.0" r="9.1" fill="#48183a" opacity="0.45"/>
<circle cx="477.9" cy="461.1" r="1.0" fill="#a82a74" opacity="0.24"/>
<circle cx="478.4" cy="454.3" r="0.8" fill="#a82a74" opacity="0.24"/>
<circle cx="473.2" cy="462.0" r="0.9" fill="#a82a74" opacity="0.24"/>
<circle cx="478.6" cy="459.7" r="1.0" fill="#a82a74" opacity="0.24"/>
<circle cx="478.2" cy="459.7" r="0.8" fill="#a82a74" opacity="0.24"/>
<circle cx="479.5" cy="459.8" r="0.7" fill="#a82a74" opacity="0.24"/>
<circle cx="476.7" cy="460.8" r="0.7" fill="#a82a74" opacity="0.24"/>
<circle cx="479.6" cy="455.8" r="0.9" fill="#a82a74" opacity="0.24"/>
<path d="M487.1,460.0 L487.1,461.3 L486.8,462.6 L486.5,464.0 L485.8,465.2 L485.0,466.3 L483.9,467.1 L482.6,467.7 L481.3,468.1 L480.0,468.3 L478.7,468.4 L477.4,468.3 L476.1,468.1 L474.8,467.7 L473.6,467.1 L472.5,466.2 L471.6,465.2 L470.8,464.0 L470.1,462.8 L469.7,461.4 L469.5,460.0 L469.7,458.6 L470.2,457.2 L470.9,456.0 L471.7,454.9 L472.6,453.9 L473.6,453.0 L474.7,452.2 L475.9,451.5 L477.3,451.0 L478.7,450.8 L480.1,451.0 L481.5,451.4 L482.8,452.0 L483.9,452.8 L485.0,453.7 L485.9,454.8 L486.5,456.0 L486.9,457.3 L487.1,458.7 L487.1,460.0 Z" fill="none" stroke="#d6237c" stroke-width="2.69" opacity="0.15"/>
<path d="M487.1,460.0 L487.1,461.3 L486.8,462.6 L486.5,464.0 L485.8,465.2 L485.0,466.3 L483.9,467.1 L482.6,467.7 L481.3,468.1 L480.0,468.3 L478.7,468.4 L477.4,468.3 L476.1,468.1 L474.8,467.7 L473.6,467.1 L472.5,466.2 L471.6,465.2 L470.8,464.0 L470.1,462.8 L469.7,461.4 L469.5,460.0 L469.7,458.6 L470.2,457.2 L470.9,456.0 L471.7,454.9 L472.6,453.9 L473.6,453.0 L474.7,452.2 L475.9,451.5 L477.3,451.0 L478.7,450.8 L480.1,451.0 L481.5,451.4 L482.8,452.0 L483.9,452.8 L485.0,453.7 L485.9,454.8 L486.5,456.0 L486.9,457.3 L487.1,458.7 L487.1,460.0 Z" fill="none" stroke="#d6237c" stroke-width="1.51" opacity="0.48"/>
<path d="M472.1,454.5 L473.1,453.5 L474.1,452.6 L475.3,451.8 L476.6,451.2 L478.0,450.9 L479.4,450.9 L480.8,451.2 L482.2,451.7 L483.4,452.4 L484.5,453.3 L485.5,454.3" fill="none" stroke="#f0308e" stroke-width="1.50" opacity="0.52" stroke-linecap="round"/>
<path d="M480.2,468.3 L479.3,468.4 L478.5,468.4 L477.7,468.4 L476.9,468.3 L476.0,468.1 L475.2,467.9 L474.4,467.6 L473.7,467.2" fill="none" stroke="#f0308e" stroke-width="2.00" opacity="1.00" stroke-linecap="round"/>
<path d="M473.1,466.7 L472.1,465.8 L471.2,464.7 L470.4,463.5 L469.9,462.2 L469.6,460.8 L469.6,459.4 L469.9,458.0 L470.5,456.7 L471.2,455.5 L472.1,454.5" fill="none" stroke="#f0308e" stroke-width="1.30" opacity="0.45" stroke-linecap="round"/>
<circle cx="485.5" cy="454.1" r="1.6" fill="#f548ac" opacity="1.0"/>
</g></defs>
<use href="#k44" filter="url(#b8)" opacity="0.6"/><use href="#k44" opacity="0.7"/>
<defs><g id="k45">
<path d="M488.3,459.4 L488.2,460.8 L487.8,462.2 L487.2,463.5 L486.5,464.7 L485.6,465.8 L484.6,466.8 L483.4,467.7 L482.1,468.4 L480.7,468.8 L479.2,468.9 L477.7,468.6 L476.3,468.2 L475.0,467.6 L473.8,466.8 L472.7,465.9 L471.8,464.8 L471.0,463.6 L470.4,462.3 L470.1,460.8 L470.0,459.4 L470.1,458.0 L470.4,456.5 L471.0,455.2 L471.8,454.0 L472.8,453.0 L473.9,452.1 L475.1,451.3 L476.4,450.7 L477.8,450.3 L479.2,450.1 L480.7,450.2 L482.1,450.5 L483.5,451.0 L484.8,451.7 L486.0,452.6 L486.9,453.8 L487.6,455.1 L488.1,456.5 L488.3,458.0 L488.3,459.4 Z" fill="none" stroke="#5aa69c" stroke-width="1.3" opacity="0.14"/>
<path d="M488.3,459.4 L488.2,460.9 L487.8,462.3 L487.2,463.6 L486.4,464.9 L485.4,466.0 L484.3,467.0 L483.1,467.9 L481.7,468.6 L480.2,468.9 L478.7,468.8 L477.2,468.5 L475.8,467.9 L474.4,467.2 L473.2,466.3 L472.2,465.3" fill="none" stroke="#6cc4be" stroke-width="1.60" opacity="0.41" stroke-linecap="round"/>
<path d="M470.1,457.8 L470.5,456.3 L471.1,455.0 L472.0,453.7 L473.1,452.7 L474.3,451.8 L475.5,451.1 L476.9,450.5 L478.4,450.2 L479.9,450.1 L481.4,450.3 L482.9,450.8 L484.3,451.4 L485.6,452.3 L486.7,453.4 L487.5,454.7 L488.0,456.2" fill="none" stroke="#6cc4be" stroke-width="1.30" opacity="0.31" stroke-linecap="round"/>
<ellipse cx="476.0" cy="456.0" rx="1.54" ry="1.43" fill="#b4eaf6" opacity="1.0"/>
<ellipse cx="481.9" cy="459.3" rx="1.21" ry="1.87" fill="#b4eaf6" opacity="1.0" transform="rotate(-15 481.9 459.3)"/>
<ellipse cx="478.0" cy="463.9" rx="1.43" ry="1.54" fill="#b4eaf6" opacity="1.0"/>
<ellipse cx="478.7" cy="459.6" rx="0.99" ry="0.99" fill="#7fd4e4" opacity="0.4"/>
</g></defs>
<use href="#k45" filter="url(#b8)" opacity="0.65"/><use href="#k45" opacity="0.7"/>
<defs><g id="k46">
<circle cx="357.4" cy="515.0" r="9.3" fill="none" stroke="#d4d4d4" stroke-width="1.4" opacity="0.75"/>
<path d="M360.5,506.4 L362.0,506.9 L363.3,507.7 L364.2,508.9 L365.1,510.1 L365.8,511.4 L366.3,512.8 L366.6,514.3 L366.7,515.8 L366.5,517.3 L365.9,518.8 L365.2,520.1 L364.3,521.3 L363.2,522.4 L361.9,523.2 L360.4,523.6 L359.0,524.1" fill="none" stroke="#efefef" stroke-width="1.6" opacity="0.95"/>
<circle cx="357.4" cy="515.0" r="7.5" fill="#c7c7c7" opacity="0.9"/>
<ellipse cx="352.6" cy="515.2" rx="1.0" ry="1.2" fill="#fff" opacity="0.70" transform="rotate(7 352.6 515.2)"/>
<ellipse cx="353.6" cy="515.3" rx="1.1" ry="1.3" fill="#9a9a9a" opacity="0.70" transform="rotate(85 353.6 515.3)"/>
<ellipse cx="353.3" cy="510.5" rx="1.3" ry="0.8" fill="#929292" opacity="0.70" transform="rotate(110 353.3 510.5)"/>
<ellipse cx="358.2" cy="512.9" rx="1.0" ry="0.8" fill="#9a9a9a" opacity="0.70" transform="rotate(87 358.2 512.9)"/>
<ellipse cx="354.0" cy="516.3" rx="1.4" ry="1.0" fill="#fff" opacity="0.70" transform="rotate(45 354.0 516.3)"/>
<ellipse cx="358.4" cy="510.1" rx="1.1" ry="0.7" fill="#9a9a9a" opacity="0.70" transform="rotate(14 358.4 510.1)"/>
<ellipse cx="353.1" cy="513.9" rx="0.8" ry="0.8" fill="#9a9a9a" opacity="0.70" transform="rotate(1 353.1 513.9)"/>
<ellipse cx="355.5" cy="516.0" rx="1.3" ry="0.9" fill="#fff" opacity="0.70" transform="rotate(29 355.5 516.0)"/>
<ellipse cx="353.8" cy="511.5" rx="1.4" ry="0.8" fill="#888" opacity="0.70" transform="rotate(101 353.8 511.5)"/>
<ellipse cx="358.0" cy="516.6" rx="0.8" ry="1.1" fill="#e4e4e4" opacity="0.70" transform="rotate(166 358.0 516.6)"/>
<ellipse cx="351.1" cy="515.4" rx="1.6" ry="0.9" fill="#888" opacity="0.70" transform="rotate(52 351.1 515.4)"/>
<ellipse cx="356.4" cy="509.3" rx="1.5" ry="1.3" fill="#eee" opacity="0.70" transform="rotate(128 356.4 509.3)"/>
<ellipse cx="353.2" cy="515.9" rx="1.3" ry="1.2" fill="#929292" opacity="0.70" transform="rotate(45 353.2 515.9)"/>
<ellipse cx="358.1" cy="515.7" rx="0.9" ry="0.7" fill="#9a9a9a" opacity="0.70" transform="rotate(145 358.1 515.7)"/>
<ellipse cx="353.9" cy="516.0" rx="0.9" ry="0.8" fill="#929292" opacity="0.70" transform="rotate(27 353.9 516.0)"/>
<ellipse cx="359.5" cy="518.8" rx="1.5" ry="1.3" fill="#fff" opacity="0.70" transform="rotate(151 359.5 518.8)"/>
<ellipse cx="356.4" cy="520.8" rx="0.8" ry="0.7" fill="#eee" opacity="0.70" transform="rotate(43 356.4 520.8)"/>
<ellipse cx="355.6" cy="515.0" rx="1.1" ry="0.9" fill="#858585" opacity="0.70" transform="rotate(164 355.6 515.0)"/>
<ellipse cx="361.8" cy="512.9" rx="1.4" ry="1.2" fill="#929292" opacity="0.70" transform="rotate(132 361.8 512.9)"/>
<ellipse cx="354.4" cy="510.3" rx="0.9" ry="0.7" fill="#e4e4e4" opacity="0.70" transform="rotate(164 354.4 510.3)"/>
<path d="M352.1,518.1 L351.7,517.2 L351.4,516.2 L351.3,515.2 L351.3,514.2 L351.4,513.2 L351.7,512.2 L352.2,511.3 L352.9,510.6 L353.7,509.9 L354.6,509.4 L355.5,509.0 L356.5,508.9 L357.5,508.9 L358.5,508.9 L359.5,509.2" fill="none" stroke="#f4f4f4" stroke-width="1.0" opacity="0.55"/>
<path d="M365.2,515.0 L365.1,516.2 L364.8,517.4 L364.4,518.6 L363.8,519.7 L362.9,520.5 L361.9,521.2 L360.9,521.9 L359.8,522.3 L358.6,522.7 L357.4,522.9 L356.2,522.7 L355.0,522.4 L353.9,521.9 L352.9,521.3 L351.9,520.5 L351.1,519.6 L350.5,518.5 L350.1,517.4 L349.8,516.2 L349.8,515.0 L349.7,513.8 L349.9,512.6 L350.3,511.4 L350.9,510.3 L351.8,509.4 L352.8,508.6 L353.8,508.0 L355.0,507.5 L356.2,507.3 L357.4,507.3 L358.6,507.3 L359.8,507.6 L360.9,508.1 L361.9,508.8 L362.9,509.5 L363.8,510.4 L364.4,511.5 L364.7,512.6 L365.1,513.8 L365.2,515.0 Z" fill="none" stroke="#757575" stroke-width="1.20" opacity="0.95"/>
<path d="M361.2,508.4 L362.3,509.1 L363.3,509.8 L364.1,510.8 L364.5,512.0 L364.9,513.2 L365.2,514.5 L365.2,515.8 L365.0,517.0 L364.6,518.2 L364.0,519.4 L363.1,520.4 L362.1,521.1 L361.0,521.8 L359.9,522.3 L358.7,522.7 L357.4,522.9" fill="none" stroke="#555555" stroke-width="1.25" opacity="0.85"/>
</g></defs>
<use href="#k46" filter="url(#b8)" opacity="0.9"/><use href="#k46" opacity="0.55"/>
<defs><g id="k47">
<circle cx="398.6" cy="515.6" r="8.7" fill="#48183a" opacity="0.61"/>
<circle cx="396.9" cy="517.9" r="0.9" fill="#a82a74" opacity="0.20"/>
<circle cx="398.5" cy="515.5" r="0.9" fill="#a82a74" opacity="0.20"/>
<circle cx="398.7" cy="519.9" r="1.1" fill="#a82a74" opacity="0.20"/>
<circle cx="398.6" cy="514.6" r="0.8" fill="#a82a74" opacity="0.20"/>
<circle cx="399.0" cy="517.5" r="0.7" fill="#a82a74" opacity="0.20"/>
<circle cx="401.2" cy="512.2" r="0.9" fill="#a82a74" opacity="0.20"/>
<circle cx="393.4" cy="517.4" r="1.1" fill="#a82a74" opacity="0.20"/>
<circle cx="397.1" cy="512.9" r="0.8" fill="#a82a74" opacity="0.20"/>
<path d="M407.4,515.6 L407.3,517.0 L406.8,518.3 L406.1,519.4 L405.3,520.5 L404.4,521.4 L403.5,522.3 L402.4,523.1 L401.3,523.8 L400.0,524.3 L398.6,524.5 L397.2,524.3 L395.9,523.8 L394.7,523.2 L393.7,522.4 L392.7,521.5 L391.9,520.5 L391.2,519.4 L390.6,518.2 L390.2,516.9 L390.1,515.6 L390.2,514.3 L390.4,512.9 L390.9,511.7 L391.5,510.4 L392.4,509.4 L393.4,508.5 L394.7,507.9 L396.0,507.5 L397.3,507.3 L398.6,507.2 L399.9,507.3 L401.2,507.6 L402.4,508.1 L403.6,508.7 L404.6,509.6 L405.5,510.6 L406.3,511.7 L406.9,512.9 L407.3,514.2 L407.4,515.6 Z" fill="none" stroke="#cf3690" stroke-width="2.40" opacity="0.12"/>
<path d="M407.4,515.6 L407.3,517.0 L406.8,518.3 L406.1,519.4 L405.3,520.5 L404.4,521.4 L403.5,522.3 L402.4,523.1 L401.3,523.8 L400.0,524.3 L398.6,524.5 L397.2,524.3 L395.9,523.8 L394.7,523.2 L393.7,522.4 L392.7,521.5 L391.9,520.5 L391.2,519.4 L390.6,518.2 L390.2,516.9 L390.1,515.6 L390.2,514.3 L390.4,512.9 L390.9,511.7 L391.5,510.4 L392.4,509.4 L393.4,508.5 L394.7,507.9 L396.0,507.5 L397.3,507.3 L398.6,507.2 L399.9,507.3 L401.2,507.6 L402.4,508.1 L403.6,508.7 L404.6,509.6 L405.5,510.6 L406.3,511.7 L406.9,512.9 L407.3,514.2 L407.4,515.6 Z" fill="none" stroke="#cf3690" stroke-width="1.35" opacity="0.40"/>
<path d="M405.9,519.8 L405.0,520.8 L404.1,521.7 L403.1,522.6 L402.1,523.4 L400.9,524.0 L399.5,524.4 L398.1,524.4 L396.8,524.2 L395.5,523.6 L394.4,522.9" fill="none" stroke="#f046a6" stroke-width="1.70" opacity="0.68" stroke-linecap="round"/>
<path d="M391.4,519.8 L390.8,518.6 L390.3,517.3 L390.1,516.0 L390.2,514.7 L390.3,513.3 L390.7,512.0 L391.3,510.8 L392.1,509.6 L393.2,508.7 L394.4,508.0 L395.7,507.6" fill="none" stroke="#f046a6" stroke-width="1.30" opacity="0.38" stroke-linecap="round"/>
<path d="M395.7,507.6 L397.1,507.3 L398.6,507.2 L400.1,507.3 L401.5,507.7 L402.8,508.3 L404.1,509.1 L405.1,510.1 L406.0,511.3" fill="none" stroke="#f046a6" stroke-width="1.20" opacity="0.38" stroke-linecap="round"/>
</g></defs>
<use href="#k47" filter="url(#b8)" opacity="0.6"/><use href="#k47" opacity="0.7"/>
<defs><g id="k48">
<path d="M431.0,514.3 L431.4,512.9 L431.9,511.5 L432.4,510.2 L433.1,508.9 L433.9,507.6 L435.0,506.6 L436.3,505.8 L437.7,505.3 L439.2,505.1 L440.7,505.0 L442.2,505.2 L443.6,505.6 L445.0,506.2" fill="none" stroke="#6cc4be" stroke-width="1.40" opacity="0.14" stroke-linecap="round"/>
<path d="M449.6,515.9 L449.1,517.3 L448.4,518.6 L447.5,519.7 L446.6,520.8 L445.5,521.7 L444.3,522.5 L443.0,523.1 L441.6,523.4 L440.1,523.4 L438.7,523.2" fill="none" stroke="#6cc4be" stroke-width="1.50" opacity="0.22" stroke-linecap="round"/>
</g></defs>
<use href="#k48" filter="url(#b8)" opacity="0.65"/><use href="#k48" opacity="0.7"/>
<defs><g id="k49">
<circle cx="480.6" cy="515.6" r="8.7" fill="#48183a" opacity="0.41"/>
<circle cx="478.9" cy="517.9" r="0.9" fill="#a82a74" opacity="0.20"/>
<circle cx="480.5" cy="515.5" r="0.9" fill="#a82a74" opacity="0.20"/>
<circle cx="480.7" cy="519.9" r="1.1" fill="#a82a74" opacity="0.20"/>
<circle cx="480.6" cy="514.6" r="0.8" fill="#a82a74" opacity="0.20"/>
<circle cx="481.0" cy="517.5" r="0.7" fill="#a82a74" opacity="0.20"/>
<circle cx="483.2" cy="512.2" r="0.9" fill="#a82a74" opacity="0.20"/>
<circle cx="475.4" cy="517.4" r="1.1" fill="#a82a74" opacity="0.20"/>
<circle cx="479.1" cy="512.9" r="0.8" fill="#a82a74" opacity="0.20"/>
<path d="M489.3,515.6 L489.1,517.0 L488.7,518.2 L488.0,519.4 L487.2,520.4 L486.4,521.4 L485.4,522.2 L484.4,523.0 L483.2,523.7 L482.0,524.2 L480.6,524.3 L479.2,524.2 L478.0,523.7 L476.8,523.1 L475.8,522.3 L474.8,521.4 L474.0,520.4 L473.3,519.3 L472.7,518.2 L472.4,516.9 L472.2,515.6 L472.3,514.3 L472.5,513.0 L473.0,511.7 L473.6,510.5 L474.5,509.5 L475.5,508.6 L476.7,508.0 L478.0,507.6 L479.3,507.4 L480.6,507.3 L481.9,507.4 L483.2,507.7 L484.4,508.2 L485.5,508.8 L486.5,509.7 L487.4,510.7 L488.2,511.7 L488.8,512.9 L489.2,514.2 L489.3,515.6 Z" fill="none" stroke="#d6237c" stroke-width="2.69" opacity="0.12"/>
<path d="M489.3,515.6 L489.1,517.0 L488.7,518.2 L488.0,519.4 L487.2,520.4 L486.4,521.4 L485.4,522.2 L484.4,523.0 L483.2,523.7 L482.0,524.2 L480.6,524.3 L479.2,524.2 L478.0,523.7 L476.8,523.1 L475.8,522.3 L474.8,521.4 L474.0,520.4 L473.3,519.3 L472.7,518.2 L472.4,516.9 L472.2,515.6 L472.3,514.3 L472.5,513.0 L473.0,511.7 L473.6,510.5 L474.5,509.5 L475.5,508.6 L476.7,508.0 L478.0,507.6 L479.3,507.4 L480.6,507.3 L481.9,507.4 L483.2,507.7 L484.4,508.2 L485.5,508.8 L486.5,509.7 L487.4,510.7 L488.2,511.7 L488.8,512.9 L489.2,514.2 L489.3,515.6 Z" fill="none" stroke="#d6237c" stroke-width="1.51" opacity="0.40"/>
<path d="M487.8,519.7 L486.9,520.7 L486.0,521.6 L485.1,522.5 L484.0,523.3 L482.8,523.9 L481.5,524.3 L480.1,524.3 L478.8,524.1 L477.6,523.5 L476.4,522.8" fill="none" stroke="#f0308e" stroke-width="1.70" opacity="0.68" stroke-linecap="round"/>
<path d="M473.5,519.7 L472.9,518.6 L472.5,517.3 L472.3,516.0 L472.3,514.7 L472.5,513.4 L472.8,512.1 L473.4,510.8 L474.2,509.7 L475.2,508.8 L476.4,508.1 L477.7,507.7" fill="none" stroke="#f0308e" stroke-width="1.30" opacity="0.38" stroke-linecap="round"/>
<path d="M477.7,507.7 L479.2,507.4 L480.6,507.3 L482.0,507.4 L483.4,507.8 L484.8,508.4 L486.0,509.2 L487.0,510.2 L487.9,511.4" fill="none" stroke="#f0308e" stroke-width="1.20" opacity="0.38" stroke-linecap="round"/>
</g></defs>
<use href="#k49" filter="url(#b8)" opacity="0.6"/><use href="#k49" opacity="0.7"/>
<defs><g id="k50">
<path d="M472.0,514.3 L472.4,512.9 L472.9,511.5 L473.4,510.2 L474.1,508.9 L474.9,507.6 L476.0,506.6 L477.3,505.8 L478.7,505.3 L480.2,505.1 L481.7,505.0 L483.2,505.2 L484.6,505.6 L486.0,506.2" fill="none" stroke="#6cc4be" stroke-width="1.40" opacity="0.12" stroke-linecap="round"/>
<path d="M490.6,515.9 L490.1,517.3 L489.4,518.6 L488.5,519.7 L487.6,520.8 L486.5,521.7 L485.3,522.5 L484.0,523.1 L482.6,523.4 L481.1,523.4 L479.7,523.2" fill="none" stroke="#6cc4be" stroke-width="1.50" opacity="0.18" stroke-linecap="round"/>
</g></defs>
<use href="#k50" filter="url(#b8)" opacity="0.65"/><use href="#k50" opacity="0.7"/>
<rect x="86.20" y="384.7" width="1.6" height="1.6" fill="#fff" opacity="0.92"/>
<rect x="89.27" y="384.7" width="1.6" height="1.6" fill="#fff" opacity="0.92"/>
<rect x="92.34" y="384.7" width="1.6" height="1.6" fill="#fff" opacity="0.92"/>
<rect x="95.41" y="384.7" width="1.6" height="1.6" fill="#fff" opacity="0.92"/>
<rect x="98.48" y="384.7" width="1.6" height="1.6" fill="#fff" opacity="0.92"/>
<text x="101.60000000000001" y="387.3" font-size="7.2" text-anchor="start" fill="#f6f6f6" textLength="15.9" lengthAdjust="spacingAndGlyphs" style="stroke:#f6f6f6;stroke-width:0.15px">7 µm</text>
<rect x="86.20" y="472.7" width="1.6" height="1.6" fill="#fff" opacity="0.92"/>
<rect x="89.27" y="472.7" width="1.6" height="1.6" fill="#fff" opacity="0.92"/>
<rect x="92.34" y="472.7" width="1.6" height="1.6" fill="#fff" opacity="0.92"/>
<rect x="95.41" y="472.7" width="1.6" height="1.6" fill="#fff" opacity="0.92"/>
<rect x="98.48" y="472.7" width="1.6" height="1.6" fill="#fff" opacity="0.92"/>
<text x="101.60000000000001" y="475.3" font-size="7.2" text-anchor="start" fill="#f6f6f6" textLength="15.9" lengthAdjust="spacingAndGlyphs" style="stroke:#f6f6f6;stroke-width:0.15px">7 µm</text>
<rect x="341.60" y="385.6" width="1.6" height="1.6" fill="#fff" opacity="0.92"/>
<rect x="344.67" y="385.6" width="1.6" height="1.6" fill="#fff" opacity="0.92"/>
<rect x="347.74" y="385.6" width="1.6" height="1.6" fill="#fff" opacity="0.92"/>
<rect x="350.81" y="385.6" width="1.6" height="1.6" fill="#fff" opacity="0.92"/>
<rect x="353.88" y="385.6" width="1.6" height="1.6" fill="#fff" opacity="0.92"/>
<text x="357.0" y="388.2" font-size="7.2" text-anchor="start" fill="#f6f6f6" textLength="15.9" lengthAdjust="spacingAndGlyphs" style="stroke:#f6f6f6;stroke-width:0.15px">7 µm</text>
<rect x="341.60" y="473.5" width="1.6" height="1.6" fill="#fff" opacity="0.92"/>
<rect x="344.67" y="473.5" width="1.6" height="1.6" fill="#fff" opacity="0.92"/>
<rect x="347.74" y="473.5" width="1.6" height="1.6" fill="#fff" opacity="0.92"/>
<rect x="350.81" y="473.5" width="1.6" height="1.6" fill="#fff" opacity="0.92"/>
<rect x="353.88" y="473.5" width="1.6" height="1.6" fill="#fff" opacity="0.92"/>
<text x="357.0" y="476.1" font-size="7.2" text-anchor="start" fill="#f6f6f6" textLength="15.9" lengthAdjust="spacingAndGlyphs" style="stroke:#f6f6f6;stroke-width:0.15px">7 µm</text>
<rect x="341.60" y="525.7" width="1.6" height="1.6" fill="#fff" opacity="0.92"/>
<rect x="344.67" y="525.7" width="1.6" height="1.6" fill="#fff" opacity="0.92"/>
<rect x="347.74" y="525.7" width="1.6" height="1.6" fill="#fff" opacity="0.92"/>
<rect x="350.81" y="525.7" width="1.6" height="1.6" fill="#fff" opacity="0.92"/>
<rect x="353.88" y="525.7" width="1.6" height="1.6" fill="#fff" opacity="0.92"/>
<text x="357.0" y="528.3" font-size="7.2" text-anchor="start" fill="#f6f6f6" textLength="15.9" lengthAdjust="spacingAndGlyphs" style="stroke:#f6f6f6;stroke-width:0.15px">7 µm</text>
<rect x="76.5" y="486.7" width="432" height="51.4" fill="none" stroke="#111" stroke-width="1.2" stroke-dasharray="3.6 1.9"/>
<text x="118.5" y="576" font-size="16.6" text-anchor="start" fill="#1a1a1a" textLength="9.6" lengthAdjust="spacingAndGlyphs" >C</text>
<line x1="172.35" y1="586" x2="172.35" y2="744.75" stroke="#111" stroke-width="1.7" />
<line x1="171.54999999999998" y1="743.95" x2="402" y2="743.95" stroke="#111" stroke-width="1.6" />
<line x1="167.35" y1="743.95" x2="172.35" y2="743.95" stroke="#111" stroke-width="1.3" />
<text x="163.3" y="747.25" font-size="10.5" text-anchor="end" fill="#1a1a1a" >0</text>
<line x1="169.54999999999998" y1="724.72" x2="172.35" y2="724.72" stroke="#111" stroke-width="1.1" />
<line x1="167.35" y1="705.49" x2="172.35" y2="705.49" stroke="#111" stroke-width="1.3" />
<text x="163.3" y="708.79" font-size="10.5" text-anchor="end" fill="#1a1a1a" >1</text>
<line x1="169.54999999999998" y1="686.26" x2="172.35" y2="686.26" stroke="#111" stroke-width="1.1" />
<line x1="167.35" y1="667.0300000000001" x2="172.35" y2="667.0300000000001" stroke="#111" stroke-width="1.3" />
<text x="163.3" y="670.33" font-size="10.5" text-anchor="end" fill="#1a1a1a" >2</text>
<line x1="169.54999999999998" y1="647.8000000000001" x2="172.35" y2="647.8000000000001" stroke="#111" stroke-width="1.1" />
<line x1="167.35" y1="628.57" x2="172.35" y2="628.57" stroke="#111" stroke-width="1.3" />
<text x="163.3" y="631.87" font-size="10.5" text-anchor="end" fill="#1a1a1a" >3</text>
<line x1="169.54999999999998" y1="609.34" x2="172.35" y2="609.34" stroke="#111" stroke-width="1.1" />
<line x1="167.35" y1="590.11" x2="172.35" y2="590.11" stroke="#111" stroke-width="1.3" />
<text x="163.3" y="593.41" font-size="10.5" text-anchor="end" fill="#1a1a1a" >4</text>
<rect x="182.0" y="640.3" width="18.0" height="103.65000000000009" fill="#1b1b1b" />
<rect x="201.4" y="666.6" width="18.0" height="77.35000000000002" fill="#cd9f67" />
<line x1="190.5" y1="640.3" x2="190.5" y2="637.4" stroke="#111" stroke-width="1.1" />
<line x1="186.2" y1="637.4" x2="194.8" y2="637.4" stroke="#111" stroke-width="1.3" />
<line x1="210.5" y1="666.6" x2="210.5" y2="655.7" stroke="#111" stroke-width="1.1" />
<line x1="206.2" y1="655.7" x2="214.8" y2="655.7" stroke="#111" stroke-width="1.3" />
<line x1="200.0" y1="743.95" x2="200.0" y2="747.75" stroke="#111" stroke-width="1.2" />
<text x="200.0" y="762.5" font-size="10" text-anchor="middle" fill="#1a1a1a" >15</text>
<rect x="240.2" y="598.0" width="17.600000000000023" height="145.95000000000005" fill="#1b1b1b" />
<rect x="259.6" y="621.0" width="18.19999999999999" height="122.95000000000005" fill="#cd9f67" />
<line x1="248.5" y1="598.0" x2="248.5" y2="593.1" stroke="#111" stroke-width="1.1" />
<line x1="244.2" y1="593.1" x2="252.8" y2="593.1" stroke="#111" stroke-width="1.3" />
<line x1="268.5" y1="621.0" x2="268.5" y2="618.3" stroke="#111" stroke-width="1.1" />
<line x1="264.2" y1="618.3" x2="272.8" y2="618.3" stroke="#111" stroke-width="1.3" />
<line x1="258.2" y1="743.95" x2="258.2" y2="747.75" stroke="#111" stroke-width="1.2" />
<text x="258.2" y="762.5" font-size="10" text-anchor="middle" fill="#1a1a1a" >30</text>
<rect x="297.4" y="652.0" width="18.400000000000034" height="91.95000000000005" fill="#1b1b1b" />
<rect x="317.5" y="675.0" width="18.0" height="68.95000000000005" fill="#cd9f67" />
<line x1="306.5" y1="652.0" x2="306.5" y2="648.5" stroke="#111" stroke-width="1.1" />
<line x1="302.2" y1="648.5" x2="310.8" y2="648.5" stroke="#111" stroke-width="1.3" />
<line x1="326.5" y1="675.0" x2="326.5" y2="668.2" stroke="#111" stroke-width="1.1" />
<line x1="322.2" y1="668.2" x2="330.8" y2="668.2" stroke="#111" stroke-width="1.3" />
<line x1="316.5" y1="743.95" x2="316.5" y2="747.75" stroke="#111" stroke-width="1.2" />
<text x="316.5" y="762.5" font-size="10" text-anchor="middle" fill="#1a1a1a" >45</text>
<rect x="356.0" y="636.5" width="18.0" height="107.45000000000005" fill="#1b1b1b" />
<rect x="376.0" y="664.9" width="18.30000000000001" height="79.05000000000007" fill="#cd9f67" />
<line x1="364.5" y1="636.5" x2="364.5" y2="631.5" stroke="#111" stroke-width="1.1" />
<line x1="360.2" y1="631.5" x2="368.8" y2="631.5" stroke="#111" stroke-width="1.3" />
<line x1="385.5" y1="664.9" x2="385.5" y2="658.5" stroke="#111" stroke-width="1.1" />
<line x1="381.2" y1="658.5" x2="389.8" y2="658.5" stroke="#111" stroke-width="1.3" />
<line x1="374.6" y1="743.95" x2="374.6" y2="747.75" stroke="#111" stroke-width="1.2" />
<text x="374.6" y="762.5" font-size="10" text-anchor="middle" fill="#1a1a1a" >60</text>
<line x1="249.10000000000002" y1="587.4" x2="270.40000000000003" y2="587.4" stroke="#111" stroke-width="1.3" />
<text x="259.6" y="588.0" font-size="13" text-anchor="middle" fill="#222" style="stroke-width:0.05px">*</text>
<line x1="307.8" y1="643.1" x2="328.0" y2="643.1" stroke="#111" stroke-width="1.3" />
<text x="317.8" y="643.7" font-size="13" text-anchor="middle" fill="#222" style="stroke-width:0.05px">*</text>
<line x1="364.5" y1="626.4" x2="384.8" y2="626.4" stroke="#111" stroke-width="1.3" />
<text x="374.20000000000005" y="627.0" font-size="13" text-anchor="middle" fill="#222" style="stroke-width:0.05px">*</text>
<rect x="303" y="582.5" width="17.3" height="7.5" fill="#1b1b1b" />
<rect x="303" y="599.8" width="17.3" height="7.3" fill="#cd9f67" />
<text x="326.6" y="590.1" font-size="10.5" text-anchor="start" fill="#1a1a1a" textLength="18.8" lengthAdjust="spacingAndGlyphs" >TPO</text>
<text x="326.8" y="606.9" font-size="10.5" text-anchor="start" fill="#1a1a1a" textLength="62.2" lengthAdjust="spacingAndGlyphs" >Eltrombopag</text>
<text x="254" y="781.5" font-size="13.5" text-anchor="start" fill="#1a1a1a" textLength="65.2" lengthAdjust="spacingAndGlyphs" >Time (min)</text>
<text x="131.2" y="714" font-size="12" text-anchor="start" fill="#1a1a1a" textLength="98.6" lengthAdjust="spacingAndGlyphs" transform="rotate(-90 131.2 714)" >Fold decrease in</text>
<text x="147.8" y="729.6" font-size="12" text-anchor="start" fill="#1a1a1a" textLength="129" lengthAdjust="spacingAndGlyphs" transform="rotate(-90 147.8 729.6)" >internalization scores</text>
<rect x="0" y="0" width="1" height="796" fill="#8a8a8a"/><rect x="1" y="0" width="1" height="796" fill="#161616"/>
<rect x="518" y="0" width="1.1" height="796" fill="#161616"/><rect x="519.1" y="0" width="0.9" height="796" fill="#8a8a8a"/>
<rect x="0" y="0" width="520" height="1.5" fill="#0a0a0a"/><rect x="0" y="794.3" width="520" height="1.7" fill="#0a0a0a"/>
</svg></body></html>
